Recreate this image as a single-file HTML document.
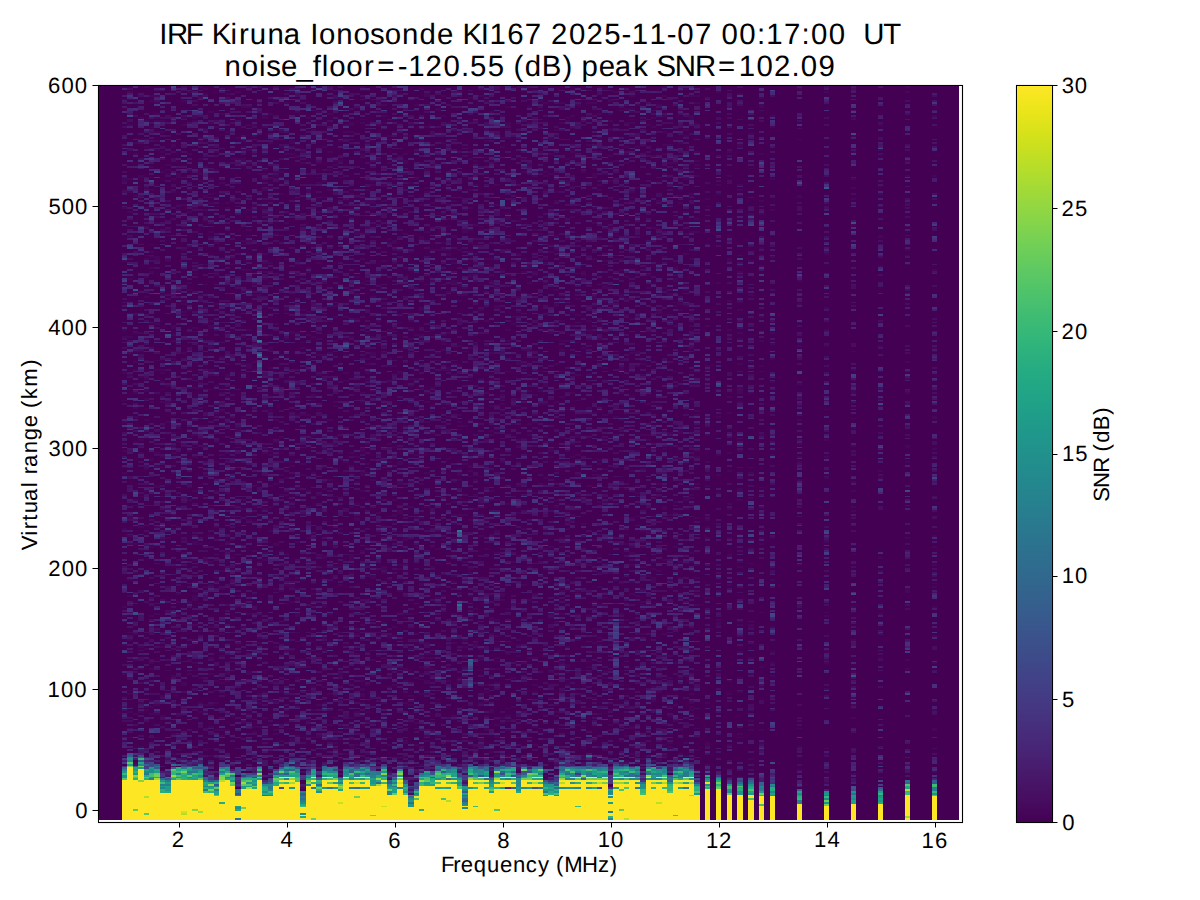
<!DOCTYPE html><html><head><meta charset="utf-8"><title>IRF Kiruna Ionosonde KI167</title><style>html,body{margin:0;padding:0;background:#fff;width:1200px;height:900px;overflow:hidden}svg{display:block}text{font-family:"Liberation Sans",sans-serif;fill:#000;text-rendering:geometricPrecision;font-variant-ligatures:none;font-kerning:none}</style></head><body><svg width="1200" height="900" viewBox="0 0 1200 900"><rect x="0" y="0" width="1200" height="900" fill="#fff"/><defs><linearGradient id="vir" x1="0" y1="0" x2="0" y2="1"><stop offset="0.0000" stop-color="#fde725"/><stop offset="0.0312" stop-color="#ece51b"/><stop offset="0.0625" stop-color="#d8e219"/><stop offset="0.0938" stop-color="#c2df23"/><stop offset="0.1250" stop-color="#addc30"/><stop offset="0.1562" stop-color="#98d83e"/><stop offset="0.1875" stop-color="#84d44b"/><stop offset="0.2188" stop-color="#70cf57"/><stop offset="0.2500" stop-color="#5ec962"/><stop offset="0.2812" stop-color="#4ec36b"/><stop offset="0.3125" stop-color="#3fbc73"/><stop offset="0.3438" stop-color="#32b67a"/><stop offset="0.3750" stop-color="#28ae80"/><stop offset="0.4062" stop-color="#22a785"/><stop offset="0.4375" stop-color="#1fa088"/><stop offset="0.4688" stop-color="#1f988b"/><stop offset="0.5000" stop-color="#21918c"/><stop offset="0.5312" stop-color="#23898e"/><stop offset="0.5625" stop-color="#26828e"/><stop offset="0.5938" stop-color="#297a8e"/><stop offset="0.6250" stop-color="#2c728e"/><stop offset="0.6562" stop-color="#2f6b8e"/><stop offset="0.6875" stop-color="#33638d"/><stop offset="0.7188" stop-color="#375b8d"/><stop offset="0.7500" stop-color="#3b528b"/><stop offset="0.7812" stop-color="#3e4989"/><stop offset="0.8125" stop-color="#424086"/><stop offset="0.8438" stop-color="#453781"/><stop offset="0.8750" stop-color="#472d7b"/><stop offset="0.9062" stop-color="#482374"/><stop offset="0.9375" stop-color="#48186a"/><stop offset="0.9688" stop-color="#470d60"/><stop offset="1.0000" stop-color="#440154"/></linearGradient></defs><rect x="99" y="86" width="860" height="734" fill="#440154"/><g transform="translate(122.1 820) scale(5.397 -1.8125)" fill="none" stroke-width="1" shape-rendering="crispEdges"><path stroke="#46075a" d="M0.5 43v1m0 36v1m0 15v1m0 15v1m0 4v1m0 42v1m0 30v1m0 2v1m0 8v1m0 15v1m0 11v1m0 14v1m0 19v1m0 3v1m0 23v1m0 13v1m0 28v1m0 9v1m0 4v2m0 43v1M1.5 45v1m0 13v1m0 9v1m0 1v1m0 27v1m0 3v1m0 19v1m0 8v1m0 19v1m0 3v1m0 9v2m0 69v1m0 7v1m0 11v1m0 8v1m0 12v1m0 18v1m0 22v1m0 13v1m0 10v1m0 6v1m0 29v1m0 13v1m0 3v1M2.5 31v1m0 26v1m0 29v1m0 13v1m0 6v1m0 26v1m0 9v1m0 5v1m0 20v1m0 2v1m0 31v1m0 13v1m0 4v1m0 7v1m0 12v1m0 3v1m0 5v1m0 9v1m0 9v1m0 12v1m0 52v1m0 22v1m0 5v1m0 23v1M3.5 40v1m0 18v1m0 4v1m0 18v1m0 11v1m0 65v1m0 16v1m0 23v1m0 6v1m0 34v1m0 13v1m0 4v1m0 4v1m0 44v1m0 40v2m0 19v1m0 11v1M4.5 60v1m0 1v1m0 13v1m0 17v1m0 86v1m0 11v1m0 26v1m0 11v1m0 3v2m0 5v1m0 9v1m0 11v1m0 22v1m0 10v1m0 9v1m0 1v1m0 15v1m0 9v1m0 10v1m0 22v1m0 13v1m0 18v1M5.5 58v1m0 3v1m0 2v1m0 17v1m0 2v1m0 25v1m0 25v1m0 11v1m0 47v2m0 10v1m0 19v1m0 71v1m0 1v1m0 5v1m0 2v1m0 3v1m0 29v1m0 6v1m0 5v1m0 21v1m0 13v1m0 2v1M6.5 45v1m0 12v1m0 4v1m0 40v1m0 8v1m0 47v1m0 21v2m0 9v2m0 6v1m0 45v1m0 4v1m0 10v1m0 8v1m0 35v2m0 18v1m0 39v1m0 4v1m0 4v1m0 5v1m0 1v1m0 1v1m0 5v1m0 3v1M7.5 41v1m0 8v1m0 6v1m0 10v1m0 2v1m0 23v1m0 58v1m0 26v1m0 12v1m0 5v1m0 16v1m0 12v1m0 6v1m0 3v1m0 4v1m0 1v1m0 40v1m0 67v1m0 8v1m0 1v1m0 10v1m0 5v1M8.5 66v1m0 15v1m0 31v1m0 40v1m0 29v1m0 20v1m0 12v1m0 10v1m0 8v1m0 68v1m0 13v1m0 2v1m0 30v1m0 1v1m0 2v1m0 8v1M9.5 36v1m0 10v1m0 31v1m0 80v1m0 7v1m0 7v1m0 14v1m0 10v1m0 3v1m0 6v1m0 9v1m0 7v1m0 22v1m0 3v1m0 5v1m0 2v1m0 3v2m0 73v1m0 6v1m0 17v2M10.5 38v1m0 18v1m0 24v1m0 5v1m0 5v1m0 17v1m0 7v1m0 3v1m0 18v1m0 13v1m0 3v1m0 46v1m0 7v1m0 74v1m0 42v1m0 1v1m0 2v1m0 14v3M11.5 34v1m0 32v1m0 6v2m0 71v1m0 6v1m0 18v1m0 21v1m0 4v1m0 56v1m0 20v1m0 1v1m0 3v1m0 1v1m0 24v1m0 2v1m0 24v1m0 43v1m0 3v1m0 8v1M12.5 71v1m0 8v1m0 7v1m0 7v1m0 13v1m0 8v2m0 55v1m0 6v1m0 1v1m0 2v1m0 14v1m0 16v1m0 17v1m0 9v1m0 32v1m0 10v1m0 3v1m0 38v1m0 2v1m0 8v1m0 19v1m0 33v1M13.5 33v1m0 48v1m0 3v1m0 12v1m0 7v1m0 3v1m0 9v3m0 2v1m0 4v1m0 11v1m0 8v2m0 11v1m0 15v1m0 18v1m0 4v1m0 6v1m0 1v1m0 23v1m0 13v1m0 16v1m0 1v1m0 7v1m0 21v1m0 2v1m0 6v1m0 25v1m0 47v1m0 1v2M14.5 36v1m0 22v1m0 4v1m0 13v1m0 25v1m0 14v1m0 32v1m0 57v1m0 6v1m0 9v1m0 10v1m0 2v1m0 4v1m0 42v1m0 15v1m0 21v1m0 24v1m0 3v1m0 7v1m0 9v1m0 1v1m0 22v1m0 4v1M15.5 34v1m0 3v2m0 5v1m0 13v1m0 3v1m0 13v1m0 14v1m0 35v1m0 14v1m0 18v1m0 27v1m0 15v1m0 10v1m0 43v1m0 5v1m0 5v1m0 8v1m0 12v1m0 10v1m0 10v1m0 12v1m0 5v1m0 6v2m0 15v1m0 20v1m0 18v1m0 2v1M16.5 35v1m0 3v1m0 11v1m0 11v1m0 16v1m0 1v1m0 6v1m0 5v1m0 10v1m0 22v1m0 12v1m0 13v1m0 48v1m0 31v1m0 7v1m0 1v2m0 11v2m0 9v2m0 2v1m0 45v1m0 2v1m0 15v1m0 4v1m0 7v1m0 4v1m0 12v1m0 12v1m0 5v1M17.5 24v2m0 23v1m0 11v1m0 2v1m0 11v1m0 22v1m0 3v1m0 29v1m0 23v1m0 3v1m0 19v1m0 15v1m0 10v1m0 15v1m0 14v1m0 32v1m0 11v1m0 15v1m0 1v1m0 15v1m0 19v1m0 19v1m0 9v1m0 13v1M18.5 46v1m0 2v1m0 25v1m0 6v1m0 7v1m0 1v1m0 9v1m0 24v1m0 9v1m0 13v1m0 42v1m0 6v1m0 19v1m0 3v1m0 9v1m0 11v1m0 7v1m0 89v1m0 5v1m0 8v1m0 25v1m0 2v1M19.5 33v1m0 15v1m0 26v1m0 3v2m0 66v1m0 4v1m0 26v1m0 17v1m0 3v1m0 18v1m0 11v1m0 10v2m0 5v1m0 16v1m0 10v1m0 57v1m0 2v1m0 18v1m0 2v1m0 16v1m0 20v1M20.5 45v1m0 11v1m0 51v1m0 19v1m0 14v1m0 4v1m0 4v1m0 17v1m0 66v1m0 37v1m0 19v1m0 8v1m0 41v1m0 15v1M21.5 60v1m0 24v1m0 31v1m0 5v1m0 16v1m0 30v1m0 27v1m0 7v1m0 6v3m0 41v1m0 22v1m0 12v1m0 11v1m0 10v1m0 46v1m0 11v1m0 24v1M22.5 29v1m0 2v2m0 19v1m0 52v1m0 23v1m0 40v1m0 4v1m0 45v1m0 5v1m0 17v1m0 4v1m0 2v1m0 6v1m0 4v1m0 24v1m0 11v1m0 13v1m0 1v1m0 43v2m0 4v1m0 1v1m0 2v1m0 18v1M23.5 58v1m0 16v1m0 4v2m0 31v1m0 51v1m0 3v1m0 51v1m0 27v3m0 8v1m0 4v1m0 4v1m0 32v1m0 13v1m0 1v1m0 2v1m0 2v1m0 10v1m0 6v1m0 18v1m0 6v1m0 5v1m0 7v1m0 9v1M24.5 35v1m0 12v1m0 2v1m0 59v1m0 12v1m0 13v1m0 9v1m0 15v1m0 19v1m0 14v1m0 26v1m0 3v1m0 12v1m0 4v1m0 3v1m0 36v1m0 49v1m0 27v1m0 9v1m0 5v1m0 5v1M25.5 30v1m0 20v1m0 12v1m0 4v1m0 18v1m0 2v1m0 5v1m0 2v1m0 26v1m0 14v1m0 9v1m0 62v1m0 73v1m0 66v1m0 38v1M26.5 23v1m0 22v1m0 9v1m0 13v1m0 11v1m0 4v1m0 55v1m0 3v1m0 23v1m0 2v1m0 27v1m0 1v1m0 33v1m0 16v1m0 18v1m0 8v1m0 14v1m0 3v1m0 4v1m0 4v1m0 21v1m0 3v1m0 8v1m0 8v1m0 1v1m0 8v1m0 14v1m0 4v2M27.5 34v1m0 17v1m0 13v1m0 8v1m0 34v1m0 48v1m0 12v1m0 11v1m0 4v1m0 11v1m0 1v1m0 22v1m0 22v1m0 3v1m0 5v2m0 18v1m0 16v1m0 10v1m0 24v1m0 15v1m0 4v1m0 19v1m0 15v1M28.5 40v1m0 6v1m0 1v1m0 15v1m0 8v1m0 1v1m0 10v1m0 7v1m0 31v1m0 17v1m0 5v2m0 22v1m0 9v1m0 15v1m0 6v1m0 11v1m0 52v1m0 8v1m0 17v1m0 22v1m0 31v1m0 1v1m0 22v1M29.5 43v1m0 26v2m0 50v1m0 3v1m0 21v1m0 13v1m0 16v1m0 10v1m0 20v1m0 35v1m0 8v1m0 56v1m0 20v1m0 10v1m0 11v1m0 13v1m0 7v1M30.5 53v1m0 4v1m0 60v1m0 9v1m0 3v1m0 6v1m0 33v1m0 4v1m0 8v1m0 8v1m0 33v1m0 33v1m0 15v2m0 26v1m0 19v1m0 37v1m0 27v1M31.5 43v2m0 5v1m0 29v1m0 12v1m0 26v1m0 7v2m0 21v1m0 20v1m0 2v1m0 7v1m0 11v1m0 1v1m0 70v2m0 97v1m0 5v2m0 26v1M32.5 34v1m0 11v1m0 30v2m0 1v1m0 7v1m0 14v1m0 3v1m0 4v2m0 7v1m0 5v1m0 5v1m0 19v1m0 2v1m0 13v1m0 11v2m0 14v1m0 24v1m0 9v1m0 8v1m0 25v1m0 32v1m0 4v1m0 1v1m0 56v2m0 5v1m0 17v1M33.5 17v1m0 14v1m0 5v1m0 6v1m0 42v1m0 43v1m0 35v1m0 21v1m0 5v1m0 26v1m0 36v1m0 2v1m0 15v1m0 1v1m0 24v1m0 55v1m0 5v1m0 12v1M34.5 33v1m0 15v1m0 4v1m0 16v1m0 12v1m0 61v1m0 8v1m0 16v1m0 8v1m0 27v1m0 13v1m0 24v1m0 5v1m0 12v1m0 12v1m0 6v1m0 14v1m0 1v1m0 19v1m0 21v2m0 39v1M35.5 45v1m0 14v1m0 12v1m0 24v1m0 25v1m0 5v1m0 7v1m0 52v1m0 20v1m0 18v1m0 2v1m0 16v1m0 14v1m0 6v1m0 11v1m0 41v1m0 52v1m0 22v1M36.5 45v2m0 16v1m0 27v1m0 33v1m0 19v1m0 24v2m0 7v1m0 46v1m0 18v1m0 10v1m0 4v1m0 3v1m0 6v1m0 24v1m0 9v1m0 19v1m0 7v1m0 15v1m0 2v1m0 7v1m0 27v1m0 11v1M37.5 38v1m0 25v1m0 1v1m0 6v1m0 2v1m0 5v1m0 11v1m0 2v1m0 2v1m0 16v2m0 25v2m0 36v1m0 3v1m0 7v1m0 9v1m0 51v1m0 39v1m0 16v1m0 29v1m0 8v1m0 18v1M38.5 30v1m0 2v1m0 18v1m0 16v1m0 25v1m0 17v1m0 40v1m0 4v1m0 27v1m0 11v1m0 3v1m0 16v1m0 36v1m0 17v1m0 10v1m0 60v1m0 10v1m0 9v1m0 20v1M39.5 42v1m0 5v1m0 7v1m0 11v1m0 38v1m0 31v1m0 11v1m0 11v1m0 14v1m0 28v1m0 20v1m0 1v1m0 33v1m0 12v1m0 5v1m0 6v1m0 70v1m0 1v1m0 32v1M40.5 33v1m0 10v1m0 10v1m0 23v2m0 48v1m0 9v1m0 20v1m0 37v1m0 66v1m0 29v1m0 18v1m0 11v1m0 11v1m0 15v1m0 8v1m0 10v1m0 23v1M41.5 36v1m0 14v1m0 54v1m0 12v1m0 30v1m0 30v1m0 15v1m0 44v1m0 3v1m0 9v1m0 7v1m0 12v1m0 33v1m0 67v1m0 3v1m0 5v1M42.5 40v1m0 10v1m0 4v1m0 79v1m0 3v1m0 2v4m0 25v1m0 12v1m0 9v1m0 6v1m0 63v1m0 18v1m0 1v1m0 57v1m0 1v1m0 31v1m0 3v2M43.5 41v1m0 17v1m0 7v1m0 23v1m0 10v1m0 1v1m0 41v1m0 18v2m0 7v1m0 11v1m0 13v1m0 37v1m0 8v1m0 28v1m0 2v1m0 9v2m0 8v1m0 14v1m0 8v2m0 18v1M44.5 57v1m0 6v1m0 3v2m0 1v2m0 3v1m0 8v1m0 13v1m0 7v1m0 12v1m0 27v1m0 28v1m0 3v1m0 8v2m0 6v1m0 4v2m0 4v1m0 10v1m0 9v1m0 1v1m0 2v1m0 13v1m0 46v1m0 12v1m0 17v1m0 16v1m0 21v2m0 16v1m0 1v1m0 15v1m0 1v1M45.5 36v1m0 17v1m0 4v1m0 14v1m0 17v1m0 26v1m0 10v1m0 3v1m0 5v1m0 34v1m0 15v1m0 4v1m0 10v1m0 35v1m0 2v2m0 3v1m0 2v1m0 12v1m0 29v1m0 25v1m0 2v1m0 13v2m0 1v1m0 3v1m0 25v1m0 20v1m0 7v1M46.5 53v1m0 25v1m0 2v1m0 5v1m0 33v1m0 10v2m0 31v1m0 11v1m0 8v1m0 4v1m0 43v1m0 3v1m0 15v2m0 8v1m0 21v1m0 48v1m0 2v2m0 8v1m0 1v1m0 23v1M47.5 43v1m0 37v1m0 8v1m0 8v1m0 1v1m0 55v1m0 3v1m0 7v1m0 14v1m0 12v1m0 12v2m0 30v1m0 4v1m0 27v1m0 16v1m0 9v1m0 8v1m0 51v2m0 18v1m0 12v1M48.5 57v1m0 6v1m0 24v1m0 18v1m0 10v1m0 16v1m0 1v2m0 12v1m0 76v1m0 1v1m0 25v1m0 8v1m0 17v2m0 22v1m0 28v1m0 3v1m0 7v2m0 33v1m0 3v1m0 5v1m0 2v1M49.5 41v1m0 3v1m0 27v1m0 5v1m0 2v1m0 17v2m0 30v1m0 17v1m0 16v1m0 24v1m0 4v1m0 9v1m0 6v1m0 26v1m0 8v1m0 3v1m0 15v1m0 10v1m0 36v1m0 1v1m0 23v1m0 10v1m0 6v1m0 12v1m0 1v1M50.5 61v1m0 12v1m0 21v1m0 4v1m0 4v1m0 49v1m0 10v2m0 7v1m0 5v1m0 22v1m0 9v1m0 26v1m0 7v1m0 20v1m0 35v1m0 6v1m0 3v2m0 59v1m0 6v1M51.5 32v1m0 93v1m0 3v1m0 7v1m0 1v1m0 28v2m0 14v2m0 9v2m0 24v1m0 3v1m0 19v2m0 11v1m0 14v1m0 20v1m0 2v1m0 57v1m0 6v1m0 2v1m0 14v1m0 18v1M52.5 42v2m0 20v1m0 11v1m0 5v2m0 27v1m0 1v1m0 35v1m0 4v2m0 61v1m0 2v1m0 21v1m0 40v1m0 13v1m0 6v1m0 18v1m0 12v1m0 12v1m0 6v1m0 5v2m0 3v1m0 18v1M53.5 19v1m0 1v1m0 7v1m0 25v1m0 7v1m0 4v1m0 13v1m0 7v1m0 3v1m0 18v1m0 58v1m0 13v1m0 9v1m0 42v1m0 3v1m0 21v1m0 5v1m0 3v1m0 37v1m0 37v1m0 31v1M54.5 41v1m0 11v1m0 17v1m0 6v1m0 10v1m0 12v1m0 47v1m0 13v1m0 1v1m0 31v1m0 2v1m0 1v1m0 9v1m0 8v1m0 10v1m0 9v1m0 23v1m0 6v1m0 18v1m0 59v1m0 14v1m0 25v1M55.5 30v1m0 38v1m0 7v1m0 2v1m0 3v1m0 5v1m0 38v2m0 35v1m0 18v1m0 2v1m0 12v1m0 5v1m0 30v1m0 12v1m0 15v1m0 13v2m0 4v1m0 9v1m0 22v2m0 17v1m0 3v1m0 18v1m0 5v1m0 5v1m0 28v1M56.5 37v1m0 5v1m0 2v1m0 22v1m0 5v2m0 6v1m0 5v1m0 1v1m0 5v1m0 21v1m0 35v1m0 16v1m0 18v1m0 27v1m0 10v1m0 4v1m0 27v1m0 15v1m0 4v1m0 10v1m0 28v1m0 2v1m0 10v1m0 7v1m0 1v1m0 9v1m0 23v1m0 16v2M57.5 27v1m0 21v1m0 33v1m0 5v1m0 1v1m0 41v1m0 5v1m0 10v1m0 17v1m0 35v1m0 20v1m0 2v1m0 9v1m0 14v1m0 16v1m0 2v1m0 16v1m0 6v1m0 16v1m0 20v1m0 4v1m0 20v1m0 32v1M58.5 46v1m0 17v1m0 1v1m0 55v1m0 5v1m0 12v1m0 7v1m0 9v1m0 93v1m0 3v1m0 56v1m0 23v1m0 19v1m0 27v1m0 4v2M59.5 31v1m0 8v1m0 39v1m0 36v1m0 5v1m0 11v1m0 18v1m0 39v1m0 32v1m0 1v1m0 18v1m0 10v1m0 2v1m0 4v1m0 20v1m0 12v1m0 12v1m0 3v1m0 8v1m0 6v1m0 38v1m0 14v1m0 10v1M60.5 36v1m0 34v1m0 4v1m0 11v1m0 7v1m0 45v1m0 50v1m0 5v1m0 22v1m0 25v2m0 18v1m0 22v1m0 19v2m0 1v1m0 12v1m0 3v1m0 7v1m0 7v1m0 36v1M61.5 31v1m0 4v1m0 5v1m0 12v1m0 1v1m0 11v1m0 2v1m0 24v1m0 4v1m0 10v1m0 17v1m0 2v1m0 20v1m0 7v1m0 4v1m0 6v1m0 10v1m0 24v1m0 33v1m0 5v1m0 39v1m0 4v2m0 9v1m0 13v2m0 15v1m0 2v1m0 32v1M62.5 43v1m0 24v1m0 7v1m0 1v1m0 15v1m0 29v2m0 42v1m0 8v1m0 9v1m0 2v2m0 1v1m0 17v1m0 3v1m0 1v1m0 1v1m0 3v1m0 6v1m0 11v1m0 7v1m0 10v1m0 1v1m0 10v1m0 11v1m0 2v1m0 4v1m0 19v1m0 4v1m0 36v1m0 22v1m0 6v1M63.5 33v2m0 11v1m0 37v1m0 4v1m0 5v1m0 3v1m0 9v1m0 24v1m0 7v1m0 17v1m0 7v1m0 27v1m0 20v1m0 40v1m0 30v1m0 3v1m0 14v1m0 15v2m0 10v1m0 45v1M64.5 41v1m0 1v1m0 49v1m0 9v1m0 19v1m0 12v1m0 1v1m0 5v1m0 20v1m0 10v1m0 12v1m0 2v1m0 1v2m0 24v1m0 21v1m0 17v1m0 38v2m0 10v1m0 1v1m0 4v1m0 6v1m0 11v1m0 9v1m0 16v1m0 33v1M65.5 32v1m0 7v1m0 4v1m0 44v1m0 5v2m0 18v1m0 13v1m0 35v1m0 4v1m0 7v1m0 7v1m0 13v1m0 3v1m0 4v1m0 21v1m0 13v1m0 6v1m0 8v1m0 4v1m0 36v1m0 2v1m0 4v1m0 15v1m0 21v1m0 12v1M66.5 43v2m0 19v1m0 17v1m0 5v2m0 4v1m0 9v1m0 18v1m0 32v1m0 17v1m0 14v1m0 35v1m0 17v1m0 37v1m0 13v1m0 5v1m0 23v1m0 1v1m0 71v1M67.5 49v2m0 6v1m0 12v1m0 3v1m0 12v1m0 16v1m0 44v1m0 11v1m0 3v1m0 20v1m0 8v1m0 36v1m0 2v1m0 5v1m0 19v1m0 13v1m0 30v1m0 2v1m0 46v1m0 8v1m0 8v1m0 2v1m0 2v2m0 4v1m0 9v1M68.5 25v2m0 10v1m0 21v2m0 41v1m0 7v2m0 45v1m0 18v1m0 4v1m0 30v1m0 1v1m0 13v1m0 3v1m0 12v1m0 11v1m0 1v1m0 37v1m0 2v1m0 8v1m0 26v1m0 17v1m0 35v1M69.5 35v1m0 9v2m0 5v1m0 2v1m0 10v1m0 8v1m0 7v1m0 3v1m0 1v1m0 5v1m0 2v1m0 2v1m0 8v1m0 20v1m0 3v1m0 11v1m0 11v1m0 6v1m0 9v1m0 22v1m0 15v1m0 10v1m0 55v2m0 10v1m0 32v1m0 11v1m0 10v1M70.5 31v1m0 12v1m0 8v1m0 2v1m0 64v1m0 1v2m0 72v1m0 27v1m0 3v1m0 2v1m0 1v1m0 38v1m0 21v1m0 7v1m0 25v1m0 41v1m0 4v1m0 11v1m0 2v1M71.5 35v1m0 13v1m0 4v1m0 2v1m0 3v1m0 20v1m0 8v1m0 24v1m0 57v1m0 40v1m0 7v1m0 23v1m0 16v1m0 5v1m0 29v1m0 30v2m0 1v1m0 14v1m0 5v1m0 20v1m0 3v1m0 2v2m0 8v1M72.5 32v1m0 16v1m0 5v1m0 6v1m0 15v1m0 15v1m0 44v1m0 2v1m0 75v1m0 9v1m0 44v1m0 3v1m0 8v1m0 11v1M73.5 27v1m0 6v1m0 55v1m0 5v1m0 2v1m0 19v1m0 25v1m0 23v1m0 14v1m0 12v1m0 8v1m0 2v1m0 12v1m0 5v1m0 3v1m0 3v1m0 14v2m0 15v1m0 11v1m0 7v1m0 6v1m0 12v1m0 3v1m0 13v1m0 3v1m0 2v1m0 31v1m0 15v1m0 22v1M74.5 32v1m0 53v1m0 24v1m0 17v1m0 30v1m0 29v1m0 19v1m0 37v1m0 2v1m0 7v1m0 42v1m0 1v1m0 4v1m0 27v1m0 19v1m0 6v1m0 39v1M75.5 30v1m0 58v1m0 5v1m0 25v1m0 17v1m0 8v1m0 33v1m0 10v1m0 18v1m0 5v1m0 17v1m0 8v1m0 13v1m0 36v1m0 7v3m0 9v1m0 44v1m0 22v1m0 8v1M76.5 41v1m0 9v1m0 11v1m0 1v1m0 4v1m0 3v1m0 14v1m0 26v1m0 7v1m0 55v1m0 28v1m0 9v1m0 3v1m0 10v1m0 51v1m0 13v1m0 1v1m0 1v1m0 6v1m0 13v1m0 29v1M77.5 93v1m0 50v1m0 40v1m0 19v1m0 23v1m0 6v1m0 10v1m0 7v1m0 41v1m0 25v1m0 44v1m0 1v1m0 11v1m0 13v2M78.5 22v1m0 1v1m0 23v1m0 35v1m0 5v1m0 47v1m0 7v1m0 2v1m0 3v1m0 18v1m0 2v1m0 12v1m0 19v1m0 2v1m0 17v1m0 9v2m0 29v1m0 7v1m0 17v1m0 10v1m0 1v1m0 33v1m0 3v1m0 2v1m0 4v1m0 1v1m0 8v1m0 3v1m0 24v1m0 8v1M79.5 41v1m0 25v1m0 13v1m0 29v1m0 1v1m0 23v1m0 5v1m0 6v1m0 11v1m0 37v1m0 2v2m0 3v1m0 12v1m0 15v1m0 30v1m0 44v1m0 17v1m0 6v1m0 17v1m0 2v1m0 7v1m0 7v2m0 12v1M80.5 25v2m0 3v1m0 26v1m0 1v1m0 3v1m0 44v1m0 6v1m0 1v1m0 5v1m0 48v1m0 3v1m0 6v1m0 9v1m0 11v1m0 24v1m0 20v1m0 31v2m0 7v1m0 21v1m0 6v1m0 19v1m0 4v1m0 30v1m0 2v1M81.5 70v1m0 8v1m0 2v1m0 3v1m0 18v2m0 6v1m0 12v1m0 23v1m0 4v1m0 12v1m0 42v1m0 21v1m0 13v1m0 10v2m0 4v1m0 10v1m0 10v1m0 17v1m0 45v1m0 33v1m0 10v1M82.5 38v1m0 22v1m0 12v1m0 6v1m0 2v2m0 9v1m0 23v1m0 12v1m0 22v1m0 4v1m0 1v1m0 1v1m0 38v1m0 22v1m0 37v1m0 23v1m0 31v1m0 4v1m0 4v1m0 5v1m0 15v1m0 11v1m0 20v1m0 1v1M83.5 50v1m0 55v1m0 47v1m0 10v1m0 2v1m0 8v1m0 22v1m0 6v1m0 2v1m0 3v1m0 10v1m0 9v1m0 44v1m0 14v1m0 36v1m0 16v1m0 15v1m0 2v2m0 11v1m0 6v1M84.5 52v1m0 5v1m0 28v1m0 11v1m0 13v1m0 5v1m0 6v1m0 14v1m0 12v1m0 22v1m0 1v1m0 10v1m0 10v1m0 9v2m0 18v1m0 13v1m0 7v1m0 2v1m0 6v1m0 14v1m0 8v1m0 3v1m0 5v1m0 3v1m0 2v1m0 30v1m0 58v1M85.5 34v1m0 4v2m0 10v1m0 17v1m0 12v1m0 80v1m0 96v1m0 39v1m0 1v1m0 30v1m0 23v1M86.5 32v1m0 28v1m0 19v1m0 2v1m0 2v1m0 21v1m0 2v1m0 27v1m0 3v1m0 39v1m0 30v1m0 10v2m0 17v1m0 12v1m0 10v2m0 4v1m0 19v1m0 10v1m0 4v1m0 3v1m0 22v1m0 33v1m0 13v1m0 1v1m0 6v1M87.5 33v1m0 9v1m0 23v1m0 2v1m0 6v1m0 19v1m0 7v1m0 14v1m0 33v1m0 35v1m0 1v1m0 31v1m0 53v1m0 4v1m0 1v1m0 1v2m0 20v1m0 19v1m0 7v1m0 17v2m0 2v1m0 35v1M88.5 32v2m0 24v1m0 22v1m0 14v1m0 3v1m0 4v1m0 12v1m0 9v1m0 7v1m0 9v1m0 28v1m0 14v1m0 5v1m0 1v1m0 66v1m0 24v1m0 30v1m0 9v1m0 15v1m0 2v1m0 17v1m0 1v1m0 5v1m0 12v1m0 14v1M89.5 38v1m0 27v1m0 5v1m0 5v1m0 2v2m0 35v1m0 3v1m0 2v1m0 15v1m0 12v1m0 20v1m0 7v1m0 9v1m0 5v1m0 5v1m0 1v1m0 15v1m0 25v1m0 9v1m0 2v1m0 19v1m0 3v1m0 6v2m0 11v1m0 1v1m0 22v1m0 24v1m0 4v1M90.5 49v1m0 2v1m0 7v1m0 7v1m0 25v1m0 1v1m0 1v1m0 8v1m0 1v1m0 26v1m0 17v1m0 21v1m0 5v1m0 22v1m0 15v1m0 19v1m0 51v1m0 22v1m0 9v1m0 10v1m0 4v1m0 9v1m0 13v1m0 13v2m0 3v1m0 3v1m0 6v2M91.5 66v1m0 65v1m0 6v1m0 72v1m0 9v1m0 32v1m0 23v1m0 9v1m0 19v1m0 12v1m0 40v1m0 11v1m0 25v1M92.5 35v1m0 7v1m0 10v1m0 11v1m0 7v1m0 33v1m0 4v1m0 16v1m0 58v1m0 25v1m0 4v1m0 14v1m0 12v2m0 4v1m0 33v2m0 13v1m0 5v1m0 24v1M93.5 32v1m0 13v1m0 15v1m0 9v1m0 37v1m0 41v1m0 4v1m0 24v1m0 12v1m0 82v1m0 8v1m0 11v1m0 38v1m0 4v1m0 18v1m0 4v1m0 3v1m0 12v1m0 7v1m0 9v1M94.5 36v1m0 3v1m0 9v2m0 62v1m0 9v1m0 6v1m0 8v1m0 5v2m0 2v1m0 15v1m0 25v1m0 14v1m0 2v1m0 22v1m0 23v1m0 18v1m0 2v1m0 13v1m0 15v1m0 31v1m0 1v1m0 2v1m0 37v1m0 1v1m0 3v1m0 1v1m0 6v1M95.5 80v1m0 1v1m0 19v1m0 20v1m0 2v1m0 3v1m0 13v1m0 22v1m0 5v1m0 6v1m0 3v1m0 18v1m0 22v1m0 23v1m0 6v2m0 20v1m0 68v1m0 22v1m0 22v1M96.5 33v1m0 57v1m0 10v1m0 13v1m0 1v1m0 1v1m0 6v1m0 11v1m0 10v1m0 2v1m0 5v1m0 33v1m0 12v1m0 5v1m0 4v1m0 27v1m0 5v1m0 1v1m0 137v1M97.5 75v1m0 2v1m0 28v1m0 10v1m0 15v1m0 2v1m0 13v1m0 6v2m0 49v1m0 2v1m0 16v1m0 14v1m0 1v1m0 7v1m0 14v1m0 23v1m0 6v1m0 14v1m0 67v1M98.5 31v1m0 33v1m0 7v1m0 44v1m0 12v3m0 4v1m0 3v1m0 19v1m0 74v1m0 88v1m0 39v1m0 2v1m0 12v1m0 4v1M99.5 30v1m0 1v2m0 36v1m0 7v1m0 58v1m0 40v1m0 6v1m0 26v1m0 15v1m0 21v1m0 28v2m0 40v1m0 1v1m0 17v1m0 52v1M100.5 35v1m0 5v1m0 10v1m0 15v1m0 15v1m0 17v1m0 14v1m0 5v1m0 11v1m0 7v1m0 27v2m0 4v1m0 6v1m0 15v1m0 3v1m0 9v1m0 46v1m0 1v1m0 7v1m0 21v1m0 16v1m0 6v1m0 38v1m0 10v1m0 2v1m0 1v1m0 6v1m0 8v1m0 10v1m0 4v1M101.5 40v1m0 1v1m0 4v1m0 9v1m0 4v1m0 15v1m0 11v1m0 26v1m0 14v1m0 33v1m0 1v1m0 20v1m0 16v1m0 6v1m0 64v1m0 10v2m0 48v1m0 14v1m0 7v1m0 9v1M102.5 54v1m0 8v1m0 2v1m0 19v1m0 22v1m0 5v1m0 34v1m0 18v1m0 5v1m0 71v1m0 24v1m0 10v1m0 1v1m0 11v2m0 1v1m0 3v1m0 6v1m0 50v1m0 7v1M103.5 33v1m0 2v1m0 12v2m0 27v1m0 54v1m0 8v1m0 70v2m0 19v1m0 17v1m0 9v1m0 2v1m0 15v1m0 2v1m0 16v1m0 38v1m0 3v1m0 2v1m0 25v1m0 28v1M104.5 35v1m0 6v1m0 36v1m0 10v1m0 50v1m0 29v1m0 4v2m0 105v1m0 8v1m0 1v1m0 17v1m0 10v1m0 11v1m0 17v1m0 4v1m0 18v1m0 2v1m0 22v1M105.5 58v1m0 1v1m0 1v1m0 1v1m0 4v1m0 2v1m0 19v1m0 1v1m0 42v1m0 4v1m0 4v1m0 10v1m0 15v1m0 2v1m0 1v1m0 4v1m0 14v1m0 5v1m0 26v1m0 7v1m0 1v1m0 4v1m0 12v1m0 3v1m0 1v1m0 5v1m0 36v1m0 14v1m0 19v2m0 7v1m0 8v1m0 7v1m0 15v3m0 10v1M106.5 27v1m0 10v1m0 6v1m0 4v1m0 5v1m0 25v1m0 35v1m0 5v1m0 8v1m0 6v1m0 25v1m0 18v1m0 14v1m0 2v1m0 19v1m0 1v1m0 14v1m0 22v1m0 37v1m0 22v1m0 6v1m0 4v1m0 18v1m0 5v1m0 1v1m0 4v1m0 12v1m0 13v1m0 3v1M108.5 30v1m0 10v2m0 21v1m0 38v1m0 18v1m0 32v1m0 5v1m0 3v1m0 18v1m0 5v1m0 6v1m0 14v1m0 26v1m0 8v1m0 1v1m0 15v1m0 5v1m0 54v1m0 10v1m0 3v1M110.5 107v2m0 1v1m0 15v1m0 35v1m0 17v1m0 9v1m0 10v1m0 20v1m0 73v1m0 27v1m0 20v1m0 4v1m0 50v1M112.5 41v1m0 27v1m0 6v1m0 52v1m0 15v2m0 8v1m0 15v1m0 2v1m0 17v1m0 6v1m0 2v1m0 21v1m0 8v1m0 32v1m0 3v1m0 15v1m0 21v2m0 45v1m0 12v1M114.5 45v1m0 1v1m0 22v1m0 7v1m0 13v1m0 14v1m0 1v1m0 29v1m0 2v1m0 12v1m0 1v1m0 18v1m0 4v2m0 20v1m0 26v1m0 4v2m0 1v1m0 12v1m0 13v1m0 2v1m0 12v1m0 3v1m0 14v1m0 1v1m0 2v1m0 5v1m0 32v1m0 2v1m0 2v1m0 20v2m0 27v1M116.5 33v1m0 15v1m0 4v1m0 25v1m0 8v1m0 16v2m0 33v1m0 35v1m0 13v1m0 2v1m0 40v1m0 1v1m0 14v1m0 36v1m0 18v1m0 25v1m0 24v1m0 18v1M118.5 42v1m0 6v1m0 23v1m0 10v1m0 29v1m0 37v1m0 2v1m0 6v1m0 20v1m0 28v1m0 34v1m0 2v1m0 13v1m0 12v1m0 27v1m0 9v1m0 18v1m0 6v1m0 25v1m0 25v2m0 3v1M120.5 79v1m0 6v1m0 5v1m0 13v1m0 25v1m0 22v1m0 43v1m0 1v1m0 39v1m0 12v1m0 7v1m0 5v1m0 41v1m0 11v1m0 13v1m0 16v1m0 5v1m0 22v1m0 5v1M125.5 27v1m0 12v1m0 9v1m0 31v1m0 57v1m0 46v1m0 9v1m0 2v1m0 6v1m0 12v1m0 7v1m0 11v1m0 20v1m0 12v1m0 9v1m0 12v1m0 3v1m0 41v2m0 30v1m0 27v1M130.5 20v1m0 15v1m0 2v1m0 32v1m0 13v1m0 1v1m0 4v1m0 15v1m0 2v1m0 1v1m0 38v1m0 3v1m0 30v1m0 11v1m0 8v1m0 16v1m0 34v1m0 8v1m0 11v1m0 29v1m0 88v1M135.5 25v1m0 30v1m0 4v1m0 1v1m0 3v1m0 2v1m0 10v1m0 17v1m0 14v1m0 2v1m0 28v1m0 4v1m0 18v1m0 1v1m0 8v1m0 4v1m0 15v1m0 3v1m0 9v1m0 4v1m0 13v2m0 5v1m0 5v1m0 9v1m0 69v1m0 13v1m0 5v1m0 4v1m0 14v1m0 8v1m0 9v1M140.5 89v1m0 19v1m0 3v1m0 2v1m0 20v1m0 6v1m0 43v1m0 3v1m0 5v1m0 29v1m0 3v1m0 4v1m0 9v1m0 13v1m0 43v1m0 15v2m0 22v1m0 3v1m0 19v1m0 13v1M145.5 83v1m0 4v1m0 36v3m0 27v1m0 41v1m0 7v2m0 28v1m0 7v1m0 8v1m0 53v1m0 4v1m0 2v1m0 12v1m0 12v1m0 14v1m0 7v1m0 37v1m0 2v1M150.5 23v1m0 2v1m0 22v2m0 9v1m0 25v1m0 14v1m0 15v1m0 10v1m0 1v1m0 9v1m0 9v1m0 5v1m0 47v1m0 16v2m0 35v1m0 1v1m0 42v1m0 51v1m0 32v1"/><path stroke="#470d60" d="M0.5 54v1m0 5v1m0 6v1m0 17v1m0 23v1m0 29v1m0 39v1m0 33v1m0 15v1m0 30v1m0 4v1m0 19v1m0 1v1m0 8v1m0 49v1m0 4v1m0 2v1m0 2v1m0 24v1M1.5 48v1m0 1v1m0 3v1m0 1v1m0 9v1m0 10v2m0 22v1m0 12v1m0 23v1m0 1v1m0 24v1m0 17v1m0 4v2m0 13v1m0 40v1m0 19v1m0 44v1m0 12v1m0 4v1m0 41v1m0 15v2m0 16v1M2.5 30v1m0 21v1m0 18v1m0 9v1m0 43v1m0 39v1m0 48v1m0 14v1m0 10v1m0 28v1m0 9v1m0 33v1m0 74v1M3.5 46v1m0 28v1m0 12v2m0 3v1m0 32v1m0 39v1m0 13v1m0 4v1m0 9v1m0 1v1m0 8v1m0 48v2m0 2v1m0 57v1m0 26v1m0 19v1m0 8v1m0 25v1M4.5 54v1m0 45v1m0 2v1m0 16v1m0 30v1m0 7v1m0 2v1m0 22v1m0 8v2m0 18v1m0 29v1m0 17v1m0 12v1m0 2v1m0 12v1m0 14v1m0 19v1m0 20v1m0 6v1m0 20v1M5.5 45v2m0 22v1m0 18v1m0 10v1m0 2v2m0 6v1m0 7v2m0 2v1m0 10v1m0 31v1m0 7v1m0 15v1m0 70v1m0 23v1m0 16v1m0 6v1m0 2v1m0 22v1m0 35v1m0 3v1m0 4v1m0 4v1M6.5 31v1m0 20v1m0 16v1m0 22v1m0 2v1m0 9v1m0 13v1m0 21v1m0 59v1m0 5v1m0 6v1m0 20v1m0 21v1m0 13v1m0 22v1m0 9v1m0 3v1m0 23v1m0 1v1m0 7v1m0 53v1m0 5v1M7.5 51v1m0 3v2m0 10v1m0 29v1m0 5v1m0 15v1m0 1v1m0 29v1m0 3v1m0 11v1m0 3v1m0 3v1m0 2v1m0 5v1m0 11v1m0 4v1m0 8v1m0 7v1m0 14v1m0 20v1m0 39v1m0 24v1m0 5v1m0 3v1m0 34v1m0 5v2m0 15v1m0 14v1M8.5 33v1m0 4v1m0 16v1m0 32v1m0 11v1m0 14v1m0 12v1m0 42v1m0 57v1m0 5v1m0 12v1m0 38v1m0 1v1m0 19v1m0 16v1m0 3v1m0 10v1m0 10v1m0 2v1m0 11v1m0 9v1m0 9v2M9.5 41v1m0 22v1m0 13v1m0 11v1m0 3v1m0 22v1m0 44v1m0 32v1m0 9v1m0 5v1m0 40v1m0 36v1m0 5v1m0 6v1m0 28v1m0 5v1m0 9v1m0 1v2m0 12v2m0 3v1M10.5 36v1m0 10v1m0 10v1m0 20v1m0 24v1m0 24v1m0 2v1m0 5v1m0 9v1m0 23v1m0 7v1m0 8v1m0 13v1m0 13v1m0 19v1m0 19v1m0 4v1m0 25v1m0 3v1m0 45v1m0 39v1M11.5 33v1m0 27v1m0 8v1m0 16v1m0 45v1m0 6v1m0 12v1m0 1v1m0 9v1m0 9v1m0 1v1m0 28v2m0 46v1m0 60v1m0 11v1m0 26v1m0 13v1m0 19v1m0 13v1m0 1v1M12.5 43v1m0 5v1m0 37v1m0 4v1m0 6v1m0 17v1m0 10v1m0 1v1m0 7v1m0 26v1m0 18v1m0 7v1m0 22v1m0 43v2m0 4v1m0 3v1m0 20v1m0 25v1m0 10v1m0 2v1m0 20v1m0 6v1m0 25v1M13.5 37v1m0 2v1m0 19v1m0 10v2m0 6v1m0 54v1m0 4v1m0 16v1m0 1v1m0 8v1m0 6v1m0 32v1m0 12v1m0 4v2m0 15v1m0 12v1m0 6v1m0 17v1m0 10v1m0 7v1m0 3v1m0 3v1m0 16v1m0 11v1m0 57v1m0 1v1M14.5 35v1m0 7v1m0 7v2m0 45v1m0 2v1m0 46v1m0 6v1m0 26v1m0 23v1m0 4v1m0 2v1m0 25v1m0 37v1m0 3v1m0 3v2m0 18v1m0 4v1m0 24v1m0 34v1m0 1v1m0 14v1m0 2v1m0 6v1M15.5 35v1m0 13v2m0 27v1m0 43v2m0 20v1m0 3v1m0 30v1m0 5v1m0 3v1m0 1v1m0 5v1m0 17v1m0 7v2m0 12v1m0 2v1m0 7v1m0 15v1m0 35v1m0 31v1m0 33v1m0 6v1m0 6v1m0 18v1M16.5 30v1m0 16v1m0 16v1m0 5v1m0 17v1m0 9v1m0 29v1m0 21v1m0 8v1m0 11v1m0 1v1m0 41v1m0 3v1m0 21v1m0 22v1m0 23v1m0 22v1m0 17v1m0 13v1M17.5 34v1m0 36v1m0 13v2m0 19v1m0 24v1m0 11v1m0 2v1m0 7v1m0 25v1m0 28v1m0 3v1m0 8v1m0 6v1m0 15v1m0 21v1m0 2v1m0 24v1m0 5v1m0 21v1m0 16v1m0 2v1m0 22v1m0 4v1m0 4v1m0 8v1M18.5 33v1m0 22v1m0 2v1m0 8v1m0 1v1m0 57v1m0 19v1m0 77v1m0 2v1m0 33v1m0 10v1m0 11v1m0 22v1m0 22v2m0 69v1M19.5 58v1m0 32v1m0 15v1m0 7v1m0 2v1m0 10v1m0 9v1m0 7v1m0 4v1m0 4v1m0 25v1m0 3v2m0 8v1m0 13v1m0 4v1m0 2v1m0 19v1m0 17v2m0 27v1m0 8v1m0 4v1m0 3v1m0 6v1m0 13v1m0 1v1m0 70v1M20.5 72v1m0 14v1m0 11v1m0 3v1m0 13v1m0 13v2m0 6v1m0 21v1m0 5v1m0 54v1m0 8v1m0 2v1m0 20v2m0 23v1m0 1v1m0 15v1m0 11v1m0 9v1m0 20v1m0 20v1m0 5v1m0 15v1m0 15v1M21.5 39v1m0 16v1m0 16v1m0 2v1m0 10v1m0 9v1m0 48v1m0 20v1m0 4v1m0 29v1m0 2v1m0 11v1m0 19v1m0 34v2m0 19v1m0 18v1m0 21v1m0 3v1m0 3v1m0 3v1m0 4v1m0 10v1m0 22v1M22.5 44v1m0 9v1m0 96v1m0 6v1m0 7v1m0 16v1m0 2v1m0 10v1m0 77v1m0 3v1m0 2v2m0 43v1m0 33v1m0 5v1m0 9v1m0 4v1m0 11v1M23.5 44v1m0 2v1m0 2v1m0 5v1m0 3v1m0 30v1m0 43v1m0 28v1m0 31v1m0 12v1m0 5v1m0 76v1m0 25v1m0 83v1m0 1v1M24.5 47v1m0 7v1m0 10v1m0 30v1m0 15v1m0 2v2m0 37v1m0 14v1m0 2v1m0 57v1m0 30v1m0 13v1m0 14v1m0 2v1m0 1v1m0 22v1m0 12v1m0 3v1m0 34v1m0 3v1m0 6v1m0 8v1M25.5 73v1m0 39v1m0 19v1m0 38v1m0 8v3m0 29v1m0 47v2m0 25v1m0 2v1m0 86v1m0 11v1m0 13v1M26.5 42v1m0 20v1m0 45v1m0 44v1m0 13v1m0 14v1m0 6v2m0 13v1m0 1v1m0 17v1m0 6v1m0 12v2m0 16v1m0 24v1m0 11v1m0 7v1m0 23v1m0 3v1m0 5v1m0 5v1m0 2v1m0 1v1M27.5 27v1m0 26v1m0 10v1m0 42v1m0 12v2m0 42v1m0 12v1m0 17v1m0 10v1m0 15v2m0 19v1m0 13v1m0 8v1m0 14v1m0 19v1m0 12v1m0 13v1m0 5v1m0 4v1m0 1v1m0 11v1m0 6v1m0 16v1M28.5 29v1m0 34v1m0 10v1m0 6v1m0 14v1m0 27v1m0 8v1m0 26v2m0 10v1m0 35v1m0 25v1m0 7v1m0 26v1m0 8v1m0 21v1m0 17v1m0 32v2m0 2v1m0 31v1m0 6v1m0 1v1m0 6v1M29.5 52v1m0 14v1m0 10v1m0 4v1m0 6v1m0 5v1m0 12v1m0 30v2m0 11v1m0 33v1m0 9v1m0 6v1m0 10v1m0 3v1m0 5v1m0 18v1m0 6v1m0 39v1m0 6v1m0 19v1m0 3v1m0 31v1m0 9v1m0 7v1m0 2v1m0 4v1M30.5 60v1m0 2v1m0 5v1m0 15v1m0 6v1m0 38v1m0 14v1m0 14v1m0 11v1m0 7v1m0 10v1m0 12v1m0 35v2m0 8v1m0 14v1m0 12v1m0 12v1m0 32v1m0 9v1m0 14v1m0 19v1m0 1v1m0 6v1m0 20v1M31.5 30v1m0 38v1m0 2v1m0 12v1m0 8v1m0 4v1m0 3v1m0 23v1m0 3v1m0 3v1m0 55v1m0 9v1m0 21v2m0 2v1m0 6v1m0 7v1m0 5v1m0 3v1m0 25v1m0 11v1m0 14v1m0 9v1m0 25v1m0 5v1m0 23v1m0 31v1M32.5 62v1m0 35v1m0 23v1m0 20v1m0 35v1m0 49v1m0 1v1m0 6v1m0 1v1m0 7v1m0 17v1m0 17v1m0 2v1m0 12v1m0 42v1m0 26v1m0 28v2m0 2v1M33.5 26v1m0 15v1m0 12v1m0 14v1m0 13v1m0 84v1m0 12v1m0 22v1m0 1v1m0 16v1m0 73v1m0 17v1m0 8v2m0 1v1m0 4v2m0 15v1m0 13v1m0 4v1m0 25v1m0 1v1M34.5 31v1m0 13v1m0 7v1m0 23v1m0 11v1m0 13v1m0 14v1m0 21v1m0 1v1m0 1v1m0 18v1m0 29v1m0 4v1m0 22v1m0 54v2m0 33v1m0 38v1m0 5v1m0 18v1m0 3v1M35.5 51v1m0 18v2m0 21v1m0 23v1m0 9v1m0 19v1m0 7v1m0 2v1m0 19v1m0 39v1m0 14v1m0 6v1m0 36v1m0 5v2m0 11v1m0 1v1m0 13v1m0 6v1m0 30v1m0 40v1M36.5 24v1m0 3v1m0 6v1m0 11v1m0 12v1m0 13v1m0 6v1m0 7v1m0 36v1m0 12v1m0 4v1m0 1v1m0 13v2m0 12v1m0 5v1m0 27v1m0 14v2m0 4v1m0 16v1m0 21v1m0 7v1m0 6v1m0 28v1m0 3v1m0 9v1m0 12v1m0 3v1m0 2v1m0 9v1m0 6v1m0 19v1M37.5 62v1m0 36v1m0 37v1m0 17v1m0 8v1m0 40v1m0 1v1m0 3v1m0 9v1m0 21v2m0 30v1m0 3v1m0 2v1m0 75v1m0 32v1M38.5 29v1m0 12v1m0 1v1m0 15v1m0 71v1m0 6v1m0 38v1m0 2v1m0 1v1m0 23v1m0 31v1m0 4v1m0 38v1m0 31v1m0 6v1m0 7v1m0 5v2m0 22v1m0 21v1m0 2v1m0 18v1M39.5 45v1m0 88v1m0 10v1m0 4v1m0 10v1m0 31v1m0 12v1m0 2v1m0 1v1m0 23v1m0 19v1m0 2v1m0 26v1m0 13v1m0 2v1m0 42v2m0 1v1m0 7v1m0 41v2m0 2v1M40.5 25v1m0 10v1m0 11v1m0 3v1m0 7v1m0 3v2m0 7v1m0 4v1m0 2v1m0 21v1m0 16v1m0 15v1m0 21v1m0 18v1m0 24v1m0 9v1m0 28v1m0 65v1m0 27v1m0 5v1m0 15v1m0 4v1m0 3v1m0 37v1M41.5 56v3m0 34v1m0 3v1m0 3v1m0 44v1m0 23v2m0 20v1m0 23v1m0 8v1m0 48v1m0 18v1m0 27v1m0 11v1m0 5v1m0 2v1m0 3v1m0 8v1m0 18v2M42.5 41v1m0 2v1m0 29v1m0 16v1m0 24v1m0 11v1m0 5v1m0 65v1m0 19v1m0 13v1m0 8v1m0 21v1m0 10v1m0 15v1m0 80v1m0 1v1m0 16v1m0 7v1M43.5 32v1m0 6v1m0 7v1m0 9v1m0 6v1m0 11v1m0 12v1m0 3v1m0 7v1m0 3v1m0 16v1m0 45v1m0 54v1m0 15v1m0 3v1m0 1v1m0 90v1m0 7v1m0 15v1m0 17v1m0 14v1m0 6v1M44.5 35v1m0 11v1m0 12v1m0 42v1m0 12v1m0 4v1m0 20v1m0 4v1m0 3v1m0 40v1m0 8v1m0 52v1m0 1v1m0 13v1m0 6v1m0 15v1m0 29v1m0 9v1m0 31v1m0 3v2m0 4v1m0 15v1m0 5v1m0 1v1M45.5 33v1m0 5v1m0 13v1m0 21v1m0 8v1m0 14v1m0 3v1m0 17v1m0 17v1m0 20v1m0 9v1m0 23v1m0 7v1m0 20v1m0 17v1m0 15v1m0 2v1m0 8v1m0 2v1m0 2v1m0 4v2m0 45v1m0 22v1m0 11v1m0 5v1M46.5 32v1m0 17v1m0 16v1m0 25v1m0 9v1m0 4v1m0 1v1m0 61v1m0 25v1m0 6v1m0 5v2m0 4v1m0 25v1m0 7v1m0 8v1m0 46v1m0 9v1m0 1v1m0 1v1m0 7v1m0 13v1m0 16v1m0 2v1m0 3v1m0 29v1M47.5 31v1m0 2v1m0 15v1m0 14v1m0 37v1m0 34v1m0 3v2m0 9v1m0 5v1m0 4v1m0 9v1m0 26v1m0 11v1m0 2v1m0 16v1m0 45v1m0 14v1m0 20v1m0 12v1m0 4v1m0 18v1m0 23v1m0 17v1M48.5 54v1m0 30v1m0 16v1m0 34v1m0 17v1m0 5v1m0 14v1m0 10v1m0 6v1m0 1v1m0 1v1m0 5v1m0 12v1m0 1v1m0 6v1m0 23v1m0 7v1m0 1v2m0 20v1m0 4v1m0 7v1m0 17v1m0 15v1m0 2v3m0 24v1M49.5 22v1m0 3v1m0 2v1m0 20v1m0 15v1m0 17v1m0 17v1m0 2v1m0 24v1m0 2v1m0 14v1m0 12v1m0 32v1m0 9v1m0 22v1m0 14v1m0 24v1m0 31v1m0 17v1m0 10v1m0 36v1m0 20v1M50.5 34v1m0 46v1m0 2v1m0 51v1m0 1v1m0 2v1m0 10v1m0 1v1m0 4v1m0 3v1m0 15v1m0 15v1m0 3v1m0 1v1m0 15v1m0 27v1m0 7v1m0 8v1m0 3v1m0 2v1m0 20v1m0 6v1m0 39v1m0 5v1m0 6v1m0 2v1m0 5v1m0 4v1m0 12v1m0 11v1m0 9v1m0 2v1M51.5 34v1m0 13v1m0 2v1m0 7v1m0 24v1m0 28v1m0 38v1m0 20v1m0 32v1m0 6v1m0 19v1m0 21v1m0 22v1m0 13v1m0 17v1m0 3v1m0 6v1m0 3v1m0 11v1m0 32v1m0 8v1M52.5 30v1m0 4v1m0 13v1m0 20v1m0 52v1m0 7v1m0 8v1m0 21v1m0 3v1m0 6v1m0 9v1m0 1v1m0 66v1m0 7v1m0 5v1m0 21v1m0 10v1m0 47v1m0 3v1m0 25v1m0 14v1M53.5 14v1m0 5v1m0 18v1m0 14v1m0 10v1m0 33v1m0 6v1m0 3v1m0 10v1m0 33v1m0 101v1m0 2v1m0 18v1m0 13v1m0 9v1m0 17v1m0 13v1m0 8v1m0 39v1m0 3v1M54.5 29v1m0 18v1m0 1v1m0 47v2m0 19v1m0 5v1m0 12v1m0 13v1m0 41v1m0 159v1m0 14v1m0 21v1M55.5 39v2m0 8v1m0 39v1m0 7v1m0 59v1m0 61v1m0 7v1m0 9v1m0 8v1m0 17v1m0 5v2m0 17v1m0 51v1m0 33v1m0 5v1m0 6v1M56.5 49v1m0 30v2m0 2v1m0 10v2m0 5v1m0 45v1m0 10v1m0 22v1m0 31v1m0 54v1m0 3v1m0 26v1m0 9v1m0 4v1m0 3v1m0 47v1m0 22v1m0 3v1M57.5 35v1m0 19v1m0 13v1m0 5v1m0 3v1m0 41v1m0 16v1m0 12v1m0 8v1m0 9v2m0 41v1m0 52v1m0 59v1m0 51v2M58.5 35v1m0 21v2m0 51v1m0 2v1m0 6v1m0 13v1m0 77v1m0 3v1m0 22v1m0 4v1m0 3v1m0 23v1m0 29v1m0 23v1m0 6v1m0 31v1m0 1v1m0 9v1m0 4v1m0 17v1M59.5 42v1m0 3v1m0 57v1m0 10v1m0 10v1m0 29v1m0 20v1m0 39v1m0 1v1m0 1v1m0 28v1m0 13v1m0 30v1m0 8v1m0 2v1m0 7v1m0 61v1m0 6v1M60.5 31v1m0 24v1m0 26v1m0 1v1m0 13v1m0 10v1m0 17v1m0 21v1m0 8v1m0 14v1m0 39v2m0 2v1m0 10v1m0 16v1m0 11v1m0 37v1m0 55v1m0 4v1m0 13v1m0 3v1m0 18v1M61.5 91v1m0 16v1m0 18v1m0 75v2m0 18v1m0 12v1m0 16v1m0 7v1m0 8v1m0 24v1m0 6v1m0 12v1m0 18v1m0 8v1m0 25v1m0 10v1m0 20v1M62.5 29v1m0 24v1m0 5v1m0 20v1m0 5v1m0 7v1m0 10v1m0 28v1m0 15v1m0 3v1m0 26v1m0 19v1m0 43v2m0 18v1m0 6v1m0 1v2m0 27v1m0 24v1m0 13v1m0 3v1m0 17v1m0 2v1m0 16v1m0 13v1m0 1v1M63.5 25v1m0 5v1m0 11v1m0 3v1m0 35v1m0 48v1m0 24v2m0 20v1m0 21v1m0 37v1m0 12v1m0 21v1m0 15v1m0 12v1m0 9v1m0 1v1m0 22v1m0 1v1m0 1v1m0 12v1m0 10v1m0 3v1m0 1v1m0 7v1M64.5 35v1m0 27v1m0 51v1m0 23v1m0 8v1m0 1v1m0 7v1m0 19v1m0 5v1m0 14v1m0 30v1m0 3v1m0 9v1m0 10v1m0 23v1m0 73v1m0 14v1m0 15v1m0 4v1m0 12v1M65.5 33v1m0 3v1m0 3v1m0 53v1m0 31v1m0 20v1m0 29v1m0 11v2m0 20v1m0 26v1m0 14v1m0 8v1m0 10v1m0 9v2m0 11v1m0 2v1m0 5v1m0 9v1m0 3v1m0 34v2m0 2v1m0 1v1m0 22v2M66.5 33v1m0 6v2m0 21v1m0 4v1m0 10v1m0 27v1m0 25v1m0 7v2m0 2v1m0 16v1m0 5v1m0 6v2m0 23v1m0 13v1m0 3v1m0 9v1m0 21v1m0 17v1m0 13v1m0 21v1m0 11v1m0 3v1m0 13v1m0 1v1m0 8v1m0 14v1m0 42v1M67.5 32v1m0 19v1m0 12v1m0 6v1m0 21v2m0 17v1m0 10v1m0 2v1m0 5v1m0 11v1m0 36v2m0 24v2m0 39v1m0 5v1m0 8v1m0 3v1m0 14v1m0 3v1m0 3v1m0 33v1m0 5v1m0 1v1m0 9v1m0 6v1m0 32v2M68.5 24v1m0 43v1m0 10v1m0 3v1m0 9v1m0 22v1m0 3v1m0 3v1m0 13v1m0 14v1m0 2v1m0 13v1m0 22v1m0 24v1m0 4v1m0 18v1m0 10v1m0 10v1m0 31v1m0 21v1m0 7v1m0 12v1m0 22v1m0 11v1m0 20v1M69.5 56v1m0 15v1m0 65v1m0 19v1m0 11v1m0 20v1m0 21v1m0 6v2m0 6v1m0 18v1m0 9v1m0 35v1m0 35v2m0 2v3m0 42v2m0 23v2M70.5 36v1m0 22v1m0 89v1m0 38v1m0 9v1m0 11v1m0 12v1m0 7v1m0 1v1m0 5v1m0 17v2m0 6v1m0 17v1m0 5v1m0 12v1m0 10v2m0 2v1m0 19v1m0 44v1M71.5 92v1m0 5v1m0 6v1m0 4v1m0 2v1m0 23v1m0 15v1m0 1v1m0 28v1m0 27v1m0 41v1m0 20v1m0 18v1m0 19v1m0 4v2m0 21v1m0 2v1m0 36v1m0 13v1m0 5v1M72.5 40v1m0 13v1m0 31v1m0 5v1m0 25v2m0 3v1m0 23v1m0 9v1m0 20v1m0 14v1m0 17v1m0 19v2m0 55v1m0 6v1m0 11v1m0 11v1m0 10v1m0 11v1m0 1v1m0 6v2m0 24v1M73.5 28v1m0 12v1m0 3v1m0 11v2m0 98v1m0 3v1m0 10v1m0 12v1m0 19v1m0 12v1m0 7v1m0 16v1m0 31v1m0 1v1m0 9v1m0 4v1m0 8v1m0 9v1m0 38v1m0 25v1m0 3v1m0 3v1M74.5 48v1m0 10v1m0 17v1m0 1v1m0 1v1m0 14v1m0 18v1m0 30v1m0 23v1m0 8v1m0 1v1m0 3v1m0 15v1m0 7v1m0 17v1m0 2v1m0 4v1m0 16v1m0 26v1m0 10v1m0 77v1m0 16v1m0 10v1M75.5 54v1m0 46v1m0 10v1m0 41v1m0 10v1m0 3v1m0 69v1m0 10v1m0 7v1m0 30v1m0 38v1m0 19v2m0 6v1m0 3v1m0 1v1m0 41v1M76.5 32v1m0 5v1m0 43v1m0 17v1m0 4v1m0 17v1m0 17v1m0 15v2m0 47v1m0 9v1m0 4v1m0 26v1m0 3v1m0 2v1m0 1v2m0 13v1m0 1v2m0 25v1m0 8v1m0 8v1m0 61v1m0 3v1m0 1v1m0 14v1M77.5 50v1m0 16v1m0 13v1m0 20v1m0 6v2m0 30v2m0 4v1m0 1v1m0 31v1m0 8v1m0 11v1m0 15v1m0 45v1m0 24v1m0 18v2m0 3v1m0 11v1m0 6v1m0 23v1m0 24v1m0 2v1m0 1v1m0 6v1m0 6v1M78.5 44v1m0 12v1m0 17v1m0 20v1m0 33v1m0 10v1m0 26v1m0 4v1m0 4v1m0 18v1m0 32v1m0 16v1m0 31v1m0 2v2m0 22v1m0 3v1m0 11v1m0 5v1m0 5v1m0 11v1m0 4v1m0 36v1M79.5 32v1m0 30v1m0 9v2m0 7v1m0 23v2m0 4v1m0 9v1m0 47v1m0 16v1m0 22v1m0 6v1m0 14v1m0 17v1m0 18v1m0 3v1m0 42v1m0 6v1m0 11v1m0 12v1M80.5 31v1m0 42v1m0 26v1m0 7v1m0 38v1m0 24v1m0 6v1m0 4v1m0 5v1m0 22v2m0 8v1m0 12v1m0 66v1m0 7v1m0 2v1m0 24v1m0 16v1m0 10v1m0 13v1m0 12v1M81.5 47v1m0 2v1m0 1v1m0 6v1m0 11v2m0 12v1m0 34v1m0 1v1m0 5v1m0 10v2m0 1v1m0 41v1m0 12v1m0 2v1m0 20v1m0 18v1m0 21v1m0 6v1m0 19v1m0 17v1m0 2v1m0 8v1m0 3v1m0 12v1m0 9v1m0 28v1m0 4v1m0 11v1M82.5 65v1m0 11v1m0 12v1m0 54v1m0 7v1m0 9v1m0 2v1m0 2v1m0 3v1m0 6v1m0 25v1m0 28v1m0 13v1m0 81v1m0 7v1m0 11v1m0 10v1m0 12v1m0 17v1M83.5 31v1m0 39v1m0 3v1m0 22v1m0 32v1m0 32v1m0 46v1m0 6v1m0 25v1m0 14v1m0 12v1m0 10v1m0 33v1m0 4v1m0 1v1m0 11v1m0 2v1m0 8v1m0 3v1m0 2v1m0 16v1m0 9v1m0 14v1M84.5 64v2m0 3v1m0 11v1m0 29v1m0 12v1m0 8v1m0 6v1m0 30v1m0 13v1m0 5v1m0 16v1m0 65v1m0 14v1m0 4v1m0 10v1m0 4v1m0 5v1m0 2v1m0 19v1m0 25v1m0 1v1m0 15v1M85.5 30v2m0 1v1m0 1v1m0 67v1m0 22v1m0 22v1m0 6v1m0 19v1m0 11v1m0 11v1m0 23v1m0 14v1m0 28v1m0 7v1m0 24v1m0 13v1m0 42v1m0 2v1m0 21v1m0 1v1m0 11v1M86.5 48v1m0 18v1m0 5v1m0 4v2m0 2v1m0 15v1m0 17v1m0 8v2m0 32v1m0 15v1m0 19v1m0 15v1m0 8v1m0 3v1m0 34v1m0 1v1m0 3v1m0 15v1m0 1v1m0 10v1m0 15v1m0 8v1m0 20v1m0 3v1m0 29v1m0 27v1M87.5 54v1m0 1v1m0 1v1m0 5v1m0 23v1m0 3v1m0 8v1m0 9v1m0 4v1m0 20v1m0 132v1m0 1v1m0 16v1m0 23v1m0 21v1m0 18v1m0 13v1m0 3v1m0 15v1m0 3v1M88.5 40v1m0 5v1m0 15v1m0 72v1m0 6v1m0 1v1m0 12v1m0 31v1m0 20v1m0 16v1m0 3v1m0 34v2m0 8v1m0 5v1m0 12v1m0 32v1m0 5v1m0 1v1m0 15v1m0 3v1m0 9v1m0 33v2M89.5 62v1m0 8v1m0 12v1m0 18v1m0 10v1m0 21v1m0 41v2m0 29v1m0 1v1m0 25v1m0 3v1m0 5v1m0 21v1m0 42v1m0 13v1m0 8v1m0 1v1M90.5 25v1m0 3v1m0 6v1m0 22v1m0 4v1m0 6v1m0 2v2m0 7v1m0 6v1m0 55v1m0 48v1m0 22v1m0 5v1m0 38v1m0 18v1m0 1v1m0 14v1m0 28v1m0 14v1m0 58v1M91.5 53v1m0 7v1m0 91v1m0 1v1m0 18v1m0 9v1m0 4v1m0 4v2m0 6v1m0 24v2m0 19v1m0 9v1m0 23v1m0 1v1m0 17v1m0 8v1m0 8v1m0 3v1m0 15v1m0 10v1m0 1v1m0 3v1m0 23v1M92.5 37v1m0 13v1m0 60v1m0 18v1m0 20v1m0 8v1m0 21v1m0 2v1m0 16v1m0 10v1m0 14v1m0 20v1m0 2v1m0 43v1m0 15v1m0 3v1m0 3v1m0 20v1m0 6v1m0 30v1m0 10v1m0 1v1M93.5 31v1m0 18v1m0 8v1m0 1v1m0 3v1m0 2v1m0 13v1m0 4v1m0 4v1m0 26v1m0 1v1m0 12v1m0 10v1m0 2v1m0 11v1m0 24v1m0 7v1m0 4v1m0 16v1m0 8v1m0 16v1m0 11v2m0 1v1m0 5v2m0 3v1m0 9v1m0 8v1m0 27v1m0 6v1m0 18v1m0 13v1m0 13v1m0 14v1m0 10v1M94.5 62v1m0 14v1m0 22v1m0 5v1m0 11v1m0 18v1m0 5v1m0 7v1m0 13v1m0 15v1m0 21v1m0 20v1m0 22v1m0 1v2m0 8v1m0 2v1m0 6v1m0 17v1m0 10v1m0 4v1m0 9v1m0 2v1m0 30v1m0 26v1m0 2v1m0 23v1M95.5 31v1m0 7v1m0 5v1m0 24v1m0 4v1m0 3v1m0 4v1m0 7v2m0 14v2m0 1v1m0 50v1m0 15v1m0 19v1m0 25v1m0 52v1m0 21v1m0 1v1m0 19v1m0 1v3m0 4v1m0 46v2m0 11v1M96.5 25v1m0 13v2m0 17v1m0 41v1m0 25v1m0 7v1m0 35v1m0 132v1m0 1v1m0 54v1m0 6v1m0 4v1m0 7v1m0 4v1m0 1v1M97.5 35v1m0 7v1m0 5v1m0 22v1m0 15v1m0 13v1m0 9v1m0 8v1m0 1v1m0 29v1m0 18v2m0 22v1m0 21v1m0 5v1m0 25v1m0 19v1m0 5v1m0 24v1m0 8v1m0 3v1m0 4v1m0 6v1m0 4v1m0 2v1m0 17v1m0 13v1m0 1v1m0 1v2m0 14v1m0 8v1M98.5 38v1m0 20v1m0 6v2m0 1v1m0 16v1m0 4v1m0 7v1m0 14v1m0 49v1m0 2v1m0 9v1m0 19v1m0 6v1m0 2v1m0 15v1m0 2v1m0 3v1m0 12v1m0 8v1m0 26v1m0 19v1m0 19v1m0 39v1m0 29v1m0 1v1M99.5 43v1m0 5v2m0 20v1m0 4v1m0 13v1m0 2v1m0 11v1m0 8v1m0 11v1m0 23v1m0 2v1m0 10v1m0 14v1m0 1v1m0 9v1m0 18v1m0 33v1m0 36v1m0 7v1m0 32v1m0 2v1m0 14v1m0 3v2m0 8v1m0 24v1m0 13v1m0 3v1M100.5 36v1m0 53v1m0 16v1m0 18v1m0 22v1m0 9v1m0 31v1m0 2v1m0 11v1m0 46v2m0 13v1m0 13v1m0 4v1m0 3v1m0 15v1m0 16v1m0 18v1m0 17v2m0 21v1m0 4v1M101.5 58v1m0 16v2m0 26v1m0 2v1m0 13v2m0 21v1m0 54v1m0 13v1m0 31v1m0 7v1m0 16v1m0 5v1m0 16v1m0 54v1m0 1v2m0 4v1m0 4v1m0 3v1m0 19v1m0 1v1m0 10v1M102.5 31v1m0 48v1m0 23v1m0 21v1m0 13v1m0 3v1m0 28v1m0 32v1m0 11v1m0 20v1m0 1v1m0 61v1m0 4v1m0 35v1m0 36v1m0 12v1M103.5 61v1m0 33v1m0 20v1m0 5v1m0 16v1m0 45v1m0 1v1m0 11v1m0 5v1m0 11v1m0 70v1m0 28v1m0 13v1m0 23v1m0 2v1m0 7v1m0 1v1m0 9v1m0 3v2m0 5v1M104.5 52v2m0 2v1m0 10v1m0 20v1m0 31v1m0 9v1m0 2v1m0 47v1m0 10v1m0 30v1m0 60v1m0 5v1m0 35v1m0 27v1m0 5v1m0 27v1M105.5 65v1m0 10v1m0 3v1m0 25v1m0 7v1m0 46v1m0 5v1m0 26v1m0 7v1m0 1v1m0 1v1m0 32v1m0 18v1m0 2v1m0 1v1m0 3v3m0 5v1m0 2v1m0 26v1m0 8v1m0 25v2m0 36v1M106.5 25v1m0 20v1m0 14v1m0 11v2m0 51v1m0 37v1m0 17v1m0 30v1m0 4v1m0 20v1m0 2v1m0 25v1m0 114v1M108.5 25v1m0 1v1m0 8v1m0 3v1m0 75v1m0 12v1m0 10v1m0 25v1m0 20v1m0 4v1m0 24v1m0 4v1m0 68v1m0 25v1m0 28v1m0 4v1m0 24v1m0 21v1m0 4v1M110.5 59v1m0 1v1m0 10v1m0 6v2m0 25v1m0 5v1m0 1v1m0 8v1m0 12v1m0 3v1m0 5v1m0 16v1m0 7v1m0 65v1m0 21v1m0 24v1m0 31v1m0 23v1m0 11v1m0 13v1m0 17v1m0 1v2M112.5 23v1m0 8v1m0 94v1m0 34v1m0 22v1m0 25v1m0 33v2m0 49v1m0 54v2m0 13v1m0 2v1m0 8v1m0 3v1m0 4v1m0 1v1m0 3v1m0 5v2M114.5 27v1m0 23v1m0 49v1m0 14v1m0 8v1m0 2v1m0 19v1m0 45v1m0 13v1m0 1v1m0 26v1m0 9v1m0 7v1m0 15v1m0 3v1m0 10v1m0 20v1m0 78v1m0 7v1m0 9v1M116.5 27v1m0 32v1m0 1v2m0 9v1m0 23v1m0 7v1m0 3v1m0 5v1m0 33v1m0 4v1m0 29v1m0 19v1m0 40v1m0 3v1m0 6v1m0 15v1m0 14v1m0 5v1m0 22v1m0 21v1m0 4v1m0 39v1M118.5 38v1m0 2v1m0 22v2m0 8v1m0 69v1m0 14v1m0 12v1m0 40v1m0 15v1m0 81v1m0 9v1m0 63v1m0 5v1M120.5 60v1m0 6v1m0 17v1m0 5v1m0 44v2m0 1v1m0 16v1m0 28v1m0 9v1m0 12v1m0 6v1m0 7v1m0 7v1m0 5v1m0 37v1m0 16v1m0 23v1m0 26v1m0 55v1M125.5 30v1m0 7v1m0 13v1m0 1v1m0 1v1m0 6v1m0 53v2m0 44v1m0 3v1m0 4v1m0 2v1m0 18v1m0 1v1m0 12v1m0 13v1m0 8v2m0 17v1m0 2v1m0 12v1m0 4v1m0 36v1m0 5v1m0 20v3m0 1v1m0 13v1m0 26v1m0 3v1M130.5 21v2m0 3v1m0 8v1m0 32v1m0 5v1m0 26v1m0 16v1m0 18v1m0 11v1m0 4v1m0 6v1m0 27v1m0 24v1m0 16v1m0 14v1m0 3v1m0 4v1m0 6v1m0 12v1m0 37v1m0 7v1m0 15v2m0 1v1m0 14v1m0 5v1m0 21v1m0 3v1m0 16v1M135.5 37v1m0 1v1m0 8v1m0 24v1m0 62v1m0 2v1m0 19v1m0 2v1m0 3v1m0 34v1m0 1v1m0 26v1m0 30v2m0 20v1m0 9v2m0 44v1m0 5v1m0 40v1m0 16v1M140.5 23v1m0 16v1m0 32v1m0 14v1m0 2v1m0 10v1m0 1v1m0 66v2m0 17v1m0 22v1m0 24v1m0 36v1m0 24v1m0 9v1m0 6v1m0 1v1m0 18v1m0 28v1m0 7v2m0 7v1M145.5 30v1m0 85v1m0 1v1m0 33v1m0 20v1m0 15v1m0 22v1m0 4v1m0 11v1m0 6v1m0 10v1m0 9v1m0 3v1m0 10v1m0 11v1m0 7v1m0 29v1m0 9v1m0 4v1m0 1v1m0 2v1m0 26v1m0 2v1m0 16v1m0 6v1M150.5 36v1m0 2v1m0 18v1m0 23v1m0 11v2m0 29v1m0 8v1m0 3v1m0 27v2m0 2v1m0 7v1m0 13v1m0 7v1m0 1v1m0 4v2m0 26v1m0 13v1m0 26v1m0 17v1m0 30v1m0 16v1m0 2v1m0 53v1"/><path stroke="#471365" d="M0.5 45v1m0 10v1m0 5v1m0 52v1m0 9v1m0 3v1m0 6v2m0 21v1m0 4v1m0 21v1m0 13v1m0 6v1m0 32v1m0 22v1m0 10v1m0 8v1m0 28v1m0 25v1m0 22v1m0 10v1m0 4v1m0 6v1m0 10v1M1.5 85v1m0 3v1m0 2v1m0 3v1m0 3v1m0 5v1m0 11v1m0 1v1m0 36v1m0 10v1m0 3v1m0 2v1m0 5v2m0 1v1m0 9v1m0 7v1m0 1v1m0 11v1m0 1v1m0 20v1m0 6v1m0 60v1m0 17v1m0 5v1m0 5v1m0 32v1m0 18v1M2.5 35v1m0 3v1m0 43v1m0 19v1m0 3v2m0 10v1m0 4v1m0 111v1m0 22v1m0 47v1m0 19v1m0 67v1M3.5 37v1m0 19v1m0 5v1m0 1v1m0 30v1m0 13v3m0 12v1m0 9v1m0 7v1m0 5v1m0 39v1m0 15v1m0 10v1m0 44v1m0 17v1m0 3v1m0 7v1m0 51v1m0 15v1m0 18v1m0 21v1M4.5 38v1m0 16v1m0 15v1m0 13v1m0 3v1m0 7v1m0 54v1m0 20v1m0 4v2m0 51v1m0 13v1m0 6v1m0 15v1m0 12v1m0 19v1m0 27v1m0 3v1m0 15v1m0 29v1m0 9v1M5.5 42v1m0 33v1m0 10v1m0 10v1m0 7v1m0 18v1m0 54v1m0 1v1m0 7v1m0 17v1m0 4v1m0 4v1m0 13v1m0 13v1m0 5v1m0 21v1m0 70v1m0 10v1m0 5v1m0 13v1m0 3v1m0 6v1M6.5 37v1m0 21v1m0 4v1m0 14v1m0 3v1m0 3v1m0 35v1m0 6v1m0 3v1m0 16v1m0 12v1m0 8v2m0 40v1m0 6v1m0 84v1m0 35v1m0 26v1m0 1v1M7.5 29v1m0 5v1m0 38v2m0 12v1m0 13v1m0 31v1m0 1v1m0 10v1m0 11v1m0 1v1m0 7v1m0 18v1m0 15v1m0 2v1m0 83v1m0 22v1m0 62v1M8.5 24v1m0 24v2m0 20v1m0 13v1m0 7v1m0 26v1m0 6v1m0 12v2m0 17v1m0 5v1m0 3v1m0 10v1m0 32v1m0 11v1m0 5v1m0 2v1m0 5v1m0 13v1m0 1v1m0 22v1m0 3v1m0 21v1m0 18v1m0 4v1m0 6v1m0 9v1m0 22v1m0 5v1m0 8v1M9.5 29v1m0 19v1m0 15v1m0 4v2m0 24v1m0 1v1m0 7v1m0 5v1m0 2v1m0 19v1m0 4v1m0 3v1m0 62v1m0 30v1m0 43v1m0 5v1m0 8v1m0 24v1m0 11v1m0 22v1m0 22v1m0 4v1m0 14v1M10.5 33v1m0 10v2m0 34v1m0 8v1m0 5v1m0 10v1m0 18v1m0 57v1m0 13v1m0 6v1m0 6v1m0 9v1m0 22v1m0 13v1m0 14v1m0 4v1m0 15v1m0 7v1m0 12v1m0 12v1m0 31v1m0 14v1m0 25v1M11.5 31v1m0 13v1m0 2v1m0 9v1m0 1v1m0 1v1m0 41v1m0 9v1m0 20v1m0 36v1m0 3v1m0 1v1m0 41v1m0 3v1m0 6v1m0 6v1m0 10v1m0 3v1m0 11v1m0 27v1m0 10v1m0 4v1m0 2v1m0 6v2m0 4v1m0 2v1m0 1v1m0 11v1m0 17v1m0 10v2m0 13v1M12.5 32v1m0 2v1m0 46v1m0 8v1m0 20v1m0 29v1m0 19v1m0 5v1m0 2v1m0 24v1m0 1v1m0 7v1m0 10v1m0 9v1m0 15v1m0 19v1m0 6v1m0 12v1m0 14v1m0 10v1m0 27v1m0 17v1m0 8v1m0 37v1M13.5 30v1m0 58v1m0 26v1m0 19v1m0 4v1m0 19v1m0 39v1m0 43v1m0 11v1m0 5v1m0 41v1m0 32v2m0 9v1m0 7v1m0 11v1m0 31v1M14.5 34v1m0 7v1m0 10v1m0 9v1m0 18v1m0 33v1m0 13v1m0 6v1m0 20v1m0 30v1m0 22v1m0 8v1m0 11v1m0 25v1m0 5v1m0 10v1m0 2v1m0 35v1m0 7v1m0 4v1m0 4v1m0 5v1m0 2v1m0 38v1m0 20v1M15.5 24v1m0 17v1m0 31v1m0 1v1m0 6v1m0 37v1m0 4v1m0 15v1m0 7v1m0 26v1m0 22v1m0 4v1m0 27v1m0 10v1m0 6v1m0 6v1m0 19v1m0 1v1m0 4v2m0 2v1m0 41v1m0 6v1m0 25v1m0 2v1m0 19v2M16.5 29v1m0 2v1m0 15v1m0 42v1m0 12v1m0 6v1m0 4v1m0 1v1m0 82v1m0 8v1m0 17v1m0 70v1m0 1v1m0 14v1m0 3v1m0 6v1m0 21v1m0 9v1m0 6v1m0 18v1M17.5 38v2m0 61v1m0 5v1m0 1v1m0 6v1m0 10v1m0 9v1m0 6v1m0 25v1m0 16v1m0 22v1m0 6v1m0 2v1m0 55v1m0 1v1m0 2v1m0 27v1m0 9v1m0 52v1M18.5 38v1m0 38v1m0 1v2m0 8v1m0 20v1m0 31v1m0 17v1m0 15v1m0 4v1m0 25v1m0 5v1m0 16v1m0 3v1m0 2v1m0 16v1m0 16v1m0 7v2m0 2v1m0 9v1m0 20v1m0 31v1m0 6v1m0 16v1m0 9v1m0 3v1m0 10v1m0 5v1M19.5 36v1m0 49v1m0 12v1m0 28v1m0 27v1m0 13v1m0 13v1m0 35v1m0 3v1m0 10v1m0 20v1m0 9v2m0 6v1m0 15v1m0 5v1m0 9v1m0 2v1m0 19v1m0 1v1m0 14v1m0 3v1m0 32v1m0 13v1m0 4v1M20.5 30v1m0 12v1m0 8v1m0 11v1m0 17v1m0 6v1m0 46v1m0 3v1m0 45v1m0 1v1m0 1v1m0 6v3m0 1v1m0 6v1m0 62v1m0 42v1m0 15v1m0 11v1m0 1v1m0 6v1m0 27v1m0 10v1m0 4v1M21.5 32v1m0 59v1m0 18v1m0 6v1m0 7v1m0 10v1m0 27v1m0 12v1m0 15v1m0 8v1m0 14v1m0 32v1m0 14v1m0 3v1m0 6v1m0 21v1m0 40v1m0 20v1m0 28v1m0 5v1M22.5 76v1m0 18v1m0 9v1m0 12v1m0 16v1m0 42v1m0 5v1m0 14v1m0 9v1m0 24v1m0 32v1m0 2v1m0 21v2m0 3v1m0 30v1m0 46v1M23.5 30v1m0 6v1m0 15v1m0 14v1m0 8v1m0 12v1m0 29v1m0 5v1m0 2v1m0 8v1m0 38v2m0 3v1m0 48v1m0 15v1m0 42v1m0 8v1m0 7v1m0 3v1m0 30v1m0 16v2m0 20v1m0 8v1m0 3v1M24.5 26v1m0 5v1m0 1v1m0 30v1m0 1v1m0 24v1m0 10v1m0 4v1m0 16v1m0 63v1m0 2v1m0 8v1m0 25v1m0 11v1m0 21v1m0 25v1m0 26v1m0 3v1m0 33v2m0 7v1m0 6v1m0 3v1M25.5 66v1m0 1v1m0 5v1m0 1v1m0 16v1m0 8v1m0 6v1m0 20v1m0 4v1m0 25v1m0 6v1m0 36v1m0 11v1m0 20v1m0 47v2m0 41v1m0 16v1m0 25v1m0 1v1m0 16v2M26.5 30v3m0 4v1m0 29v1m0 1v1m0 16v1m0 13v1m0 9v1m0 1v1m0 15v2m0 23v1m0 16v1m0 4v1m0 19v1m0 33v1m0 3v1m0 10v1m0 17v1m0 14v1m0 9v1m0 5v2m0 4v1m0 17v1m0 12v1m0 4v1m0 33v1m0 4v1M27.5 24v1m0 13v1m0 40v1m0 43v1m0 53v1m0 55v1m0 5v1m0 54v1m0 10v1m0 12v1m0 15v1m0 9v1m0 29v1m0 23v1M28.5 34v1m0 49v1m0 53v1m0 54v1m0 3v1m0 4v1m0 13v1m0 5v1m0 16v1m0 14v1m0 30v2m0 35v1m0 2v1m0 4v1m0 1v1m0 15v1m0 12v1m0 13v2M29.5 31v1m0 9v1m0 9v1m0 6v1m0 7v1m0 8v2m0 7v1m0 17v1m0 25v2m0 34v1m0 11v1m0 16v1m0 28v1m0 11v2m0 2v1m0 6v1m0 22v1m0 37v1m0 18v1M30.5 42v1m0 24v1m0 5v1m0 8v1m0 1v1m0 13v1m0 12v1m0 23v1m0 5v1m0 24v1m0 4v1m0 46v1m0 27v1m0 2v1m0 33v1m0 68v1M31.5 54v1m0 10v1m0 20v1m0 3v1m0 68v1m0 9v1m0 4v1m0 2v1m0 42v2m0 13v1m0 8v1m0 46v1m0 40v1m0 32v1M32.5 31v1m0 10v1m0 13v1m0 12v1m0 6v1m0 7v1m0 46v1m0 58v1m0 16v1m0 14v1m0 3v1m0 14v1m0 4v1m0 27v1m0 19v1m0 2v1m0 4v1m0 4v1m0 23v1m0 14v2m0 6v1m0 8v1m0 33v1M33.5 18v1m0 16v1m0 50v1m0 5v1m0 7v1m0 8v1m0 17v1m0 19v1m0 11v1m0 10v1m0 7v1m0 29v1m0 2v1m0 5v1m0 23v1m0 8v1m0 6v1m0 20v1m0 21v1m0 30v1m0 12v1m0 22v1m0 9v1m0 5v1M34.5 29v1m0 2v1m0 34v2m0 23v1m0 3v1m0 4v1m0 37v1m0 17v1m0 4v1m0 1v1m0 24v1m0 21v1m0 19v1m0 1v1m0 30v1m0 25v1m0 1v1m0 3v1m0 21v1m0 18v1m0 4v1m0 19v1m0 4v1m0 2v2M35.5 38v1m0 3v1m0 29v1m0 13v1m0 1v2m0 12v1m0 9v1m0 1v1m0 5v1m0 10v1m0 10v1m0 13v1m0 5v1m0 14v1m0 5v1m0 91v1m0 24v1m0 8v1m0 5v1m0 21v1m0 18v1m0 1v1M36.5 55v1m0 20v1m0 18v1m0 24v1m0 16v1m0 51v1m0 3v2m0 7v1m0 12v1m0 54v1m0 4v1m0 1v1m0 4v1m0 34v1m0 3v1m0 16v1m0 11v1m0 19v1m0 15v1M37.5 31v1m0 3v1m0 19v1m0 11v1m0 15v1m0 8v1m0 11v1m0 2v1m0 62v2m0 15v1m0 7v1m0 12v1m0 14v1m0 30v1m0 35v1m0 6v1m0 20v1m0 60v1m0 3v1M38.5 35v1m0 1v1m0 42v1m0 2v1m0 21v2m0 72v1m0 22v1m0 11v1m0 19v1m0 3v1m0 14v1m0 39v1m0 27v1m0 21v1m0 12v1m0 36v1m0 9v1M39.5 36v1m0 1v1m0 1v1m0 3v1m0 20v1m0 3v2m0 14v1m0 4v1m0 5v1m0 5v1m0 3v1m0 17v1m0 8v1m0 31v1m0 42v1m0 27v1m0 2v1m0 4v1m0 5v1m0 16v1m0 28v1m0 14v1m0 15v1m0 5v1m0 2v1m0 28v1m0 21v1m0 2v1m0 4v1M40.5 87v1m0 43v1m0 5v1m0 5v1m0 24v2m0 4v1m0 24v1m0 8v1m0 18v1m0 2v1m0 20v1m0 17v1m0 32v1m0 13v1m0 39v1m0 8v1m0 36v1M41.5 50v1m0 1v1m0 6v1m0 24v1m0 10v1m0 46v1m0 24v1m0 11v1m0 50v1m0 35v1m0 6v1m0 10v1m0 15v2m0 23v1m0 26v1m0 7v1M42.5 45v1m0 4v1m0 17v1m0 3v1m0 4v1m0 7v1m0 6v1m0 1v1m0 5v1m0 12v1m0 21v1m0 22v1m0 17v1m0 6v1m0 6v1m0 15v1m0 5v1m0 9v1m0 67v2m0 3v2m0 6v1m0 5v1m0 17v1m0 1v1m0 1v1m0 4v1m0 2v1m0 10v1m0 9v1m0 16v1m0 21v1M43.5 58v1m0 11v1m0 24v1m0 17v1m0 2v2m0 55v1m0 8v1m0 5v1m0 21v1m0 20v1m0 4v1m0 38v1m0 36v1m0 3v1m0 16v1m0 5v1m0 16v1m0 11v1m0 4v1M44.5 37v2m0 3v1m0 52v1m0 17v1m0 25v1m0 19v1m0 12v1m0 32v1m0 17v2m0 6v1m0 80v1m0 3v1m0 2v1m0 23v1M45.5 31v1m0 2v1m0 2v1m0 3v1m0 2v1m0 17v1m0 3v1m0 24v1m0 17v1m0 10v1m0 28v1m0 6v1m0 24v1m0 2v1m0 77v1m0 8v1m0 23v1m0 3v2m0 6v1m0 7v2m0 16v1m0 1v1m0 13v1m0 3v1m0 1v1m0 1v1m0 14v1m0 10v1m0 5v1M46.5 48v1m0 3v1m0 9v1m0 35v1m0 57v1m0 33v1m0 29v2m0 9v2m0 22v1m0 16v1m0 5v1m0 29v1m0 17v1m0 7v1m0 22v1m0 26v1M47.5 33v1m0 11v1m0 21v1m0 54v1m0 9v1m0 33v1m0 12v1m0 13v1m0 4v1m0 1v1m0 53v1m0 11v2m0 18v1m0 12v1m0 21v1m0 8v1m0 12v1m0 12v1m0 8v1m0 24v1m0 4v1m0 1v1M48.5 38v1m0 21v1m0 23v1m0 31v1m0 4v1m0 9v1m0 48v1m0 31v1m0 11v1m0 5v1m0 2v2m0 6v1m0 22v1m0 4v1m0 8v1m0 25v1m0 53v1m0 8v1m0 6v1m0 6v1m0 8v1M49.5 34v1m0 35v1m0 7v1m0 1v1m0 4v1m0 38v1m0 17v1m0 6v1m0 55v1m0 6v1m0 17v1m0 54v1m0 4v1m0 25v1m0 8v1m0 10v1m0 2v1m0 3v1m0 7v1M50.5 68v1m0 21v1m0 19v1m0 11v1m0 60v1m0 28v1m0 1v1m0 6v1m0 21v2m0 22v1m0 4v1m0 22v1m0 12v1m0 3v1m0 2v1m0 51v1m0 2v1m0 13v1m0 7v1m0 11v1M51.5 30v1m0 5v1m0 12v1m0 23v1m0 5v1m0 2v1m0 9v1m0 7v1m0 7v1m0 24v1m0 38v1m0 31v1m0 14v1m0 76v1m0 2v1m0 20v1m0 12v1m0 30v2m0 17v1m0 18v1M52.5 28v1m0 4v1m0 2v1m0 8v1m0 4v1m0 8v1m0 35v2m0 7v1m0 19v1m0 25v1m0 80v1m0 21v1m0 17v1m0 15v1m0 8v1m0 1v1m0 34v1m0 25v1m0 15v1m0 24v1M53.5 16v1m0 17v1m0 40v1m0 22v1m0 8v1m0 8v1m0 43v1m0 6v1m0 34v1m0 6v1m0 3v1m0 3v1m0 5v1m0 6v1m0 9v1m0 18v1m0 3v1m0 6v1m0 7v1m0 15v1m0 19v1m0 26v1m0 14v2m0 39v1M54.5 22v1m0 3v2m0 27v1m0 3v1m0 34v1m0 47v1m0 3v1m0 20v1m0 57v1m0 2v1m0 13v1m0 9v1m0 49v1m0 3v1m0 22v1m0 32v1m0 13v1m0 21v1M55.5 29v1m0 23v1m0 69v1m0 11v1m0 27v2m0 5v1m0 16v1m0 6v1m0 10v1m0 11v1m0 2v1m0 10v1m0 11v1m0 22v1m0 99v1M56.5 27v1m0 7v1m0 9v1m0 22v1m0 34v1m0 29v1m0 60v1m0 41v1m0 22v1m0 4v1m0 63v1m0 13v1m0 14v1m0 5v1m0 37v1M57.5 37v1m0 3v1m0 6v1m0 4v1m0 10v1m0 13v1m0 14v1m0 50v1m0 14v1m0 47v1m0 12v1m0 14v1m0 1v1m0 17v1m0 3v1m0 12v1m0 13v1m0 17v1m0 33v1m0 23v2m0 8v1m0 26v1M58.5 44v1m0 26v1m0 4v2m0 3v1m0 7v1m0 72v2m0 8v1m0 8v1m0 35v1m0 2v1m0 20v1m0 76v1m0 8v1m0 14v1m0 11v1m0 2v1m0 15v1M59.5 52v1m0 3v1m0 18v2m0 5v1m0 9v1m0 25v1m0 11v1m0 5v1m0 29v1m0 25v1m0 4v1m0 7v1m0 8v1m0 8v1m0 51v1m0 3v1m0 9v1m0 8v1m0 25v1m0 10v1m0 4v1m0 1v1m0 40v1M60.5 43v1m0 19v1m0 3v1m0 6v1m0 16v1m0 2v2m0 1v1m0 2v1m0 44v1m0 58v1m0 8v1m0 43v1m0 7v1m0 24v1m0 27v2m0 16v1m0 13v1m0 18v1m0 28v1M61.5 66v1m0 15v1m0 4v1m0 15v1m0 1v1m0 3v1m0 25v1m0 8v1m0 8v1m0 4v1m0 28v1m0 8v1m0 12v1m0 12v1m0 10v1m0 28v1m0 46v1m0 21v1m0 20v1m0 10v1m0 9v1m0 19v1M62.5 26v1m0 3v1m0 18v1m0 1v1m0 25v1m0 8v1m0 13v2m0 25v1m0 35v1m0 10v1m0 6v1m0 97v1m0 50v1m0 20v3m0 3v1m0 5v1m0 9v1m0 19v1M63.5 20v1m0 15v2m0 35v1m0 5v1m0 10v1m0 6v1m0 32v1m0 9v1m0 34v1m0 99v1m0 23v1m0 26v1m0 3v1m0 10v1M64.5 38v1m0 7v1m0 5v1m0 4v1m0 1v1m0 4v1m0 16v1m0 14v1m0 13v1m0 1v1m0 6v1m0 7v1m0 43v1m0 82v1m0 16v1m0 10v1m0 21v1m0 4v1m0 9v1m0 8v1m0 13v1m0 11v1m0 25v1M65.5 38v1m0 36v1m0 22v1m0 27v1m0 12v1m0 12v1m0 33v1m0 74v1m0 13v1m0 4v1m0 27v1m0 38v1m0 28v1m0 13v1m0 6v1M66.5 47v1m0 21v1m0 4v1m0 28v1m0 5v1m0 12v1m0 2v2m0 3v1m0 33v1m0 7v1m0 4v1m0 17v1m0 12v1m0 25v1m0 52v1m0 17v1m0 9v1m0 2v1m0 20v1m0 16v1M67.5 31v1m0 15v1m0 8v1m0 2v1m0 52v1m0 10v1m0 22v1m0 6v1m0 1v1m0 33v1m0 3v2m0 16v1m0 35v1m0 14v1m0 38v1m0 13v3m0 11v1m0 11v1m0 2v1m0 15v1m0 2v1m0 12v1m0 18v1m0 2v1M68.5 28v1m0 19v2m0 14v1m0 6v1m0 2v1m0 26v1m0 12v1m0 14v1m0 33v1m0 32v1m0 6v1m0 18v1m0 1v1m0 69v1m0 9v1m0 16v1m0 23v1m0 33v1m0 3v1m0 3v1m0 11v1M69.5 30v1m0 6v1m0 35v1m0 20v1m0 11v1m0 11v2m0 1v1m0 35v1m0 5v1m0 4v1m0 21v1m0 13v1m0 11v1m0 7v1m0 2v1m0 12v1m0 2v1m0 2v1m0 1v2m0 1v1m0 1v1m0 27v1m0 4v1m0 2v1m0 6v1m0 12v1m0 46v1M70.5 32v2m0 14v1m0 5v1m0 24v1m0 25v1m0 7v1m0 12v1m0 20v1m0 51v1m0 7v1m0 5v1m0 12v1m0 9v1m0 19v1m0 2v1m0 2v1m0 17v1m0 5v1m0 7v1m0 24v1m0 8v1m0 9v1m0 15v1m0 3v1m0 6v1M71.5 41v1m0 14v1m0 20v1m0 6v1m0 16v1m0 12v1m0 14v1m0 12v1m0 19v1m0 1v1m0 36v1m0 1v1m0 7v1m0 30v1m0 17v1m0 1v1m0 59v1m0 4v1m0 9v1m0 14v2m0 14v1M72.5 146v1m0 5v1m0 3v1m0 11v1m0 26v1m0 18v2m0 13v2m0 10v1m0 41v1m0 80v1m0 33v1M73.5 32v2m0 19v1m0 1v1m0 9v1m0 26v1m0 2v1m0 35v1m0 1v1m0 22v1m0 24v1m0 14v1m0 16v1m0 42v1m0 7v1m0 7v1m0 8v1m0 3v1m0 7v1m0 42v1m0 25v1m0 3v1m0 2v1M74.5 35v1m0 3v1m0 21v1m0 7v1m0 6v1m0 59v1m0 6v1m0 25v1m0 4v1m0 9v1m0 143v1m0 13v2m0 19v1m0 1v1m0 17v1m0 2v1m0 15v1M75.5 48v1m0 29v1m0 29v1m0 17v1m0 17v1m0 10v1m0 1v1m0 22v1m0 25v1m0 7v1m0 36v1m0 3v1m0 4v1m0 12v1m0 25v1m0 17v1m0 7v1m0 37v1m0 33v1M76.5 66v1m0 10v1m0 24v2m0 16v1m0 17v1m0 12v1m0 16v1m0 26v2m0 14v1m0 12v1m0 14v1m0 3v1m0 18v1m0 25v1m0 23v1m0 10v1m0 5v1m0 22v1m0 4v1m0 10v1m0 11v1m0 3v1m0 19v1M77.5 63v1m0 9v1m0 55v1m0 4v1m0 30v1m0 49v1m0 14v1m0 10v1m0 8v1m0 1v1m0 17v1m0 1v1m0 18v2m0 18v1m0 2v1m0 6v1m0 6v1m0 1v1m0 11v1m0 18v1m0 5v1M78.5 30v1m0 5v1m0 3v1m0 12v1m0 7v1m0 95v1m0 2v1m0 6v1m0 1v1m0 14v1m0 64v1m0 4v1m0 38v2m0 2v1m0 1v1m0 17v1m0 7v1m0 3v1m0 15v1m0 38v1M79.5 22v1m0 13v1m0 13v1m0 21v1m0 31v1m0 59v1m0 10v1m0 8v1m0 48v1m0 44v1m0 3v1m0 11v1m0 6v1m0 34v1m0 59v1M80.5 54v1m0 25v1m0 2v1m0 7v1m0 38v1m0 2v1m0 4v1m0 15v1m0 67v1m0 22v1m0 28v2m0 33v1m0 7v1m0 11v1m0 23v1m0 9v1m0 2v1m0 11v1M81.5 34v1m0 5v1m0 35v2m0 75v2m0 52v1m0 17v1m0 42v1m0 18v1m0 17v1m0 10v1m0 48v2m0 26v1m0 8v1M82.5 118v1m0 4v1m0 3v1m0 1v1m0 7v1m0 18v1m0 14v1m0 20v1m0 1v1m0 2v1m0 12v1m0 7v1m0 15v1m0 48v1m0 1v1m0 14v1m0 21v1m0 21v1m0 10v1M83.5 64v1m0 3v1m0 47v1m0 13v1m0 40v2m0 22v1m0 12v1m0 37v1m0 17v1m0 2v1m0 48v1m0 25v1M84.5 72v1m0 6v2m0 2v1m0 17v1m0 3v1m0 6v1m0 24v1m0 13v1m0 15v1m0 12v1m0 17v1m0 25v1m0 24v1m0 17v1m0 2v1m0 1v1m0 56v1m0 19v1m0 12v1m0 8v1m0 9v2m0 1v1m0 10v1M85.5 62v1m0 24v2m0 17v1m0 15v1m0 4v1m0 16v1m0 24v1m0 5v1m0 1v1m0 17v1m0 3v1m0 32v1m0 4v1m0 12v1m0 35v1m0 10v2m0 13v1m0 7v1M86.5 36v1m0 7v1m0 47v1m0 8v1m0 29v1m0 38v1m0 3v1m0 4v1m0 8v1m0 10v1m0 16v1m0 25v1m0 24v1m0 14v1m0 14v1m0 11v1m0 16v1m0 23v1m0 33v1m0 4v1M87.5 44v1m0 7v1m0 16v1m0 5v1m0 7v2m0 29v1m0 3v1m0 20v1m0 8v1m0 57v1m0 5v1m0 15v2m0 10v1m0 40v1m0 2v1m0 7v1m0 21v1m0 4v1m0 28v1m0 15v1m0 14v1m0 17v1M88.5 61v1m0 14v2m0 1v1m0 7v1m0 10v1m0 13v1m0 9v1m0 36v1m0 2v1m0 10v1m0 4v1m0 24v1m0 10v1m0 1v1m0 4v1m0 28v2m0 9v1m0 37v1m0 11v1m0 8v1m0 17v1m0 32v3m0 11v1m0 6v1M89.5 39v1m0 2v1m0 81v1m0 15v1m0 16v1m0 16v1m0 1v1m0 11v1m0 24v1m0 2v1m0 15v1m0 9v1m0 11v1m0 10v1m0 4v1m0 31v1m0 13v1m0 40v1m0 13v1m0 30v1M90.5 33v1m0 9v1m0 13v1m0 23v1m0 19v1m0 8v1m0 1v1m0 43v1m0 27v2m0 18v1m0 23v1m0 41v1m0 25v1m0 6v1m0 1v1m0 2v1m0 16v1m0 36v1m0 13v1M91.5 63v1m0 35v1m0 13v1m0 5v1m0 8v1m0 7v1m0 12v1m0 14v1m0 11v1m0 2v1m0 26v1m0 49v1m0 6v1m0 2v1m0 19v1m0 11v1m0 8v1m0 26v1m0 12v1m0 4v1m0 5v1m0 8v1m0 12v1m0 16v1M92.5 31v1m0 12v1m0 4v1m0 13v1m0 12v1m0 13v1m0 1v1m0 13v1m0 16v1m0 29v1m0 1v1m0 1v1m0 48v2m0 8v1m0 22v1m0 61v1m0 6v1m0 26v1m0 3v1m0 10v1m0 10v1m0 14v1m0 8v1M93.5 63v1m0 16v1m0 10v1m0 26v1m0 7v2m0 3v1m0 8v1m0 26v1m0 4v1m0 21v1m0 8v1m0 42v1m0 55v1m0 7v1m0 11v1m0 5v1m0 1v1m0 14v1m0 9v1m0 24v1m0 22v1M94.5 61v1m0 37v1m0 52v1m0 1v1m0 62v1m0 8v1m0 24v1m0 39v1m0 3v2m0 10v1m0 2v1m0 6v1m0 3v1m0 18v1m0 22v1m0 1v1m0 2v1M95.5 35v2m0 11v1m0 1v1m0 1v1m0 9v2m0 27v1m0 21v1m0 39v2m0 20v1m0 33v1m0 27v1m0 1v1m0 11v1m0 2v1m0 23v1m0 4v1m0 4v1m0 2v1m0 25v1m0 14v1M96.5 28v1m0 13v1m0 4v1m0 27v1m0 9v2m0 3v1m0 41v2m0 20v1m0 19v1m0 4v2m0 2v1m0 8v1m0 12v1m0 24v1m0 3v1m0 9v1m0 3v1m0 8v1m0 33v1m0 25v1m0 23v1m0 3v1m0 4v1m0 13v1M97.5 46v1m0 1v1m0 28v1m0 15v1m0 20v1m0 9v1m0 7v1m0 29v1m0 2v1m0 21v1m0 47v1m0 47v1m0 12v1m0 12v1m0 29v1m0 9v2m0 5v1m0 6v1m0 10v1M98.5 29v1m0 2v1m0 27v1m0 10v1m0 12v1m0 18v1m0 22v1m0 19v1m0 13v1m0 2v1m0 48v1m0 2v1m0 1v1m0 10v1m0 19v1m0 21v1m0 7v1m0 28v1m0 34v1m0 17v1m0 17v1M99.5 73v1m0 1v1m0 3v1m0 2v1m0 6v1m0 2v1m0 16v1m0 34v1m0 2v1m0 3v1m0 5v1m0 68v1m0 3v1m0 2v1m0 49v1m0 20v1m0 1v1m0 17v1m0 41v1m0 16v1m0 4v1M100.5 34v1m0 10v1m0 2v2m0 27v1m0 1v1m0 6v1m0 79v1m0 1v1m0 16v1m0 3v1m0 3v1m0 19v1m0 5v1m0 10v1m0 2v1m0 5v1m0 10v1m0 24v1m0 45v1m0 37v1M101.5 27v2m0 14v1m0 8v1m0 8v1m0 4v1m0 38v1m0 22v1m0 2v1m0 9v1m0 106v1m0 7v1m0 11v1m0 1v1m0 2v1m0 27v1m0 75v2m0 19v1M102.5 55v1m0 12v1m0 2v1m0 23v1m0 2v1m0 6v1m0 6v1m0 42v1m0 12v1m0 2v1m0 7v1m0 7v1m0 10v1m0 20v1m0 7v1m0 31v1m0 16v1m0 13v1m0 37v1m0 4v1m0 1v1m0 27v1m0 2v1m0 15v1m0 15v1M103.5 45v1m0 7v1m0 21v1m0 3v1m0 2v1m0 85v1m0 2v1m0 3v1m0 15v1m0 12v1m0 13v2m0 20v1m0 5v1m0 39v1m0 55v1m0 8v1m0 5v1m0 11v1m0 14v1m0 7v1m0 3v1M104.5 51v1m0 43v1m0 11v1m0 2v1m0 17v1m0 13v1m0 2v1m0 8v1m0 42v1m0 29v1m0 7v1m0 19v1m0 9v1m0 51v1m0 19v1m0 12v1m0 17v1m0 4v1m0 2v1m0 22v1M105.5 37v1m0 14v1m0 26v1m0 3v1m0 3v1m0 5v1m0 27v1m0 33v1m0 4v1m0 11v1m0 9v1m0 8v1m0 1v1m0 6v1m0 12v1m0 35v1m0 31v1m0 2v1m0 58v1m0 13v1m0 25v1m0 11v1M106.5 34v1m0 68v1m0 44v1m0 6v1m0 42v2m0 4v1m0 9v1m0 1v1m0 11v2m0 13v1m0 3v1m0 22v1m0 1v2m0 2v1m0 12v1m0 59v1m0 9v1m0 15v1m0 6v1m0 20v1M108.5 39v1m0 9v1m0 5v1m0 23v1m0 15v1m0 9v1m0 1v1m0 5v1m0 46v1m0 7v1m0 24v1m0 24v1m0 1v1m0 21v1m0 60v1m0 29v1m0 2v1M110.5 33v1m0 3v1m0 9v1m0 65v1m0 19v1m0 13v1m0 6v1m0 2v1m0 7v1m0 58v1m0 55v1m0 20v1m0 19v1m0 24v1m0 9v2M112.5 27v1m0 12v1m0 24v1m0 1v1m0 48v1m0 8v1m0 42v1m0 3v1m0 22v1m0 17v1m0 2v1m0 19v1m0 28v1m0 1v1m0 8v1m0 5v1m0 8v1m0 27v1m0 16v1m0 1v1m0 22v1m0 32v2m0 6v1M114.5 23v1m0 36v2m0 9v1m0 24v1m0 13v1m0 10v1m0 14v1m0 13v1m0 11v1m0 25v2m0 1v1m0 12v1m0 23v2m0 63v1m0 42v1m0 59v1M116.5 23v1m0 6v1m0 6v1m0 14v1m0 5v1m0 2v1m0 17v1m0 22v1m0 16v2m0 12v1m0 4v1m0 32v1m0 18v1m0 25v1m0 5v1m0 16v1m0 4v1m0 16v1m0 2v1m0 8v1m0 3v1m0 17v1m0 17v1m0 17v1m0 1v1m0 2v2m0 23v1m0 6v1m0 7v1m0 12v1M118.5 37v1m0 58v1m0 25v1m0 7v1m0 38v1m0 9v1m0 31v1m0 8v1m0 4v1m0 17v1m0 22v1m0 2v1m0 12v1m0 20v1m0 10v1m0 2v1m0 18v1M120.5 64v1m0 10v1m0 23v1m0 28v1m0 49v1m0 33v1m0 33v1m0 18v1m0 24v1m0 5v1m0 20v1m0 12v1m0 8v1m0 4v1m0 16v1m0 6v1m0 2v1M125.5 35v1m0 1v1m0 1v1m0 55v1m0 3v1m0 59v1m0 23v1m0 30v1m0 14v1m0 5v1m0 5v1m0 13v1m0 7v1m0 4v1m0 17v1m0 5v1m0 19v1m0 16v1m0 4v1m0 20v1m0 4v1m0 27v1m0 15v1M130.5 61v1m0 25v1m0 1v1m0 30v1m0 34v1m0 12v1m0 24v2m0 7v1m0 38v1m0 27v1m0 11v1m0 6v1m0 5v1m0 6v1m0 5v1m0 7v1m0 8v1m0 26v1m0 7v1m0 35v1m0 7v1M135.5 21v2m0 15v1m0 11v1m0 11v1m0 13v1m0 1v1m0 17v2m0 8v1m0 1v1m0 2v1m0 22v1m0 6v2m0 52v1m0 17v2m0 13v1m0 10v1m0 3v1m0 7v1m0 33v1m0 9v1m0 8v1m0 25v1m0 23v1m0 14v1m0 21v1m0 10v1m0 1v1M140.5 26v1m0 4v1m0 20v1m0 29v1m0 10v1m0 37v1m0 72v1m0 12v1m0 13v1m0 24v1m0 3v1m0 33v1m0 1v1m0 34v1m0 18v1m0 1v1m0 19v1m0 25v1m0 5v1M145.5 24v1m0 1v2m0 6v1m0 3v1m0 3v1m0 14v1m0 41v1m0 5v1m0 32v1m0 1v1m0 3v1m0 3v1m0 14v1m0 12v1m0 7v1m0 31v1m0 13v1m0 6v1m0 6v1m0 14v1m0 30v1m0 3v1m0 15v1m0 6v1m0 31v1m0 12v1m0 2v1m0 20v1M150.5 59v1m0 5v1m0 15v1m0 54v1m0 24v1m0 15v1m0 8v1m0 23v1m0 18v1m0 2v1m0 4v2m0 22v1m0 7v1m0 2v1m0 1v1m0 27v1m0 3v1m0 19v1m0 36v1m0 7v1m0 1v1m0 1v1m0 7v1m0 3v1m0 3v1m0 2v1m0 1v1"/><path stroke="#481a6c" d="M0.5 32v1m0 2v1m0 22v1m0 5v1m0 35v1m0 37v1m0 30v1m0 8v1m0 16v1m0 13v1m0 2v1m0 110v1m0 6v1m0 14v1m0 30v1m0 16v1m0 2v1m0 2v1M1.5 40v1m0 11v1m0 41v1m0 38v1m0 19v1m0 5v1m0 16v1m0 45v1m0 5v1m0 56v1m0 61v1m0 12v1m0 29v1m0 9v1M2.5 49v1m0 19v1m0 67v1m0 43v1m0 7v1m0 30v1m0 3v1m0 22v1m0 58v1m0 4v1m0 22v1m0 1v1m0 2v1m0 8v1m0 26v1M3.5 38v1m0 21v1m0 1v1m0 14v1m0 13v1m0 46v1m0 18v1m0 42v1m0 22v1m0 4v1m0 10v2m0 4v1m0 5v1m0 2v1m0 21v1m0 9v1m0 14v1m0 25v1m0 13v1m0 19v1m0 30v1M4.5 39v1m0 26v1m0 2v1m0 8v1m0 66v1m0 3v1m0 6v1m0 26v1m0 2v1m0 71v1m0 10v1m0 7v1m0 14v1m0 7v1m0 30v1m0 18v1m0 2v1m0 15v1m0 7v1m0 21v1M5.5 32v1m0 6v1m0 16v1m0 39v1m0 7v2m0 15v1m0 41v1m0 39v1m0 23v1m0 17v1m0 21v1m0 11v1m0 5v1m0 6v1m0 3v2m0 26v1m0 53v1M6.5 65v1m0 18v1m0 32v1m0 40v1m0 1v1m0 29v1m0 21v1m0 63v1m0 8v1m0 51v1m0 11v1m0 53v1M7.5 23v1m0 2v1m0 37v1m0 7v1m0 26v1m0 8v1m0 17v1m0 1v1m0 16v1m0 4v1m0 7v1m0 4v1m0 8v1m0 40v1m0 26v1m0 9v2m0 3v1m0 30v1m0 13v1m0 42v1m0 39v1m0 7v1M8.5 26v1m0 5v1m0 1v1m0 34v1m0 26v1m0 29v1m0 52v1m0 7v1m0 38v1m0 1v1m0 3v1m0 10v1m0 54v1m0 40v1m0 40v1m0 19v1M9.5 34v1m0 11v1m0 8v1m0 17v1m0 35v1m0 3v1m0 35v1m0 20v1m0 10v1m0 18v1m0 9v1m0 1v1m0 8v1m0 17v1m0 16v2m0 23v1m0 2v1m0 6v2m0 25v1m0 41v1m0 26v1m0 4v1m0 9v1M10.5 42v1m0 6v1m0 57v1m0 2v1m0 67v1m0 7v1m0 1v1m0 45v1m0 24v2m0 3v1m0 6v1m0 8v1m0 42v1m0 8v1m0 25v1m0 5v1m0 38v1M11.5 36v1m0 7v1m0 33v1m0 12v1m0 3v1m0 15v1m0 1v1m0 2v1m0 14v1m0 2v1m0 9v1m0 13v1m0 3v1m0 8v1m0 13v1m0 44v1m0 6v1m0 28v1m0 9v1m0 14v1m0 2v1m0 15v1m0 23v1m0 22v1m0 45v1M12.5 55v1m0 6v1m0 44v1m0 3v1m0 22v1m0 99v2m0 14v1m0 97v1m0 1v1m0 8v1m0 2v1m0 19v1M13.5 56v1m0 5v1m0 27v2m0 18v1m0 51v1m0 67v3m0 84v2m0 13v1m0 12v1m0 26v1m0 5v1m0 5v1M14.5 31v2m0 13v1m0 26v2m0 5v1m0 10v1m0 8v1m0 26v1m0 26v1m0 39v1m0 6v1m0 27v1m0 18v1m0 1v1m0 6v1m0 2v1m0 27v1m0 25v1m0 2v1m0 22v1m0 44v1m0 11v1M15.5 61v1m0 18v1m0 1v1m0 24v1m0 9v1m0 6v1m0 5v1m0 4v1m0 29v1m0 27v1m0 2v1m0 7v1m0 9v1m0 21v1m0 8v1m0 9v1m0 7v1m0 12v1m0 4v1m0 22v1m0 7v1m0 63v1m0 2v1M16.5 25v1m0 24v1m0 6v1m0 25v1m0 26v1m0 15v1m0 17v1m0 23v1m0 19v1m0 8v2m0 18v1m0 35v1m0 9v1m0 14v1m0 27v1m0 23v1m0 17v1m0 20v1m0 2v1m0 1v1M17.5 35v1m0 7v1m0 3v1m0 12v1m0 65v1m0 3v1m0 18v1m0 13v1m0 1v1m0 26v1m0 57v1m0 1v1m0 10v1m0 72v1m0 32v1m0 19v1m0 14v1M18.5 34v1m0 25v1m0 23v1m0 9v1m0 9v1m0 6v1m0 6v1m0 5v1m0 15v1m0 2v1m0 14v1m0 23v1m0 9v1m0 6v1m0 3v1m0 13v1m0 10v1m0 11v1m0 18v1m0 22v1m0 16v1m0 15v1m0 3v1m0 3v1m0 38v1m0 4v1m0 17v1m0 11v1M19.5 35v1m0 11v1m0 24v1m0 5v1m0 5v2m0 10v1m0 16v1m0 32v1m0 15v1m0 32v1m0 3v1m0 17v1m0 22v1m0 23v1m0 18v2m0 12v1m0 15v1m0 63v1m0 11v1m0 5v1M20.5 46v1m0 24v1m0 1v1m0 17v1m0 31v1m0 6v1m0 6v1m0 10v1m0 6v1m0 7v1m0 9v1m0 11v1m0 7v1m0 51v2m0 29v1m0 1v1m0 15v1m0 16v1m0 11v1m0 25v1m0 3v1m0 5v1m0 18v1M21.5 45v1m0 3v1m0 12v1m0 4v1m0 1v1m0 24v1m0 8v1m0 25v1m0 26v2m0 17v2m0 9v2m0 21v1m0 1v1m0 45v1m0 40v1m0 64v1m0 30v2M22.5 39v1m0 25v1m0 18v1m0 5v1m0 71v1m0 30v1m0 13v1m0 6v1m0 20v1m0 12v1m0 1v1m0 33v1M23.5 51v1m0 5v1m0 3v2m0 33v1m0 25v1m0 10v1m0 9v1m0 8v1m0 28v1m0 16v1m0 8v1m0 50v1m0 21v1m0 3v1m0 13v1m0 45v1m0 18v1m0 39v1M24.5 27v1m0 31v1m0 21v1m0 8v1m0 2v1m0 11v1m0 25v1m0 64v1m0 16v1m0 11v1m0 38v1m0 65v1m0 6v1m0 2v1m0 21v1m0 21v1m0 2v1M25.5 58v1m0 36v1m0 5v1m0 12v1m0 25v1m0 3v1m0 41v1m0 5v1m0 43v1m0 22v1m0 21v1m0 1v1m0 11v1m0 6v1m0 60v1m0 16v1m0 16v1m0 4v1M26.5 24v1m0 23v1m0 42v1m0 11v1m0 41v2m0 56v1m0 8v1m0 34v1m0 11v1m0 7v1m0 50v1m0 2v1m0 33v1M27.5 76v1m0 21v1m0 15v1m0 4v1m0 11v1m0 2v1m0 7v2m0 6v1m0 18v1m0 20v1m0 4v1m0 1v3m0 40v1m0 31v2m0 4v1m0 10v1m0 23v1m0 7v2m0 22v1m0 4v1m0 5v1m0 26v1m0 10v2M28.5 31v1m0 28v1m0 12v1m0 18v1m0 9v1m0 1v1m0 30v1m0 4v1m0 2v1m0 16v1m0 5v1m0 27v1m0 51v1m0 24v1m0 27v1m0 12v1m0 45v1m0 24v1m0 3v1m0 15v1M29.5 49v1m0 50v1m0 6v1m0 11v1m0 7v1m0 4v1m0 2v1m0 23v1m0 10v1m0 7v1m0 4v1m0 2v1m0 49v1m0 9v1m0 17v1m0 22v1m0 12v1m0 32v1m0 1v1m0 4v1m0 18v1m0 24v1m0 1v1m0 11v1M30.5 34v1m0 22v1m0 19v1m0 8v1m0 7v1m0 5v1m0 6v1m0 2v1m0 11v1m0 16v1m0 2v1m0 39v1m0 11v1m0 9v1m0 21v1m0 142v1M31.5 35v1m0 25v1m0 27v1m0 48v1m0 1v1m0 27v1m0 19v1m0 13v1m0 27v1m0 2v1m0 13v1m0 15v1m0 10v1m0 8v1m0 18v1m0 16v1m0 7v1m0 17v2m0 1v1m0 21v1m0 17v1M32.5 29v2m0 12v2m0 4v1m0 4v1m0 2v1m0 6v1m0 20v1m0 30v1m0 3v1m0 18v1m0 44v1m0 19v1m0 14v1m0 38v1m0 32v3m0 75v1M33.5 19v1m0 48v1m0 50v1m0 19v1m0 13v1m0 18v1m0 3v1m0 115v1m0 27v1m0 45v1m0 7v1m0 5v1m0 17v2M34.5 36v1m0 7v1m0 2v2m0 7v1m0 8v1m0 46v1m0 25v1m0 10v1m0 11v1m0 6v1m0 11v1m0 7v1m0 17v1m0 42v1m0 43v1m0 15v1m0 3v1m0 58v1m0 8v1m0 2v1m0 9v1M35.5 34v1m0 23v1m0 46v1m0 97v1m0 6v1m0 11v1m0 13v3m0 5v1m0 8v1m0 1v1m0 20v1m0 4v1m0 8v1m0 41v1m0 8v1m0 15v1m0 3v1m0 11v1m0 4v2M36.5 36v1m0 2v1m0 9v1m0 8v1m0 11v1m0 15v1m0 12v1m0 3v1m0 69v1m0 21v1m0 3v1m0 9v1m0 49v1m0 11v1m0 20v1m0 1v1m0 1v1m0 12v1m0 18v1m0 35v1m0 4v1m0 8v2M37.5 30v1m0 13v1m0 1v2m0 1v1m0 1v1m0 1v1m0 6v1m0 59v1m0 14v1m0 39v1m0 27v1m0 2v1m0 39v1m0 30v1m0 9v1m0 12v1m0 40v1m0 14v1m0 18v1M38.5 41v1m0 6v1m0 41v1m0 36v1m0 8v1m0 3v1m0 1v1m0 2v1m0 38v1m0 16v1m0 2v1m0 11v1m0 23v2m0 20v1m0 4v1m0 43v1m0 17v1m0 11v1m0 22v1m0 35v1M39.5 32v1m0 2v1m0 36v1m0 5v1m0 1v1m0 27v2m0 31v1m0 31v1m0 63v1m0 4v1m0 25v1m0 1v1m0 32v1m0 53v1m0 1v1m0 31v1M40.5 27v1m0 6v1m0 22v1m0 9v1m0 15v1m0 26v1m0 34v1m0 24v1m0 5v1m0 30v1m0 9v1m0 4v1m0 10v1m0 2v1m0 11v1m0 18v2m0 12v1m0 1v2m0 19v2m0 14v1m0 22v1m0 16v1m0 10v1M41.5 66v1m0 14v1m0 5v1m0 15v1m0 28v1m0 1v1m0 18v1m0 114v1m0 37v1m0 20v1m0 23v1m0 14v1m0 18v1M42.5 38v1m0 28v1m0 1v1m0 33v1m0 38v1m0 5v1m0 43v1m0 1v1m0 43v1m0 12v1m0 42v1m0 2v1m0 8v1m0 4v1m0 1v1m0 14v1m0 11v1m0 10v1m0 7v1m0 27v1m0 1v1M43.5 31v1m0 12v1m0 16v1m0 11v1m0 9v1m0 2v1m0 41v1m0 31v1m0 31v1m0 4v1m0 39v1m0 6v1m0 1v1m0 14v1m0 2v1m0 41v1m0 1v1m0 6v1m0 18v1m0 12v1m0 42v1M44.5 32v1m0 63v1m0 14v1m0 5v1m0 15v1m0 21v1m0 40v1m0 16v1m0 20v1m0 9v1m0 8v1m0 4v1m0 86v1m0 13v1m0 16v2m0 10v1M45.5 42v1m0 12v1m0 7v1m0 24v1m0 53v1m0 65v1m0 7v1m0 1v1m0 8v1m0 6v1m0 4v1m0 61v2m0 51v1m0 14v1m0 4v1m0 1v1m0 2v1m0 1v1M46.5 29v1m0 6v1m0 2v1m0 9v1m0 20v1m0 30v1m0 10v1m0 40v1m0 10v1m0 39v1m0 4v1m0 24v1m0 28v1m0 15v1m0 12v1m0 3v1m0 2v1m0 99v1M47.5 29v1m0 49v1m0 20v1m0 5v1m0 11v1m0 7v1m0 38v1m0 1v1m0 41v1m0 4v1m0 16v1m0 8v1m0 24v1m0 6v1m0 30v1m0 8v1m0 21v1m0 7v1m0 25v1m0 15v1m0 3v1m0 9v1m0 5v1M48.5 32v2m0 10v1m0 6v1m0 39v1m0 1v1m0 3v1m0 26v1m0 1v1m0 23v1m0 28v1m0 6v1m0 1v1m0 10v1m0 35v1m0 20v1m0 36v1m0 57v1m0 8v1M49.5 25v1m0 22v1m0 19v1m0 3v1m0 14v1m0 5v1m0 49v1m0 10v1m0 1v1m0 27v1m0 2v1m0 1v1m0 12v2m0 9v1m0 3v1m0 5v1m0 5v1m0 44v1m0 60v1m0 12v1m0 22v1M50.5 33v1m0 131v1m0 4v1m0 13v1m0 15v1m0 17v2m0 53v1m0 6v1m0 11v1m0 11v1m0 22v1m0 66v1m0 1v1M51.5 44v1m0 15v1m0 3v1m0 33v1m0 35v1m0 21v2m0 35v1m0 17v1m0 8v1m0 3v1m0 58v2m0 60v1m0 4v1m0 43v1M52.5 22v2m0 14v1m0 13v1m0 1v1m0 54v1m0 4v1m0 20v2m0 31v1m0 5v1m0 15v1m0 23v1m0 7v1m0 106v1m0 4v1m0 5v2m0 15v1m0 20v1m0 12v1M53.5 22v1m0 9v1m0 2v1m0 2v1m0 57v1m0 12v1m0 16v3m0 35v1m0 16v1m0 3v1m0 18v1m0 10v1m0 8v1m0 7v1m0 3v1m0 24v1m0 14v1m0 9v1m0 41v1m0 10v1m0 33v1m0 13v1M54.5 37v1m0 43v1m0 8v1m0 52v2m0 2v1m0 17v1m0 3v1m0 7v1m0 10v1m0 10v1m0 11v1m0 3v1m0 5v1m0 19v1m0 6v1m0 68v1m0 14v1m0 4v1m0 4v1m0 8v1m0 8v1m0 25v1M55.5 26v1m0 6v1m0 20v1m0 7v1m0 16v1m0 18v1m0 18v1m0 6v1m0 19v1m0 15v1m0 18v1m0 18v1m0 23v1m0 39v2m0 24v1m0 1v1m0 8v1m0 8v1M56.5 47v1m0 9v1m0 12v1m0 43v1m0 8v1m0 6v1m0 7v1m0 2v2m0 105v2m0 1v1m0 3v1m0 25v1m0 63v1m0 10v1m0 3v1m0 5v1M57.5 71v1m0 1v1m0 13v1m0 42v1m0 22v1m0 8v1m0 26v1m0 2v1m0 39v1m0 16v1m0 2v1m0 22v1m0 20v1m0 1v1m0 23v1m0 2v1m0 18v1m0 5v1m0 9v1m0 16v1M58.5 32v1m0 27v1m0 12v1m0 5v1m0 22v1m0 8v1m0 17v1m0 30v1m0 4v1m0 12v1m0 8v1m0 1v1m0 43v1m0 6v1m0 17v1m0 8v1m0 3v1m0 12v1m0 4v1m0 31v1m0 8v1m0 30v1m0 34v1m0 4v1M59.5 93v1m0 14v1m0 7v1m0 5v1m0 29v1m0 34v1m0 43v1m0 17v1m0 18v1m0 39v1m0 2v2m0 18v1m0 5v1m0 5v1m0 34v1m0 16v1M60.5 92v1m0 42v2m0 4v1m0 13v1m0 9v1m0 4v1m0 49v1m0 12v1m0 65v1m0 70v1m0 1v1m0 6v1m0 23v1M61.5 33v1m0 15v1m0 6v1m0 26v1m0 16v1m0 39v1m0 7v1m0 5v1m0 71v1m0 16v1m0 39v1m0 9v1m0 41v1m0 3v1m0 11v1m0 4v1m0 5v1m0 12v1m0 7v1m0 1v1m0 3v1m0 6v1m0 2v1M62.5 39v1m0 21v1m0 31v1m0 29v1m0 19v1m0 59v1m0 5v1m0 26v1m0 59v1m0 23v1m0 38v1m0 36v1M63.5 29v1m0 26v1m0 8v1m0 45v1m0 32v1m0 2v1m0 7v1m0 46v1m0 26v1m0 14v1m0 1v1m0 24v1m0 6v1m0 15v1m0 16v1m0 15v2m0 4v1m0 3v1m0 8v1m0 21v1M64.5 33v1m0 17v1m0 42v1m0 22v1m0 14v1m0 2v1m0 6v1m0 14v1m0 46v2m0 19v1m0 19v1m0 2v1m0 7v1m0 7v1m0 2v1m0 6v1m0 45v1m0 29v1m0 28v1m0 1v1m0 13v1M65.5 47v1m0 2v2m0 3v2m0 2v1m0 44v1m0 23v1m0 4v1m0 27v1m0 1v2m0 2v1m0 14v1m0 21v1m0 3v1m0 19v1m0 6v1m0 1v1m0 13v1m0 8v1m0 28v1m0 8v2m0 2v1m0 7v1m0 32v1m0 21v1m0 32v1M66.5 39v1m0 2v1m0 23v1m0 23v1m0 11v1m0 3v1m0 14v1m0 7v1m0 2v1m0 7v1m0 19v1m0 19v1m0 20v1m0 19v1m0 1v1m0 14v1m0 3v1m0 6v1m0 2v1m0 2v1m0 15v1m0 7v1m0 51v1m0 3v1m0 1v2m0 26v1M67.5 36v1m0 82v1m0 2v1m0 5v1m0 2v2m0 31v1m0 1v1m0 8v1m0 1v1m0 3v1m0 38v1m0 32v1m0 2v1m0 63v1m0 15v1m0 12v1m0 2v1M68.5 27v1m0 4v1m0 1v1m0 4v1m0 7v1m0 40v1m0 38v1m0 38v1m0 16v1m0 54v1m0 8v1m0 28v1m0 35v1m0 20v1m0 9v1m0 17v1m0 2v1m0 11v1m0 26v1M69.5 41v1m0 1v1m0 61v1m0 16v1m0 5v1m0 11v1m0 97v1m0 52v1m0 3v1m0 1v1m0 4v1m0 3v1m0 11v1m0 5v3m0 9v1m0 21v1m0 4v1m0 25v1m0 6v1M70.5 43v1m0 49v1m0 8v1m0 24v1m0 9v1m0 7v1m0 16v1m0 11v1m0 26v1m0 6v1m0 37v1m0 53v1m0 51v1m0 21v1m0 11v1M71.5 74v1m0 10v1m0 21v1m0 40v2m0 2v1m0 12v1m0 12v1m0 1v1m0 40v2m0 4v1m0 13v1m0 76v1m0 27v1m0 30v3M72.5 39v1m0 36v1m0 23v1m0 2v1m0 13v1m0 3v1m0 9v1m0 17v1m0 19v1m0 12v1m0 26v1m0 13v1m0 1v1m0 8v1m0 22v1m0 5v1m0 1v1m0 34v1m0 5v1m0 2v1m0 2v1m0 28v1m0 15v1m0 20v1m0 14v1m0 9v1M73.5 30v1m0 35v1m0 18v1m0 28v1m0 15v1m0 27v1m0 17v1m0 31v1m0 11v1m0 16v1m0 10v2m0 5v1m0 20v1m0 6v1m0 2v1m0 28v1m0 6v1m0 55v1m0 9v1M74.5 40v1m0 21v2m0 6v1m0 7v1m0 31v1m0 8v1m0 5v1m0 11v1m0 37v1m0 23v1m0 4v2m0 10v1m0 16v2m0 25v1m0 9v1m0 6v1m0 9v1m0 13v1m0 11v1m0 27v1m0 18v1m0 10v1m0 8v1M75.5 28v1m0 14v1m0 1v1m0 7v1m0 4v1m0 7v1m0 18v1m0 6v1m0 18v1m0 1v1m0 11v1m0 16v1m0 17v1m0 27v1m0 6v1m0 12v1m0 93v1m0 4v1m0 43v1m0 7v1m0 23v1m0 4v2M76.5 48v1m0 20v1m0 13v1m0 14v2m0 6v1m0 15v1m0 30v1m0 15v1m0 30v1m0 78v1m0 1v1m0 69v1m0 34v1m0 9v1m0 4v1M77.5 40v1m0 3v1m0 2v1m0 53v1m0 13v1m0 6v1m0 30v1m0 10v1m0 5v1m0 9v1m0 15v1m0 57v1m0 18v1m0 4v1m0 24v1m0 35v1m0 11v1m0 7v1m0 5v1m0 7v1m0 20v1M78.5 35v1m0 61v1m0 44v1m0 15v1m0 11v1m0 65v1m0 6v2m0 42v2m0 24v1m0 6v1m0 42v1m0 5v1m0 1v1M79.5 66v1m0 23v1m0 4v1m0 24v1m0 17v1m0 6v1m0 1v2m0 8v1m0 22v1m0 24v1m0 19v1m0 2v1m0 7v1m0 9v1m0 23v1m0 10v1m0 7v1m0 17v1m0 69v2M80.5 29v1m0 3v1m0 62v1m0 1v1m0 8v1m0 8v1m0 1v1m0 10v1m0 39v1m0 25v1m0 7v1m0 81v1m0 8v1m0 38v1m0 42v1m0 22v1M81.5 61v1m0 7v1m0 18v1m0 7v1m0 1v1m0 2v1m0 22v2m0 5v2m0 4v1m0 9v1m0 26v1m0 1v1m0 8v1m0 8v2m0 27v1m0 14v1m0 17v1m0 33v1m0 22v1m0 27v1m0 10v1m0 4v1M82.5 40v1m0 9v1m0 7v2m0 7v1m0 5v1m0 39v1m0 34v1m0 16v1m0 18v1m0 57v1m0 4v1m0 30v1m0 31v1m0 10v1m0 25v1m0 2v1M83.5 33v1m0 3v1m0 6v1m0 2v1m0 4v1m0 14v1m0 1v1m0 12v1m0 16v1m0 5v1m0 1v1m0 18v1m0 34v2m0 13v1m0 11v1m0 7v1m0 30v1m0 15v1m0 26v1m0 5v1m0 19v2m0 15v1m0 4v1m0 7v1m0 27v1m0 8v1m0 36v1m0 1v1M84.5 82v1m0 59v1m0 10v1m0 42v1m0 9v1m0 18v1m0 12v2m0 12v1m0 13v1m0 69v1M85.5 64v1m0 30v1m0 5v1m0 2v1m0 28v1m0 6v2m0 1v1m0 4v1m0 30v1m0 17v1m0 5v1m0 6v2m0 13v1m0 45v1m0 8v1m0 2v1m0 5v1m0 1v1m0 14v1m0 7v1m0 19v1m0 13v1m0 38v1M86.5 43v1m0 67v1m0 30v1m0 91v1m0 4v1m0 15v1m0 10v1m0 69v1m0 5v1m0 26v1m0 27v1M87.5 30v1m0 9v1m0 25v1m0 11v1m0 6v1m0 29v1m0 10v1m0 8v1m0 44v1m0 7v1m0 14v1m0 38v1m0 3v1m0 33v1m0 19v1m0 19v1m0 2v1m0 46v1m0 6v1m0 3v1m0 3v1m0 7v1m0 5v1M88.5 55v1m0 12v1m0 20v1m0 2v1m0 14v1m0 42v1m0 12v1m0 8v1m0 6v1m0 5v1m0 1v2m0 4v1m0 21v1m0 20v1m0 16v1m0 1v1m0 15v1m0 3v1m0 11v1m0 4v1m0 21v1m0 43v1m0 5v1m0 38v1M89.5 47v1m0 32v1m0 11v1m0 13v1m0 6v1m0 42v1m0 11v1m0 1v2m0 84v1m0 39v1m0 23v1m0 23v1m0 6v1m0 7v1m0 23v1m0 14v1M90.5 31v1m0 5v1m0 34v1m0 5v1m0 9v1m0 42v1m0 31v1m0 13v1m0 5v1m0 29v1m0 11v1m0 69v1m0 14v1m0 3v1m0 6v1m0 2v1m0 23v1m0 20v1m0 4v1M91.5 33v1m0 59v1m0 3v1m0 18v1m0 6v1m0 3v1m0 57v1m0 12v1m0 16v1m0 5v1m0 4v1m0 2v1m0 62v1m0 48v1m0 41v1m0 11v1M92.5 52v1m0 41v1m0 7v1m0 7v1m0 14v1m0 59v1m0 26v1m0 13v1m0 3v1m0 5v1m0 31v1m0 1v1m0 1v1m0 8v1m0 37v1m0 6v1m0 9v1m0 35v1M93.5 139v1m0 43v1m0 33v1m0 13v1m0 2v1m0 5v1m0 1v1m0 49v1m0 41v1m0 12v1m0 3v1m0 48v1M94.5 44v3m0 20v1m0 4v1m0 35v1m0 46v1m0 27v1m0 11v1m0 6v1m0 6v1m0 18v1m0 19v1m0 59v1m0 69v1m0 9v1m0 11v1M95.5 33v1m0 3v1m0 30v1m0 34v1m0 3v1m0 13v1m0 9v1m0 14v1m0 40v1m0 7v1m0 6v1m0 33v1m0 7v2m0 10v1m0 49v1m0 27v1m0 7v1m0 32v1m0 5v1m0 20v1M96.5 30v1m0 62v1m0 72v1m0 2v1m0 14v1m0 24v1m0 25v1m0 18v1m0 18v1m0 5v1m0 5v1m0 1v1m0 12v1m0 34v1m0 30v1m0 34v1M97.5 51v1m0 17v1m0 36v1m0 4v1m0 8v1m0 4v1m0 24v1m0 13v1m0 9v1m0 14v1m0 25v1m0 24v1m0 14v1m0 5v1m0 9v1m0 3v1m0 28v1m0 6v1m0 18v1m0 4v1m0 65v1M98.5 55v1m0 54v1m0 17v1m0 50v1m0 3v1m0 19v1m0 10v1m0 52v1m0 1v1m0 5v1m0 9v2m0 8v1m0 16v1m0 63v1m0 17v1M99.5 35v1m0 3v1m0 14v1m0 3v1m0 21v1m0 2v1m0 51v1m0 5v1m0 40v1m0 30v1m0 22v1m0 26v1m0 34v1m0 15v1m0 13v1m0 22v1m0 18v1m0 30v1M100.5 44v1m0 27v2m0 1v1m0 12v2m0 61v1m0 4v1m0 12v1m0 22v1m0 71v1m0 44v1m0 5v1m0 7v1m0 28v1m0 11v1m0 37v2M101.5 45v1m0 22v1m0 5v1m0 33v1m0 31v1m0 1v1m0 22v1m0 26v1m0 4v1m0 37v1m0 31v1m0 19v1m0 10v1m0 10v1m0 28v1m0 28v1M102.5 38v1m0 58v1m0 20v1m0 19v1m0 19v1m0 24v1m0 16v1m0 15v1m0 11v1m0 52v1m0 71v1m0 5v1m0 4v2m0 8v1M103.5 46v1m0 34v1m0 8v1m0 3v1m0 13v1m0 1v1m0 4v1m0 5v1m0 2v1m0 5v1m0 26v1m0 2v1m0 35v1m0 67v1m0 7v1m0 26v1m0 7v1m0 20v1m0 19v1m0 5v1m0 15v1m0 33v1M104.5 32v1m0 38v2m0 8v1m0 12v1m0 14v1m0 7v1m0 6v1m0 24v1m0 9v1m0 12v1m0 5v1m0 38v1m0 18v1m0 5v1m0 9v1m0 43v1m0 9v1m0 14v1m0 7v1m0 29v1m0 29v1m0 2v1m0 11v1M105.5 31v1m0 3v1m0 39v1m0 12v1m0 13v2m0 14v1m0 5v1m0 1v1m0 12v1m0 16v1m0 30v1m0 23v1m0 10v1m0 22v1m0 30v2m0 13v1m0 27v2m0 2v1m0 8v1m0 22v1m0 15v1m0 28v1M106.5 65v1m0 24v1m0 7v1m0 5v1m0 78v1m0 4v1m0 20v1m0 20v1m0 28v1m0 4v1m0 18v1m0 9v1m0 11v1m0 8v1m0 77v2m0 7v1M108.5 50v1m0 16v1m0 20v1m0 22v1m0 14v1m0 8v1m0 11v1m0 6v1m0 85v1m0 2v1m0 5v1m0 10v1m0 15v1m0 4v1m0 3v1m0 2v1m0 6v1m0 11v1m0 16v1m0 5v1m0 66v1M110.5 26v1m0 12v1m0 42v1m0 1v1m0 16v1m0 1v1m0 15v1m0 5v1m0 4v1m0 7v1m0 22v1m0 20v1m0 19v1m0 23v1m0 9v1m0 13v1m0 1v1m0 3v2m0 2v1m0 9v1m0 1v1m0 5v1m0 43v1m0 7v2M112.5 26v1m0 72v1m0 17v2m0 14v1m0 20v1m0 52v1m0 22v1m0 32v1m0 43v1m0 22v1m0 12v1M114.5 31v1m0 114v1m0 14v1m0 44v1m0 6v1m0 19v1m0 5v1m0 14v1m0 36v1m0 7v1m0 1v1m0 68v1m0 2v1m0 21v1M116.5 42v2m0 23v2m0 19v1m0 9v1m0 22v1m0 4v1m0 21v1m0 17v1m0 56v1m0 14v1m0 4v1m0 19v1m0 15v1m0 11v1m0 8v2m0 10v1m0 4v1m0 59v1m0 3v1M118.5 21v2m0 17v1m0 12v1m0 23v1m0 26v1m0 31v1m0 12v1m0 11v1m0 34v1m0 21v1m0 5v1m0 7v1m0 6v1m0 95v1m0 2v1m0 5v1m0 18v1m0 12v1m0 2v1m0 7v1M120.5 25v1m0 40v1m0 43v1m0 34v2m0 21v2m0 16v1m0 38v1m0 12v1m0 3v1m0 1v1m0 40v1m0 11v1m0 13v1m0 2v1m0 3v1m0 41v1m0 1v1m0 1v1M125.5 18v1m0 7v1m0 42v1m0 11v1m0 29v1m0 10v1m0 23v1m0 3v1m0 23v1m0 1v1m0 3v1m0 5v1m0 8v1m0 6v1m0 5v1m0 18v1m0 37v1m0 17v1m0 3v1m0 2v1m0 7v1m0 90v1m0 10v1M130.5 16v1m0 2v1m0 8v2m0 1v1m0 5v1m0 53v1m0 2v1m0 39v1m0 7v1m0 69v1m0 3v1m0 16v1m0 33v1m0 52v1m0 6v1m0 8v1m0 7v1m0 31v1M135.5 34v1m0 14v1m0 25v1m0 14v1m0 7v1m0 16v1m0 19v1m0 1v1m0 25v1m0 4v1m0 16v1m0 3v1m0 7v1m0 26v1m0 1v1m0 7v1m0 14v1m0 24v1m0 22v1m0 14v1m0 49v1m0 25v1m0 8v1m0 3v1M140.5 39v1m0 15v1m0 28v1m0 22v1m0 4v1m0 5v1m0 10v1m0 67v1m0 12v2m0 9v1m0 42v1m0 25v1m0 4v1m0 15v1m0 27v1m0 31v1m0 1v1m0 14v1m0 5v1m0 2v1M145.5 43v1m0 26v1m0 27v1m0 38v1m0 8v1m0 11v1m0 51v1m0 12v1m0 18v1m0 72v1m0 4v1m0 20v1m0 16v1m0 12v1m0 18v1m0 3v1M150.5 45v1m0 60v1m0 9v1m0 9v1m0 5v1m0 9v1m0 4v1m0 5v1m0 31v1m0 3v1m0 3v1m0 25v1m0 22v1m0 3v1m0 7v1m0 1v1m0 2v1m0 7v1m0 33v1m0 50v2m0 46v1"/><path stroke="#481f70" d="M0.5 41v2m0 4v1m0 15v1m0 2v1m0 3v1m0 55v1m0 16v1m0 3v1m0 23v2m0 4v1m0 32v1m0 9v1m0 14v1m0 12v1m0 3v1m0 58v1m0 4v1m0 11v1m0 26v1m0 12v1M1.5 49v1m0 11v1m0 19v1m0 29v1m0 7v1m0 16v1m0 32v1m0 25v1m0 65v1m0 11v1m0 15v1m0 10v1m0 19v1m0 3v1m0 7v1m0 16v1m0 32v1m0 12v1M2.5 33v1m0 34v1m0 20v1m0 7v1m0 6v1m0 50v1m0 19v1m0 12v1m0 18v1m0 4v1m0 30v1m0 16v1m0 22v1m0 5v1m0 28v1m0 5v1m0 22v1m0 1v1m0 10v1m0 8v1m0 21v1M3.5 44v1m0 8v1m0 12v1m0 105v1m0 1v1m0 8v1m0 17v1m0 5v1m0 27v1m0 11v2m0 11v1m0 13v1m0 23v1m0 1v1m0 44v1m0 36v1m0 10v1m0 1v1M4.5 34v1m0 2v1m0 18v1m0 15v1m0 18v1m0 4v1m0 49v1m0 29v2m0 4v1m0 13v1m0 14v1m0 29v1m0 4v1m0 13v1m0 3v1m0 42v1m0 5v1m0 9v1m0 10v1m0 17v1m0 13v1m0 6v2M5.5 41v1m0 126v1m0 14v1m0 7v1m0 20v1m0 3v1m0 26v1m0 3v1m0 10v1m0 13v1m0 4v1m0 2v2m0 47v2m0 8v1m0 1v1m0 8v1M6.5 32v1m0 77v1m0 32v1m0 18v1m0 5v2m0 5v1m0 20v1m0 68v1m0 9v1m0 5v1m0 39v3m0 16v1m0 22v2m0 17v2m0 14v1M7.5 73v1m0 16v1m0 42v1m0 82v1m0 15v1m0 68v1m0 15v1m0 6v1m0 3v1m0 3v1m0 1v1m0 9v1m0 3v1m0 35v1m0 8v1M8.5 25v1m0 19v1m0 7v1m0 48v1m0 7v1m0 2v1m0 21v1m0 37v1m0 7v1m0 91v1m0 64v1M9.5 31v1m0 30v1m0 23v1m0 34v1m0 36v1m0 40v1m0 4v1m0 12v1m0 2v1m0 3v1m0 20v1m0 5v1m0 31v1m0 17v1m0 1v1M10.5 32v1m0 20v1m0 9v1m0 6v1m0 5v1m0 16v1m0 39v1m0 17v1m0 86v1m0 40v1m0 42v1M11.5 42v1m0 3v1m0 6v1m0 11v1m0 34v1m0 4v1m0 36v1m0 50v1m0 14v1m0 27v1m0 9v1m0 3v1m0 78v1m0 19v1m0 1v1m0 21v1m0 24v1M12.5 30v1m0 5v1m0 2v1m0 6v1m0 22v1m0 63v1m0 3v1m0 6v1m0 1v1m0 5v1m0 10v2m0 45v1m0 17v1m0 23v1m0 5v1m0 73v1m0 8v1m0 3v1m0 8v1m0 41v1m0 1v1M13.5 31v1m0 16v1m0 48v1m0 79v1m0 35v1m0 14v1m0 27v1m0 8v1m0 80v1m0 11v1m0 23v2m0 15v1M14.5 37v1m0 45v1m0 2v1m0 2v1m0 16v1m0 1v1m0 22v1m0 35v2m0 3v1m0 8v1m0 15v1m0 17v1m0 9v1m0 8v1m0 20v2m0 4v1m0 6v1m0 5v2m0 5v1m0 9v1m0 42v1m0 54v1m0 2v1M15.5 26v1m0 31v1m0 1v1m0 33v1m0 1v2m0 76v1m0 55v1m0 15v1m0 28v1m0 51v1m0 19v1m0 3v1m0 3v2m0 2v1m0 34v1M16.5 74v3m0 31v1m0 31v1m0 37v1m0 2v1m0 30v1m0 10v2m0 21v1m0 12v1m0 2v1m0 22v1m0 3v1m0 15v1m0 4v1m0 39v1m0 1v1m0 9v1m0 5v1M17.5 22v2m0 2v1m0 26v1m0 25v1m0 15v1m0 66v1m0 27v1m0 47v1m0 49v1m0 14v1m0 6v1m0 10v1m0 12v1m0 22v1m0 26v1m0 3v1m0 5v1M18.5 37v1m0 7v1m0 15v1m0 9v1m0 60v1m0 21v1m0 1v1m0 2v1m0 17v1m0 6v1m0 1v1m0 9v1m0 18v1m0 6v1m0 29v1m0 7v1m0 9v1m0 21v1m0 2v1m0 7v1M19.5 59v1m0 13v1m0 8v1m0 20v1m0 34v1m0 26v1m0 9v1m0 5v1m0 21v1m0 28v1m0 10v1m0 28v1m0 49v1m0 22v1m0 21v1M20.5 27v1m0 41v1m0 36v1m0 70v1m0 32v1m0 12v1m0 66v1m0 9v1m0 31v1m0 38v1m0 20v1M21.5 18v1m0 1v1m0 13v1m0 18v1m0 7v1m0 6v1m0 1v1m0 3v1m0 8v1m0 6v1m0 13v1m0 9v1m0 6v1m0 36v1m0 26v1m0 22v1m0 16v3m0 32v1m0 1v1m0 21v1m0 2v1m0 7v1m0 34v1m0 23v1m0 4v1m0 23v1m0 4v1m0 15v1M22.5 35v1m0 22v1m0 12v1m0 13v1m0 16v2m0 13v1m0 6v1m0 23v1m0 1v1m0 34v1m0 8v1m0 24v1m0 10v1m0 1v2m0 10v1m0 11v1m0 33v1m0 77v1m0 30v1m0 4v1M23.5 33v1m0 2v1m0 1v1m0 6v1m0 17v1m0 1v1m0 4v1m0 5v1m0 33v1m0 19v1m0 5v1m0 8v1m0 9v1m0 11v1m0 3v1m0 3v1m0 13v1m0 9v1m0 23v1m0 37v1m0 27v1m0 7v1m0 11v1m0 10v1M24.5 28v1m0 7v1m0 6v1m0 17v1m0 10v1m0 6v1m0 16v1m0 15v1m0 17v1m0 2v1m0 29v1m0 26v1m0 4v1m0 12v1m0 69v1m0 2v1m0 19v1m0 44v2m0 53v1m0 2v1M25.5 32v2m0 12v1m0 6v2m0 2v1m0 3v1m0 23v1m0 6v1m0 13v1m0 24v1m0 9v1m0 11v1m0 8v1m0 2v1m0 38v1m0 2v1m0 88v1m0 7v1m0 34v1m0 2v1m0 51v1M26.5 35v1m0 8v1m0 2v1m0 1v1m0 10v1m0 4v1m0 7v1m0 4v1m0 22v1m0 49v1m0 32v2m0 48v1m0 1v1m0 36v1m0 30v1m0 49v1m0 4v1m0 23v1m0 5v1M27.5 35v1m0 8v1m0 66v1m0 36v1m0 15v1m0 22v1m0 34v1m0 22v2m0 24v1m0 27v1m0 1v1m0 22v1m0 2v1m0 9v1m0 38v1m0 3v1M28.5 38v1m0 22v1m0 10v1m0 35v1m0 49v1m0 15v1m0 1v1m0 13v1m0 9v1m0 13v1m0 16v1m0 1v1m0 29v1m0 2v1m0 17v1m0 19v1m0 28v1m0 8v1m0 20v1m0 20v1M29.5 29v1m0 2v1m0 2v1m0 12v1m0 16v1m0 29v1m0 37v1m0 13v1m0 15v1m0 43v1m0 25v1m0 3v1m0 31v1m0 22v1m0 10v1m0 7v1m0 38v1m0 26v1m0 5v1M30.5 37v1m0 23v1m0 40v1m0 2v1m0 15v1m0 8v1m0 3v1m0 3v1m0 109v1m0 18v1m0 20v1m0 2v1m0 28v2m0 29v1M31.5 46v1m0 27v1m0 31v1m0 32v1m0 10v1m0 1v1m0 3v1m0 6v1m0 58v1m0 59v1m0 2v1m0 8v1m0 23v1m0 3v1m0 11v1m0 62v1M32.5 45v1m0 6v1m0 2v1m0 5v1m0 73v1m0 6v1m0 48v1m0 23v1m0 21v1m0 19v1m0 9v1m0 5v1m0 6v1m0 1v1m0 49v1m0 4v1m0 1v1m0 5v1m0 38v1m0 6v1m0 12v1M33.5 56v1m0 2v1m0 6v1m0 56v1m0 43v1m0 41v1m0 5v1m0 24v1m0 1v1m0 4v1m0 48v1m0 10v1m0 24v1m0 24v2M34.5 27v1m0 32v1m0 53v1m0 32v1m0 12v1m0 10v1m0 28v1m0 28v1m0 33v1m0 25v1m0 1v1m0 5v1m0 5v1m0 15v1m0 23v1m0 1v1m0 20v1M35.5 31v1m0 36v1m0 6v1m0 2v1m0 3v1m0 4v1m0 13v1m0 13v1m0 23v1m0 1v1m0 9v1m0 36v1m0 1v1m0 37v1m0 18v1m0 9v1m0 11v1m0 16v1m0 23v1m0 9v1m0 3v1m0 14v1m0 45v1m0 7v1M36.5 50v2m0 4v1m0 31v1m0 28v1m0 65v2m0 2v1m0 31v1m0 16v1m0 15v1m0 31v1m0 25v1m0 2v1m0 11v1m0 5v1m0 55v1m0 1v1m0 2v1M37.5 39v1m0 14v1m0 8v1m0 21v1m0 15v1m0 20v2m0 8v1m0 18v1m0 1v1m0 5v1m0 42v1m0 16v1m0 22v1m0 12v1m0 25v1m0 17v1m0 4v1m0 49v1m0 29v1m0 5v1M38.5 45v1m0 1v1m0 16v1m0 32v1m0 28v1m0 28v1m0 2v1m0 17v1m0 8v1m0 20v1m0 40v1m0 8v1m0 3v1m0 3v1m0 24v1m0 9v1m0 4v1m0 11v1m0 18v1m0 27v1m0 8v1m0 1v1m0 6v1m0 16v1M39.5 123v1m0 28v1m0 36v1m0 2v1m0 10v1m0 34v1m0 73v1m0 15v1m0 3v1m0 22v1m0 8v1M40.5 63v1m0 35v1m0 1v1m0 44v1m0 16v1m0 39v1m0 15v1m0 92v1m0 32v2m0 28v1m0 20v1M41.5 38v1m0 3v1m0 20v1m0 11v1m0 42v1m0 5v1m0 55v1m0 1v1m0 4v1m0 10v1m0 9v1m0 3v1m0 20v1m0 88v1m0 5v1m0 7v1m0 12v1m0 8v1m0 12v1M42.5 30v1m0 4v1m0 11v1m0 5v1m0 11v1m0 22v1m0 17v1m0 5v1m0 5v1m0 1v1m0 10v1m0 37v1m0 5v1m0 17v1m0 34v1m0 27v1m0 5v1m0 17v1m0 37v1m0 7v1m0 7v1m0 17v1M43.5 35v1m0 18v1m0 24v1m0 7v2m0 49v1m0 46v1m0 3v1m0 13v1m0 7v1m0 28v1m0 12v1m0 30v1m0 7v1m0 77v1m0 23v1M44.5 41v1m0 3v2m0 6v1m0 12v1m0 12v1m0 61v1m0 21v1m0 48v1m0 6v1m0 65v1m0 31v1m0 10v1m0 11v1m0 6v1m0 6v1m0 48v1M45.5 40v1m0 10v1m0 4v1m0 32v1m0 37v1m0 26v2m0 27v1m0 26v1m0 37v1m0 76v1m0 2v1m0 1v1m0 35v1m0 3v1m0 27v1m0 4v1M46.5 46v2m0 21v1m0 10v1m0 21v1m0 23v1m0 8v1m0 2v1m0 10v1m0 23v1m0 5v1m0 61v1m0 23v1m0 7v1m0 11v1m0 11v1m0 15v1m0 2v1m0 1v1m0 6v1m0 12v1m0 6v2m0 7v1m0 26v1m0 8v1M47.5 47v1m0 12v1m0 30v1m0 52v1m0 17v1m0 15v1m0 23v1m0 9v1m0 91v1m0 22v1m0 11v1m0 6v1m0 3v1m0 19v1m0 2v1m0 4v1m0 13v1M48.5 42v1m0 15v1m0 19v1m0 16v1m0 24v1m0 44v1m0 18v2m0 69v1m0 6v1m0 37v1m0 43v1m0 28v1m0 29v1M49.5 23v1m0 59v1m0 6v1m0 32v1m0 4v1m0 29v1m0 32v1m0 26v1m0 2v1m0 25v1m0 9v1m0 24v1m0 1v1m0 65v1m0 8v1m0 42v1M50.5 42v1m0 28v1m0 4v1m0 66v1m0 4v1m0 67v1m0 21v1m0 1v1m0 44v1m0 37v1m0 6v1m0 8v1m0 2v1m0 13v1m0 16v1m0 24v1m0 1v1M51.5 53v1m0 7v1m0 18v1m0 28v1m0 43v1m0 23v1m0 5v1m0 3v1m0 3v1m0 47v1m0 3v1m0 38v1m0 17v1m0 5v1m0 36v1m0 3v2m0 4v1m0 1v1m0 26v1M52.5 31v1m0 101v1m0 8v2m0 16v1m0 37v1m0 17v1m0 2v1m0 12v1m0 46v1m0 33v1m0 24v1m0 3v1m0 45v1M53.5 28v1m0 27v1m0 66v1m0 32v1m0 4v1m0 22v1m0 2v1m0 3v2m0 1v1m0 4v1m0 7v1m0 2v1m0 44v2m0 31v1m0 15v1m0 14v2m0 8v2m0 7v1m0 33v1m0 18v1M54.5 31v1m0 101v1m0 22v1m0 22v1m0 6v1m0 5v1m0 13v1m0 23v1m0 27v1m0 30v1m0 2v1m0 11v1m0 20v1m0 5v1m0 4v1m0 47v1M55.5 60v1m0 2v1m0 27v1m0 14v1m0 2v1m0 45v1m0 52v2m0 5v1m0 34v1m0 2v1m0 44v1m0 19v2m0 11v1m0 10v1m0 27v1m0 6v1m0 16v1m0 2v1M56.5 28v2m0 1v1m0 27v1m0 25v1m0 1v1m0 4v1m0 16v1m0 15v1m0 1v1m0 12v1m0 13v1m0 18v1m0 29v2m0 45v1m0 54v1m0 2v1m0 30v1m0 33v1m0 18v1M57.5 28v1m0 4v1m0 8v1m0 24v1m0 61v1m0 6v1m0 19v2m0 8v1m0 31v1m0 7v1m0 2v1m0 11v1m0 1v1m0 22v1m0 9v1m0 21v1m0 5v1m0 7v1m0 13v1m0 6v1m0 19v2m0 11v1m0 1v1m0 33v1m0 15v1M58.5 39v1m0 40v1m0 19v2m0 19v1m0 63v1m0 13v1m0 55v1m0 9v1m0 31v1m0 43v1m0 2v1m0 4v1m0 18v1M59.5 35v1m0 7v1m0 40v1m0 16v1m0 59v1m0 18v1m0 10v1m0 21v1m0 2v1m0 25v1m0 22v1m0 59v2m0 24v1m0 10v1m0 39v1M60.5 73v1m0 16v1m0 18v1m0 10v1m0 31v1m0 5v1m0 1v2m0 17v1m0 45v1m0 9v1m0 7v1m0 8v1m0 11v1m0 6v1m0 37v1m0 5v1m0 1v1m0 19v2m0 38v1M61.5 41v1m0 1v1m0 60v1m0 2v1m0 22v1m0 33v1m0 13v1m0 36v1m0 60v1m0 22v1m0 33v1m0 21v1m0 25v1M62.5 27v1m0 10v1m0 9v1m0 9v1m0 53v1m0 21v1m0 40v1m0 36v1m0 8v1m0 5v1m0 16v1m0 83v1m0 5v1m0 4v1m0 38v1m0 1v1M63.5 21v1m0 13v1m0 3v1m0 14v1m0 19v3m0 56v1m0 20v1m0 1v1m0 41v1m0 7v1m0 18v1m0 1v1m0 2v1m0 4v1m0 62v1m0 21v2m0 59v1M64.5 47v1m0 7v1m0 5v1m0 6v1m0 55v1m0 26v1m0 48v1m0 18v1m0 13v1m0 53v1m0 112v1M65.5 88v1m0 19v1m0 4v1m0 28v1m0 8v1m0 16v1m0 26v2m0 6v1m0 3v1m0 26v1m0 12v1m0 2v1m0 1v1m0 3v1m0 1v2m0 32v1m0 12v1m0 3v1m0 35v1m0 12v1m0 9v2m0 7v1m0 8v1m0 12v1M66.5 30v1m0 64v1m0 9v1m0 98v1m0 19v1m0 2v1m0 3v1m0 65v2m0 14v1m0 54v1m0 7v1m0 6v1m0 8v1m0 3v1m0 7v1M67.5 33v1m0 46v1m0 110v1m0 65v1m0 12v1m0 13v1m0 1v1m0 7v1m0 8v1m0 9v1m0 21v1m0 9v1m0 8v1m0 15v1M68.5 78v1m0 55v1m0 1v1m0 24v1m0 15v1m0 31v1m0 24v1m0 9v1m0 58v1m0 28v1m0 19v2m0 11v1m0 34v1m0 3v1M69.5 74v1m0 33v1m0 15v1m0 11v1m0 7v1m0 8v1m0 32v1m0 45v1m0 8v1m0 48v1m0 13v2m0 71v1m0 5v1m0 17v1M70.5 30v1m0 6v1m0 49v2m0 18v1m0 67v1m0 15v1m0 24v1m0 71v1m0 31v1m0 3v1m0 6v1m0 55v1m0 2v1M71.5 40v1m0 9v1m0 30v1m0 4v1m0 46v1m0 1v1m0 5v1m0 76v1m0 5v1m0 28v1m0 47v1m0 95v1M72.5 48v1m0 1v1m0 53v1m0 32v1m0 27v2m0 6v1m0 7v1m0 58v1m0 1v1m0 10v1m0 7v1m0 28v1m0 10v1m0 9v1m0 60v1M73.5 29v1m0 98v1m0 7v1m0 28v1m0 29v1m0 42v1m0 14v1m0 13v1M74.5 45v1m0 1v1m0 10v1m0 28v1m0 14v1m0 13v1m0 4v1m0 26v1m0 15v1m0 59v1m0 18v1m0 2v1m0 3v1m0 37v1m0 33v1m0 3v1m0 4v1m0 4v1m0 44v1M75.5 80v1m0 57v1m0 2v1m0 21v1m0 15v1m0 54v1m0 8v1m0 13v1m0 12v1m0 10v1m0 6v1m0 69v1m0 33v1M76.5 81v1m0 22v1m0 47v1m0 17v2m0 36v1m0 19v1m0 53v1m0 23v1m0 34v1m0 2v1m0 1v1m0 19v1m0 16v1m0 6v1m0 4v1M77.5 60v1m0 1v1m0 24v1m0 9v1m0 18v1m0 13v1m0 19v1m0 12v1m0 20v1m0 10v1m0 3v1m0 11v1m0 2v1m0 23v1m0 6v1m0 41v1m0 31v1m0 7v1m0 9v1m0 10v1m0 42v1m0 9v1M78.5 69v1m0 2v1m0 21v1m0 38v1m0 14v1m0 58v1m0 9v1m0 6v1m0 16v1m0 16v1m0 43v1m0 23v1m0 25v1m0 11v1m0 2v1m0 10v1m0 4v1m0 16v1M79.5 44v1m0 13v1m0 2v1m0 96v1m0 2v1m0 15v1m0 60v1m0 24v1m0 16v1m0 19v1m0 3v1m0 1v1m0 15v1m0 1v1m0 3v1m0 3v1m0 13v1m0 41v1M80.5 32v1m0 13v1m0 40v1m0 61v1m0 10v1m0 36v1m0 27v1m0 16v1m0 1v1m0 24v1m0 2v1m0 61v1m0 20v1m0 2v1m0 3v1m0 30v1M81.5 30v1m0 1v1m0 2v1m0 32v1m0 9v1m0 11v1m0 20v1m0 5v1m0 25v1m0 23v1m0 1v1m0 9v1m0 21v1m0 11v1m0 38v1m0 4v1m0 74v1m0 25v1m0 13v1m0 13v1M82.5 35v1m0 6v1m0 51v1m0 77v1m0 8v1m0 14v1m0 2v1m0 4v1m0 8v2m0 1v1m0 13v1m0 7v1m0 32v1m0 19v1m0 10v1m0 13v1m0 37v1m0 1v1m0 15v1m0 7v1m0 3v1m0 9v1m0 9v1M83.5 30v1m0 17v1m0 2v1m0 60v1m0 34v1m0 67v1m0 25v1m0 14v1m0 47v1m0 30v1m0 17v1m0 5v1m0 33v1M84.5 33v1m0 1v1m0 9v1m0 11v1m0 52v1m0 11v1m0 4v1m0 2v2m0 56v1m0 24v1m0 37v1m0 6v1m0 102v1m0 4v1m0 5v1m0 30v1M85.5 56v1m0 15v1m0 2v1m0 38v1m0 24v1m0 79v1m0 42v1m0 4v1m0 4v1m0 23v1m0 38v1m0 30v1M86.5 70v1m0 53v1m0 22v1m0 28v1m0 59v1m0 11v1m0 29v1m0 37v1m0 3v1m0 9v1m0 3v1m0 16v1m0 16v1m0 1v1m0 33v1M87.5 53v1m0 69v1m0 34v1m0 4v1m0 8v1m0 32v1m0 4v1m0 4v1m0 7v1m0 50v1m0 23v1m0 33v1m0 5v1m0 27v1m0 15v1M88.5 35v1m0 39v1m0 38v1m0 8v1m0 31v1m0 176v1m0 26v1m0 36v1M89.5 33v1m0 7v1m0 19v1m0 2v1m0 34v1m0 17v1m0 42v1m0 20v1m0 16v1m0 4v1m0 17v1m0 38v1m0 12v1m0 53v1m0 37v1m0 4v1m0 19v1M90.5 28v1m0 71v1m0 4v1m0 20v1m0 12v1m0 13v1m0 38v1m0 17v1m0 20v1m0 8v1m0 33v1m0 11v1m0 5v1m0 14v1m0 48v1m0 42v1M91.5 47v1m0 2v1m0 3v1m0 34v1m0 22v1m0 9v1m0 55v1m0 3v1m0 13v1m0 2v1m0 9v1m0 25v1m0 2v1m0 5v1m0 25v1m0 7v1m0 12v1m0 27v1m0 6v1m0 11v1m0 10v1m0 44v1m0 4v1M92.5 30v1m0 36v1m0 25v1m0 30v1m0 35v1m0 37v1m0 52v1m0 35v1m0 23v1m0 34v1m0 22v1m0 4v1M93.5 52v1m0 11v1m0 19v1m0 5v1m0 6v1m0 8v1m0 107v1m0 4v1m0 10v1m0 33v1m0 16v1m0 37v1m0 3v1m0 12v1m0 9v1m0 2v1m0 6v1m0 21v1M94.5 41v1m0 39v1m0 21v1m0 70v1m0 23v1m0 7v1m0 5v1m0 2v1m0 3v1m0 2v1m0 17v1m0 40v1m0 6v1m0 5v1m0 19v1m0 13v1m0 8v1m0 10v1m0 21v1m0 2v1m0 7v1M95.5 40v2m0 4v1m0 4v1m0 3v1m0 8v1m0 11v1m0 60v1m0 2v1m0 9v1m0 35v1m0 5v1m0 21v1m0 16v1m0 42v1m0 1v1m0 8v1m0 8v1m0 7v1m0 13v1m0 9v1m0 14v1m0 53v1M96.5 22v1m0 38v1m0 5v2m0 11v1m0 18v1m0 6v1m0 3v1m0 40v1m0 25v2m0 16v1m0 20v1m0 6v1m0 12v1m0 3v1m0 43v1m0 55v1m0 2v1m0 3v1m0 26v2m0 3v1m0 2v1m0 10v1m0 2v2M97.5 55v1m0 1v1m0 8v1m0 4v1m0 4v1m0 5v1m0 57v1m0 39v2m0 15v1m0 25v1m0 40v1m0 26v1m0 11v1m0 19v1m0 51v1m0 18v1M98.5 72v1m0 3v1m0 24v1m0 15v1m0 4v1m0 20v1m0 21v1m0 19v1m0 4v1m0 10v1m0 17v1m0 26v1m0 18v1m0 16v1m0 5v1m0 27v1m0 19v1m0 28v1m0 31v1m0 3v1M99.5 34v1m0 6v1m0 3v1m0 26v1m0 14v1m0 7v1m0 33v1m0 10v1m0 8v1m0 10v1m0 31v1m0 5v1m0 1v1m0 5v2m0 41v1m0 16v1m0 10v1m0 14v2m0 3v1m0 18v1m0 3v1m0 44v1m0 19v1m0 5v1M100.5 47v1m0 5v1m0 8v1m0 3v1m0 16v1m0 26v1m0 10v1m0 19v1m0 60v1m0 4v1m0 14v1m0 19v1m0 70v1m0 67v1m0 10v1m0 4v1M101.5 38v1m0 11v1m0 37v1m0 12v1m0 13v1m0 29v1m0 14v1m0 15v1m0 5v1m0 26v1m0 15v1m0 12v1m0 1v1m0 2v1m0 75v1m0 3v2m0 16v1m0 3v1m0 20v1m0 2v1M102.5 32v2m0 57v1m0 38v1m0 14v1m0 108v1m0 1v1m0 20v1m0 11v1m0 40v1m0 21v1m0 5v1m0 36v1M103.5 30v1m0 24v1m0 30v2m0 11v1m0 6v1m0 24v2m0 12v1m0 6v1m0 1v1m0 35v1m0 17v1m0 7v1m0 34v1m0 21v1m0 4v1m0 16v1m0 4v1m0 23v1m0 24v1m0 24v1m0 4v1m0 10v1M104.5 80v1m0 35v1m0 8v1m0 17v1m0 43v1m0 18v1m0 3v1m0 2v1m0 40v1m0 6v1m0 15v1m0 7v1m0 17v1m0 34v1m0 22v1m0 5v1M105.5 33v1m0 56v1m0 16v1m0 36v1m0 5v1m0 6v1m0 17v1m0 32v1m0 53v1m0 20v1m0 22v1m0 45v1M106.5 31v2m0 15v1m0 17v1m0 4v2m0 3v1m0 9v1m0 26v1m0 9v1m0 7v1m0 25v1m0 2v1m0 12v1m0 22v1m0 51v1m0 41v3m0 15v2m0 25v1m0 54v1M108.5 58v1m0 2v1m0 6v1m0 13v1m0 37v1m0 29v1m0 53v1m0 31v1m0 1v1m0 6v1m0 41v1m0 18v1m0 9v1m0 44v1m0 3v1M110.5 25v1m0 3v1m0 18v1m0 4v1m0 11v1m0 27v1m0 49v1m0 15v1m0 18v2m0 13v1m0 9v1m0 6v1m0 3v1m0 76v1m0 84v1m0 4v1m0 13v1m0 7v2M112.5 22v1m0 2v1m0 20v2m0 52v1m0 35v1m0 21v1m0 58v1m0 19v1m0 1v1m0 3v1m0 9v2m0 4v2m0 23v1m0 19v1m0 10v1m0 2v1m0 9v1m0 15v1m0 31v1m0 21v1M114.5 42v1m0 45v1m0 13v1m0 40v1m0 9v2m0 64v1m0 41v1m0 14v1m0 19v1m0 35v1m0 2v1m0 9v1m0 3v1M116.5 25v1m0 77v1m0 25v1m0 49v1m0 1v1m0 5v1m0 59v1m0 17v1m0 97v1m0 10v1m0 11v1m0 4v1M118.5 36v1m0 6v1m0 32v1m0 77v1m0 15v1m0 7v1m0 2v1m0 16v2m0 6v1m0 24v1m0 22v1m0 20v1m0 2v1m0 31v1m0 7v1m0 36v1m0 17v1m0 25v2M120.5 68v1m0 5v1m0 8v1m0 18v1m0 2v1m0 14v1m0 14v1m0 14v1m0 40v1m0 12v1m0 27v2m0 21v1m0 7v1m0 20v1m0 23v1m0 46v1m0 16v1M125.5 20v2m0 2v1m0 58v1m0 5v1m0 39v1m0 1v1m0 5v1m0 11v1m0 43v1m0 24v1m0 11v1m0 25v1m0 32v1m0 9v1m0 4v1m0 53v1m0 39v1m0 2v1M130.5 54v1m0 35v1m0 17v1m0 1v1m0 17v2m0 14v1m0 3v1m0 32v1m0 72v1m0 13v1m0 7v1m0 13v1m0 27v1m0 39v1m0 7v1m0 4v1m0 24v1M135.5 20v1m0 9v1m0 4v1m0 44v1m0 67v1m0 3v1m0 23v1m0 30v1m0 29v1m0 35v1m0 26v1m0 7v1m0 10v1m0 20v1m0 22v1m0 12v1m0 22v1M140.5 27v1m0 95v1m0 12v1m0 50v1m0 38v2m0 39v1m0 14v1m0 32v2m0 25v1m0 16v1m0 4v1m0 22v1M145.5 95v1m0 32v1m0 16v1m0 25v1m0 19v1m0 3v1m0 3v1m0 48v1m0 29v1m0 3v1m0 4v1m0 37v1m0 9v1m0 42v1m0 14v1M150.5 33v1m0 27v2m0 3v1m0 120v1m0 8v1m0 2v1m0 26v1m0 6v1m0 30v1m0 16v1"/><path stroke="#482475" d="M0.5 40v1m0 3v1m0 36v1m0 45v1m0 61v1m0 15v1m0 65v1m0 19v2m0 7v1m0 69v1m0 32v1M1.5 38v1m0 48v1m0 25v1m0 37v1m0 40v1m0 5v1m0 75v1m0 1v1m0 16v1m0 9v1m0 74v1m0 12v2m0 5v1M2.5 55v1m0 11v1m0 63v1m0 1v1m0 28v1m0 53v1m0 54v1m0 33v1m0 6v1m0 33v1m0 6v1m0 12v1m0 37v1M3.5 36v1m0 33v1m0 7v1m0 22v1m0 11v1m0 32v1m0 40v1m0 76v2m0 31v1m0 14v1m0 2v1m0 22v1m0 45v2m0 10v1M4.5 32v1m0 46v1m0 55v1m0 1v1m0 12v1m0 38v1m0 27v1m0 20v1m0 27v1m0 7v1m0 33v1m0 31v1m0 21v1M5.5 35v2m0 13v1m0 13v1m0 9v1m0 4v1m0 14v1m0 14v1m0 19v1m0 14v1m0 7v1m0 32v1m0 9v1m0 39v1m0 14v1m0 39v1m0 67v1m0 4v1m0 1v1m0 3v1M6.5 41v1m0 1v1m0 53v1m0 9v1m0 47v1m0 49v1m0 3v1m0 7v1m0 9v1m0 14v1m0 15v1m0 36v1m0 82v1m0 18v1M7.5 109v1m0 36v1m0 9v1m0 25v1m0 80v1m0 6v1m0 17v1m0 48v1m0 1v1m0 2v1m0 2v1m0 57v1M8.5 56v1m0 38v1m0 46v1m0 14v1m0 14v1m0 22v1m0 4v1m0 6v1m0 187v1M9.5 42v1m0 15v1m0 13v1m0 30v1m0 22v2m0 4v1m0 26v1m0 32v1m0 25v1m0 25v1m0 146v1m0 1v1M10.5 46v1m0 30v1m0 8v1m0 3v1m0 40v1m0 4v2m0 2v1m0 19v1m0 39v1m0 9v1m0 20v2m0 19v1m0 14v1m0 2v1m0 22v1m0 39v1m0 14v1M11.5 47v1m0 62v1m0 27v1m0 10v1m0 44v1m0 1v1m0 1v1m0 2v1m0 41v1m0 44v1m0 10v1m0 22v1m0 29v1m0 5v1m0 20v1m0 11v1m0 8v1M12.5 42v1m0 75v1m0 47v1m0 37v1m0 3v1m0 5v1m0 18v1m0 13v1m0 3v1m0 2v2m0 45v1m0 11v1m0 3v1m0 6v2m0 5v1m0 10v1m0 29v1m0 10v1m0 4v1m0 2v1M13.5 74v1m0 29v1m0 68v1m0 55v1m0 24v1m0 23v1m0 65v1m0 8v1m0 1v1m0 21v1m0 11v1m0 14v1M14.5 41v1m0 20v1m0 29v1m0 24v1m0 5v2m0 9v1m0 8v1m0 72v1m0 22v1m0 3v2m0 50v1m0 84v1M15.5 90v1m0 4v1m0 16v1m0 5v1m0 88v1m0 26v1m0 35v1m0 3v1m0 66v1M16.5 26v1m0 1v1m0 15v1m0 55v1m0 26v1m0 39v1m0 1v1m0 20v1m0 1v1m0 3v1m0 58v1m0 51v1m0 28v1m0 39v1m0 20v1M17.5 54v1m0 60v1m0 42v1m0 14v1m0 51v1m0 67v1m0 55v1m0 25v1M18.5 35v1m0 5v1m0 58v1m0 72v1m0 146v1m0 8v1m0 24v1m0 36v1M19.5 83v1m0 8v1m0 31v1m0 51v1m0 8v1m0 8v1m0 33v2m0 7v1m0 40v1m0 19v1m0 11v1m0 25v1M20.5 58v1m0 11v1m0 8v1m0 36v1m0 10v1m0 31v1m0 10v1m0 44v1m0 26v1m0 10v2m0 97v1m0 35v1M21.5 86v1m0 2v1m0 8v1m0 11v1m0 20v1m0 1v1m0 17v1m0 12v1m0 5v1m0 20v1m0 64v1m0 2v1m0 5v1m0 42v1m0 7v1m0 67v1m0 12v2M22.5 107v1m0 28v1m0 6v1m0 13v1m0 16v1m0 7v1m0 37v1m0 24v1m0 16v2m0 17v1m0 59v1m0 46v1M23.5 27v1m0 11v1m0 53v1m0 4v1m0 5v1m0 32v1m0 18v1m0 26v1m0 9v1m0 65v1m0 19v1m0 20v1m0 26v1m0 46v1m0 22v1M24.5 76v1m0 80v2m0 8v1m0 6v1m0 32v1m0 8v1m0 15v1m0 89v1m0 35v1m0 7v1m0 2v1m0 18v1M25.5 105v1m0 1v1m0 20v1m0 26v1m0 18v1m0 107v1m0 29v1m0 13v1m0 18v1m0 12v1m0 37v1M26.5 21v1m0 12v1m0 16v1m0 42v1m0 11v1m0 72v2m0 13v1m0 89v1m0 6v1m0 30v1m0 41v1m0 3v1m0 1v1M27.5 84v1m0 17v1m0 26v1m0 5v1m0 5v1m0 37v1m0 25v1m0 8v1m0 5v1m0 7v1m0 18v1m0 66v1m0 15v2m0 11v1M28.5 42v1m0 13v1m0 9v1m0 3v1m0 12v1m0 23v1m0 8v1m0 78v2m0 39v1m0 12v1m0 8v1m0 22v1m0 5v1m0 10v1m0 46v1m0 13v1M29.5 38v1m0 18v1m0 36v1m0 17v1m0 8v1m0 14v2m0 5v1m0 2v1m0 14v1m0 9v1m0 133v1m0 1v1m0 6v1M30.5 52v1m0 27v1m0 10v1m0 9v1m0 42v1m0 14v1m0 12v1m0 37v1m0 43v1m0 2v1m0 15v1m0 37v2m0 13v1m0 37v1m0 29v1m0 7v1M31.5 36v1m0 1v1m0 3v1m0 19v1m0 24v1m0 35v1m0 12v1m0 23v1m0 4v1m0 14v1m0 28v1m0 27v2m0 2v1m0 57v1m0 76v1m0 1v1m0 14v1M32.5 114v1m0 22v1m0 31v1m0 65v1m0 40v1m0 36v1m0 7v1m0 71v1m0 2v1M33.5 58v1m0 12v1m0 46v1m0 5v1m0 48v1m0 5v1m0 33v1m0 13v1m0 38v1m0 34v1m0 21v2m0 63v1m0 15v1M34.5 58v1m0 5v1m0 4v1m0 5v1m0 21v1m0 43v1m0 28v1m0 85v1m0 2v1m0 62v1m0 42v1m0 27v1M35.5 29v1m0 23v1m0 1v1m0 21v1m0 54v1m0 67v1m0 73v1m0 7v1m0 12v1m0 3v1m0 25v2m0 6v1m0 1v2m0 5v1m0 45v1M36.5 94v1m0 27v1m0 4v1m0 58v1m0 20v1m0 2v1m0 17v1m0 4v1m0 19v1m0 8v2m0 36v1m0 10v1m0 28v1m0 35v1m0 22v2M37.5 58v1m0 20v1m0 39v1m0 5v1m0 26v1m0 5v1m0 4v1m0 3v1m0 42v1m0 1v1m0 9v1m0 8v1m0 15v1m0 44v1m0 16v1m0 15v1m0 27v1m0 1v1m0 32v1m0 14v2M38.5 61v1m0 10v1m0 50v2m0 22v1m0 14v1m0 29v1m0 1v1m0 59v1m0 36v1m0 36v1m0 63v1M39.5 46v1m0 26v1m0 108v1m0 27v1m0 60v1m0 65v2m0 38v1m0 4v1m0 11v1M40.5 46v1m0 23v1m0 53v1m0 153v1m0 42v1m0 18v1m0 43v1m0 1v1m0 14v1M41.5 33v1m0 10v1m0 2v1m0 24v1m0 67v1m0 45v1m0 68v1m0 2v1m0 4v1m0 11v1m0 34v1m0 56v1m0 9v1m0 10v1m0 12v1M42.5 36v1m0 24v1m0 24v1m0 3v1m0 11v1m0 14v1m0 5v2m0 27v1m0 34v1m0 49v1m0 30v1m0 5v1m0 11v1m0 12v1m0 19v1m0 4v1m0 37v2M43.5 49v1m0 19v1m0 20v1m0 18v1m0 4v1m0 29v1m0 8v1m0 68v1m0 3v2m0 53v1m0 4v2m0 13v1m0 11v1m0 5v1m0 1v1M44.5 100v1m0 17v2m0 4v1m0 12v1m0 26v1m0 107v1m0 8v1m0 33v1m0 5v2M45.5 80v1m0 27v1m0 2v1m0 2v1m0 2v1m0 25v1m0 13v1m0 7v2m0 2v1m0 20v1m0 34v1m0 4v1m0 2v1m0 90v1m0 4v1m0 9v1m0 55v1m0 3v1M46.5 68v1m0 7v1m0 65v1m0 25v1m0 20v1m0 20v1m0 4v1m0 6v1m0 19v1m0 68v1m0 32v1m0 8v1m0 7v1m0 13v1m0 24v1M47.5 54v1m0 4v1m0 3v1m0 11v1m0 7v1m0 39v2m0 35v1m0 16v1m0 39v1m0 3v1m0 14v1m0 1v1m0 24v1m0 74v1m0 12v1m0 17v1m0 7v1M48.5 101v1m0 2v1m0 7v1m0 2v1m0 1v1m0 30v2m0 21v1m0 33v1m0 99v1m0 20v1m0 55v1m0 13v1m0 1v1M49.5 31v2m0 79v1m0 62v1m0 14v1m0 8v1m0 34v1m0 3v1m0 14v1m0 26v1m0 22v1m0 23v1m0 9v1m0 4v1m0 13v1m0 7v1m0 34v1M50.5 28v1m0 23v1m0 10v1m0 3v1m0 9v1m0 9v2m0 4v1m0 63v1m0 2v1m0 31v1m0 9v1m0 5v1m0 48v3m0 22v1m0 17v1m0 24v1m0 8v1m0 5v2m0 19v1m0 10v1m0 5v1m0 22v1M51.5 40v1m0 22v1m0 11v1m0 9v1m0 7v1m0 57v1m0 119v1m0 14v1m0 18v1m0 40v1m0 33v1m0 6v1M52.5 74v2m0 39v1m0 2v1m0 11v1m0 7v1m0 17v1m0 2v1m0 4v1m0 6v1m0 17v1m0 3v1m0 10v1m0 40v1m0 36v1m0 31v1m0 6v1m0 63v1M53.5 17v1m0 23v1m0 15v1m0 16v1m0 27v1m0 8v1m0 12v1m0 32v1m0 67v1m0 19v1m0 3v1m0 12v1m0 19v1m0 12v1m0 50v1m0 17v1m0 17v1m0 15v1M54.5 45v1m0 16v1m0 7v1m0 17v1m0 35v1m0 28v1m0 6v1m0 35v1m0 7v1m0 24v1m0 7v1m0 37v1m0 2v2m0 18v1m0 29v1m0 4v1m0 13v1m0 13v1m0 11v1m0 18v1M55.5 38v1m0 11v1m0 36v1m0 6v1m0 8v1m0 28v2m0 12v1m0 2v2m0 23v1m0 28v1m0 22v1m0 98v1M56.5 118v1m0 24v1m0 19v2m0 11v1m0 2v1m0 8v1m0 24v1m0 69v1m0 17v1m0 7v1m0 8v1m0 25v1m0 32v1M57.5 30v1m0 1v1m0 7v1m0 40v1m0 26v1m0 60v1m0 4v1m0 15v1m0 9v1m0 2v1m0 6v1m0 74v1m0 34v1m0 15v1m0 14v1m0 38v1M58.5 31v1m0 8v1m0 6v1m0 15v1m0 18v1m0 8v1m0 26v1m0 6v1m0 7v1m0 23v1m0 3v1m0 74v1m0 6v1m0 7v1m0 51v1m0 49v1m0 24v1m0 8v1M59.5 33v1m0 2v1m0 72v1m0 72v1m0 5v2m0 40v1m0 41v2m0 28v1m0 38v1m0 10v1m0 11v1M60.5 35v1m0 95v1m0 37v1m0 33v1m0 26v1m0 28v1m0 20v1m0 39v1m0 2v1m0 17v1m0 2v1m0 3v1m0 4v1m0 20v1m0 5v1M61.5 88v2m0 55v1m0 21v1m0 34v1m0 7v1m0 17v1m0 15v1m0 13v1m0 9v1m0 23v1m0 32v1m0 21v1m0 29v1m0 22v1M62.5 65v1m0 24v1m0 28v1m0 72v1m0 3v1m0 41v1m0 68v1m0 41v1M63.5 28v1m0 1v1m0 56v1m0 12v1m0 6v1m0 23v1m0 29v2m0 8v1m0 1v1m0 11v1m0 4v1m0 43v1m0 25v1m0 30v1m0 70v1m0 30v1M64.5 149v1m0 89v1m0 22v1m0 5v1m0 22v1m0 10v2m0 22v1m0 13v1m0 10v1m0 4v1M65.5 46v1m0 13v1m0 61v1m0 18v1m0 16v1m0 35v1m0 30v2m0 130v1m0 14v1m0 5v1M66.5 111v1m0 51v1m0 1v1m0 69v1m0 15v1m0 5v1m0 20v1m0 10v1m0 16v2m0 81v1M67.5 39v1m0 11v1m0 11v1m0 17v1m0 1v1m0 30v1m0 5v1m0 76v1m0 5v1m0 8v1m0 3v1m0 34v1m0 69v1m0 45v1m0 35v1M68.5 41v1m0 56v3m0 8v1m0 78v1m0 11v1m0 18v2m0 19v1m0 48v1m0 35v1m0 2v1m0 22v1m0 8v1m0 6v2m0 15v1m0 1v1m0 2v1m0 4v1m0 1v1M69.5 29v1m0 96v1m0 19v1m0 8v1m0 6v1m0 22v1m0 1v1m0 7v1m0 65v1m0 10v1m0 1v1m0 3v1m0 8v1m0 22v1m0 3v1m0 8v1m0 19v1m0 47v1m0 2v1M70.5 40v1m0 9v2m0 17v1m0 15v1m0 17v1m0 34v1m0 4v1m0 62v1m0 10v1m0 2v1m0 43v1m0 65v1m0 22v1m0 7v1m0 23v1m0 9v1m0 2v1M71.5 17v1m0 88v1m0 38v1m0 1v1m0 18v1m0 1v1m0 27v1m0 7v1m0 52v1m0 38v1m0 59v1m0 47v1M72.5 29v1m0 16v1m0 4v1m0 64v1m0 3v1m0 12v1m0 86v1m0 3v1m0 66v1m0 58v1M73.5 38v1m0 20v1m0 11v1m0 4v1m0 29v1m0 22v1m0 7v1m0 4v3m0 14v1m0 15v1m0 23v1m0 74v1m0 34v1m0 37v1m0 29v1M74.5 34v1m0 22v1m0 14v1m0 35v1m0 35v1m0 8v1m0 4v1m0 47v3m0 23v1m0 33v2m0 6v1m0 8v1m0 1v2m0 64v1M75.5 33v1m0 15v1m0 102v1m0 17v1m0 100v1m0 4v1m0 7v1m0 42v1m0 17v1m0 11v1m0 43v1M76.5 54v1m0 4v1m0 28v1m0 8v1m0 15v1m0 3v1m0 11v2m0 6v1m0 21v1m0 18v1m0 5v1m0 27v1m0 12v1m0 24v1m0 20v1m0 25v1m0 42v1m0 2v1m0 4v1m0 1v1m0 16v1m0 14v1m0 16v1M77.5 55v1m0 9v1m0 58v1m0 10v1m0 9v1m0 5v1m0 22v1m0 2v1m0 28v1m0 35v1m0 17v1m0 15v1M78.5 39v1m0 47v1m0 3v1m0 1v1m0 24v1m0 35v1m0 6v1m0 9v1m0 30v1m0 136v1m0 34v1m0 1v1M79.5 23v1m0 24v1m0 10v1m0 18v1m0 10v1m0 46v1m0 98v1m0 38v1m0 74v2m0 18v1m0 23v1M80.5 23v1m0 16v1m0 12v1m0 30v1m0 28v1m0 25v1m0 2v1m0 1v1m0 57v1m0 44v1m0 83v1m0 27v1M81.5 36v1m0 1v1m0 21v1m0 19v1m0 2v1m0 15v1m0 16v1m0 82v1m0 12v1m0 16v1m0 43v1m0 5v1m0 13v1m0 87v1M82.5 30v1m0 2v1m0 3v1m0 14v2m0 45v1m0 7v1m0 13v1m0 46v1m0 18v1m0 19v2m0 22v1m0 8v1m0 4v1m0 15v1m0 10v1m0 23v1m0 7v1m0 10v1m0 45v1m0 7v1M83.5 63v1m0 76v1m0 68v1m0 10v1m0 19v1m0 61v1m0 5v1m0 31v1m0 30v1m0 23v2M84.5 34v1m0 43v1m0 50v1m0 13v1m0 5v1m0 26v1m0 44v1m0 26v1m0 43v1m0 48v1m0 32v1M85.5 41v1m0 7v1m0 4v1m0 61v1m0 20v1m0 7v1m0 7v1m0 7v1m0 19v1m0 11v1m0 2v1m0 17v1m0 21v1m0 74v1m0 10v1m0 39v1m0 2v1M86.5 33v1m0 56v1m0 19v1m0 26v1m0 65v1m0 14v1m0 2v1m0 16v1m0 18v1m0 47v1m0 48v1m0 10v1M87.5 35v1m0 9v1m0 101v1m0 14v1m0 20v1m0 13v1m0 60v1m0 6v1m0 35v1m0 19v1m0 43v1m0 9v1m0 10v1M88.5 85v1m0 18v1m0 3v1m0 4v1m0 10v1m0 14v1m0 11v1m0 2v1m0 84v1m0 22v1m0 39v1m0 21v1m0 4v1m0 15v1m0 31v1m0 5v2m0 2v1m0 14v1M89.5 34v1m0 39v1m0 20v1m0 12v1m0 10v1m0 7v1m0 9v1m0 1v1m0 15v1m0 41v1m0 33v1m0 2v1m0 1v1m0 20v1m0 25v1m0 3v1m0 46v1M90.5 41v1m0 5v1m0 51v1m0 74v1m0 33v1m0 7v1m0 36v1m0 2v1m0 5v1m0 24v1m0 83v1m0 3v1m0 18v1M91.5 40v1m0 74v1m0 67v1m0 26v1m0 69v1m0 20v1m0 27v1m0 30v1m0 9v1M92.5 36v1m0 141v1m0 52v1m0 5v1m0 3v1m0 32v1m0 1v1m0 3v1m0 46v1m0 35v1m0 3v1M93.5 35v1m0 3v1m0 3v1m0 12v1m0 65v1m0 42v2m0 59v1m0 38v1m0 8v1m0 7v1m0 6v1m0 1v1m0 15v2m0 11v1m0 3v2m0 18v1m0 28v1M94.5 29v1m0 4v1m0 24v1m0 19v1m0 2v1m0 32v1m0 29v1m0 36v1m0 49v1m0 11v1m0 15v1m0 19v1m0 57v1m0 14v1m0 37v1M95.5 66v1m0 21v1m0 54v1m0 1v1m0 5v2m0 30v1m0 26v1m0 14v1m0 41v1m0 41v1m0 43v1m0 11v2M96.5 41v1m0 12v1m0 19v1m0 3v1m0 4v1m0 58v1m0 3v1m0 8v1m0 4v1m0 57v1m0 24v1m0 25v1m0 31v1m0 5v1m0 7v1m0 12v1m0 17v1m0 16v1m0 40v1M97.5 113v1m0 15v1m0 37v1m0 8v1m0 22v1m0 53v1m0 5v1m0 5v1m0 50v2m0 6v1m0 37v1m0 15v1M98.5 54v1m0 38v1m0 8v1m0 1v1m0 3v2m0 103v1m0 8v1m0 24v1m0 29v1m0 16v1m0 26v1m0 40v1M99.5 31v1m0 15v1m0 38v1m0 7v1m0 18v1m0 79v1m0 57v1m0 7v1m0 70v1m0 67v1M100.5 65v1m0 42v2m0 12v1m0 52v1m0 2v1m0 16v1m0 19v1m0 139v1M101.5 30v1m0 1v1m0 100v1m0 59v1m0 23v1m0 59v1m0 5v1m0 10v1m0 5v1m0 19v1m0 19v1m0 2v1m0 21v1m0 15v1M102.5 39v1m0 16v1m0 54v1m0 1v1m0 22v1m0 2v1m0 16v1m0 57v1m0 20v1m0 21v1m0 6v1m0 89v1m0 14v1m0 9v1M103.5 35v1m0 36v1m0 36v1m0 3v1m0 26v1m0 8v1m0 30v1m0 11v1m0 60v1m0 9v1m0 6v1m0 37v4m0 20v1m0 10v1m0 59v1M104.5 82v1m0 6v1m0 12v1m0 35v1m0 11v1m0 49v1m0 8v1m0 19v1m0 28v1m0 104v1m0 21v1M105.5 38v1m0 16v1m0 1v1m0 31v1m0 8v1m0 9v1m0 23v1m0 10v1m0 10v1m0 7v1m0 139v1m0 14v1m0 33v1m0 11v1m0 5v1m0 14v2m0 18v1M106.5 24v1m0 22v1m0 46v1m0 33v1m0 8v1m0 24v1m0 131v1m0 12v1M108.5 28v1m0 28v1m0 23v1m0 3v1m0 29v1m0 9v1m0 1v1m0 54v1m0 5v1m0 5v1m0 28v1m0 23v1m0 32v1m0 21v1m0 90v1m0 1v1M110.5 28v1m0 28v1m0 20v1m0 6v1m0 106v1m0 26v1m0 21v1m0 23v2m0 21v1m0 1v1m0 28v1m0 45v1m0 24v1m0 5v1m0 5v1M112.5 38v1m0 21v1m0 77v1m0 22v1m0 1v1m0 48v1m0 66v1m0 19v1m0 20v1m0 4v1m0 38v1M114.5 28v2m0 46v1m0 5v1m0 37v1m0 58v1m0 5v1m0 78v1m0 51v1m0 11v1m0 35v1M116.5 66v1m0 14v1m0 11v1m0 30v1m0 43v1m0 3v1m0 26v1m0 21v1m0 31v1m0 76v1M118.5 23v1m0 70v1m0 11v1m0 40v1m0 39v1m0 16v1m0 5v1m0 76v1m0 69v1M120.5 24v1m0 46v1m0 9v1m0 29v1m0 3v1m0 2v1m0 23v1m0 1v1m0 2v1m0 18v1m0 20v1m0 25v2m0 56v1m0 4v1m0 46v2m0 58v1M125.5 23v1m0 70v1m0 10v1m0 14v1m0 20v1m0 5v1m0 3v1m0 10v1m0 6v1m0 11v1m0 17v1m0 111v1m0 38v1m0 1v1M130.5 23v1m0 6v1m0 22v1m0 27v1m0 15v1m0 23v1m0 34v1m0 25v1m0 32v1m0 6v1m0 7v1m0 14v1m0 53v1m0 14v1m0 13v1m0 27v2m0 39v1M135.5 24v1m0 3v1m0 2v1m0 1v1m0 52v1m0 8v1m0 8v1m0 15v1m0 54v1m0 12v1m0 4v1m0 44v1m0 1v1m0 30v1m0 9v1m0 7v1m0 21v1m0 11v1m0 14v1M140.5 45v1m0 57v1m0 22v1m0 5v1m0 47v1m0 39v1m0 12v1m0 10v1m0 3v1m0 17v1m0 5v2m0 30v1m0 30v1m0 10v1m0 9v1m0 1v1m0 21v1m0 14v1M145.5 31v1m0 5v1m0 109v1m0 30v1m0 39v1m0 74v1m0 13v1m0 72v1m0 1v1M150.5 22v1m0 5v1m0 2v2m0 1v1m0 52v1m0 12v1m0 7v1m0 15v1m0 46v1m0 23v1m0 15v1m0 27v1m0 7v1m0 7v1m0 12v1m0 92v1m0 28v1"/><path stroke="#482979" d="M0.5 57v1m0 43v1m0 11v1m0 36v1m0 2v1m0 19v1m0 23v1m0 43v2m0 12v1m0 25v1m0 28v1m0 79v1M1.5 80v1m0 115v1m0 61v1m0 35v1m0 17v1m0 4v1m0 55v1M2.5 72v1m0 3v1m0 57v1m0 7v1m0 11v1m0 1v1m0 7v1m0 63v1m0 2v1m0 5v1m0 26v1m0 50v1m0 3v1m0 9v1m0 62v1M3.5 49v1m0 54v1m0 48v2m0 8v1m0 47v1m0 72v1m0 11v1m0 28v1m0 57v1M4.5 75v1m0 50v1m0 85v1m0 50v1m0 21v1m0 8v1m0 47v1m0 2v1m0 34v1M5.5 34v1m0 5v1m0 39v1m0 43v1m0 22v1m0 10v1m0 107v1m0 2v1m0 55v1m0 17v1m0 7v1M6.5 35v1m0 121v1m0 20v1m0 84v1m0 32v1m0 18v1m0 12v1m0 7v1m0 7v1m0 9v1m0 3v1m0 29v1m0 11v1M7.5 43v1m0 62v1m0 24v1m0 11v1m0 141v1m0 7v1m0 47v1m0 5v1m0 42v1m0 6v1m0 1v1M8.5 31v1m0 32v1m0 2v1m0 40v1m0 85v1m0 58v1m0 42v1m0 3v1m0 9v1M9.5 77v1m0 11v1m0 38v1m0 40v1m0 3v1m0 3v1m0 38v1m0 12v1m0 10v1m0 5v1m0 139v1M10.5 43v1m0 10v1m0 28v1m0 7v1m0 57v1m0 41v1m0 26v1m0 49v1m0 66v1m0 33v1m0 19v1M11.5 59v1m0 49v1m0 36v1m0 16v1m0 109v1m0 31v1m0 1v1m0 25v1M12.5 31v1m0 27v1m0 45v2m0 40v1m0 70v1m0 5v1m0 118v1m0 33v1m0 17v1M13.5 92v1m0 35v1m0 15v1m0 63v1m0 12v1m0 94v1m0 2v1m0 21v1m0 48v1M14.5 71v1m0 18v1m0 8v1m0 13v1m0 19v1m0 31v1m0 22v1m0 24v1m0 39v1m0 58v1m0 28v1m0 20v1m0 12v1m0 8v1M15.5 25v1m0 67v1m0 10v2m0 19v1m0 85v1m0 4v1m0 14v1m0 15v1m0 21v1m0 114v1M16.5 56v1m0 4v1m0 39v1m0 53v1m0 14v1m0 6v1m0 15v1m0 22v1m0 66v1m0 54v1m0 38v1m0 4v1M17.5 55v1m0 40v1m0 26v2m0 44v1m0 16v1m0 27v1m0 58v1m0 31v1m0 2v1m0 11v1m0 21v1M18.5 51v1m0 3v1m0 49v1m0 51v1m0 91v1m0 111v1m0 21v1M19.5 48v1m0 8v1m0 13v1m0 5v1m0 67v1m0 36v1m0 22v1m0 63v1m0 56v1m0 34v1m0 4v1m0 27v1M20.5 31v1m0 31v1m0 14v1m0 39v1m0 23v1m0 9v1m0 66v1m0 9v1m0 113v1m0 23v1m0 12v2m0 4v1m0 9v1M21.5 21v1m0 28v1m0 12v1m0 11v1m0 56v1m0 5v1m0 74v1m0 61v1m0 12v1m0 15v1m0 2v1m0 14v1m0 50v1M22.5 40v1m0 34v1m0 57v1m0 8v1m0 1v1m0 9v1m0 4v1m0 38v1m0 19v1m0 55v1m0 65v1m0 4v1M23.5 40v1m0 11v1m0 11v1m0 119v1m0 32v1m0 49v1m0 14v1m0 46v1m0 41v1M24.5 64v1m0 13v1m0 19v1m0 105v1m0 17v1m0 24v1m0 12v1m0 4v1M25.5 40v1m0 48v1m0 18v1m0 27v1m0 26v1m0 11v2m0 29v1m0 64v1m0 21v1m0 12v1m0 18v1m0 4v1M26.5 38v1m0 1v1m0 20v1m0 35v1m0 68v1m0 6v1m0 4v1m0 2v1m0 14v1m0 34v1m0 60v1m0 27v1m0 2v1M27.5 40v1m0 23v1m0 65v1m0 1v1m0 11v1m0 70v1m0 47v1m0 72v1m0 10v1m0 29v1M28.5 32v1m0 24v2m0 18v1m0 66v1m0 14v1m0 44v1m0 33v1m0 18v1m0 32v1m0 4v2m0 63v1m0 37v1M29.5 30v1m0 2v1m0 70v1m0 64v1m0 134v1m0 25v1m0 65v1M30.5 70v1m0 42v1m0 61v1m0 23v1m0 63v1m0 54v1m0 20v1m0 19v1m0 11v1m0 8v1m0 17v1M31.5 33v1m0 7v1m0 140v1m0 204v1m0 4v1m0 6v1M32.5 32v1m0 53v1m0 39v1m0 28v1m0 1v1m0 28v1m0 43v1m0 34v1m0 12v1m0 7v1m0 27v1m0 18v1m0 2v1m0 4v1m0 50v1m0 8v1M33.5 37v1m0 13v1m0 25v1m0 9v1m0 5v1m0 17v1m0 32v1m0 3v1m0 103v1m0 16v1m0 6v1m0 42v1m0 36v1m0 35v1m0 8v1M34.5 91v1m0 2v1m0 20v1m0 7v1m0 27v1m0 45v1m0 22v1m0 54v1m0 2v1m0 9v1m0 32v1m0 5v1m0 5v1m0 14v1m0 19v1m0 7v2m0 23v1M35.5 32v1m0 10v1m0 37v1m0 37v1m0 85v1m0 72v1m0 44v1M36.5 69v1m0 54v1m0 32v1m0 60v1m0 62v1m0 9v1m0 1v1m0 38v1m0 32v1m0 2v1M37.5 84v1m0 27v1m0 66v1m0 149v1m0 3v1M38.5 74v2m0 10v1m0 27v1m0 31v1m0 1v1m0 61v2m0 54v1m0 38v1m0 36v1m0 37v1M39.5 37v1m0 15v2m0 32v1m0 17v1m0 32v1m0 57v1m0 2v1m0 60v1m0 65v1m0 54v1M40.5 69v1m0 18v1m0 20v1m0 1v1m0 72v1m0 15v1m0 65v1m0 44v1m0 1v1m0 35v1M41.5 31v1m0 60v1m0 40v1m0 50v2m0 2v2m0 30v1m0 39v1m0 48v1m0 3v1m0 30v1m0 46v1m0 6v2M42.5 29v1m0 3v1m0 61v1m0 12v1m0 65v1m0 14v1m0 154v1m0 25v1m0 26v1M43.5 51v2m0 15v1m0 28v1m0 21v1m0 34v1m0 58v1m0 46v1m0 19v1m0 44v1M44.5 58v1m0 35v1m0 39v1m0 3v1m0 60v1m0 11v1m0 28v1m0 11v1m0 10v1m0 22v1m0 3v1m0 12v1m0 1v1m0 86v1M45.5 61v1m0 21v1m0 52v1m0 8v1m0 115v1m0 3v1m0 17v1M46.5 33v1m0 72v1m0 13v1m0 2v1m0 105v1m0 9v1m0 4v1m0 41v1m0 8v1m0 4v1m0 55v1m0 9v1M47.5 28v1m0 49v1m0 8v1m0 5v1m0 91v1m0 46v1m0 8v1m0 4v1m0 23v1m0 5v1m0 1v1m0 4v1m0 51v1m0 11v1m0 14v1m0 8v1m0 13v1M48.5 70v1m0 25v1m0 28v1m0 25v1m0 7v1m0 10v1m0 3v1m0 41v1m0 94v1m0 41v2M49.5 86v1m0 8v1m0 78v1m0 114v1m0 39v2m0 35v1m0 17v1m0 15v1M50.5 39v1m0 72v1m0 16v1m0 10v1m0 9v1m0 77v1m0 12v1m0 33v1m0 2v1m0 12v1m0 34v1m0 36v1m0 33v1M51.5 28v1m0 14v1m0 22v1m0 29v1m0 31v2m0 101v1m0 26v1m0 73v1m0 24v1m0 41v1M52.5 139v1m0 8v1m0 8v1m0 50v1m0 34v2m0 1v1m0 15v1m0 5v1m0 107v1M53.5 23v1m0 69v1m0 9v1m0 27v1m0 82v1m0 16v1m0 85v1m0 4v1m0 26v1m0 4v1M54.5 135v1m0 12v1m0 8v1m0 12v2m0 40v1m0 4v2m0 116v1M55.5 114v1m0 7v1m0 11v1m0 10v1m0 49v1m0 4v1m0 1v1m0 25v1m0 10v1m0 46v1m0 65v1m0 29v1M56.5 32v1m0 20v1m0 72v1m0 2v1m0 51v1m0 34v1m0 116v1m0 27v1m0 8v1M57.5 85v1m0 10v1m0 3v1m0 12v2m0 13v1m0 98v1m0 5v1m0 46v1m0 10v1m0 1v1m0 8v1m0 29v1m0 34v1m0 27v1M58.5 115v1m0 8v1m0 18v1m0 12v1m0 16v1m0 48v1m0 6v1m0 2v1m0 2v1m0 43v1m0 70v1m0 8v1m0 4v1m0 29v1M59.5 38v1m0 23v1m0 88v1m0 8v1m0 7v1m0 12v1m0 111v1m0 28v1M60.5 53v2m0 34v1m0 18v1m0 40v1m0 44v2m0 64v1m0 45v1m0 76v1M61.5 48v1m0 1v1m0 86v1m0 54v1m0 55v1m0 1v1m0 21v1m0 12v2m0 49v1m0 51v1m0 13v1M62.5 40v1m0 15v1m0 17v1m0 73v1m0 30v1m0 69v1m0 68v1m0 65v1m0 2v1M63.5 32v1m0 22v1m0 26v1m0 37v1m0 32v1m0 30v1m0 1v1m0 55v1m0 91v1m0 28v1m0 33v1M64.5 32v1m0 9v1m0 58v1m0 29v1m0 13v1m0 29v1m0 61v1m0 32v1m0 7v1m0 33v1m0 77v1M65.5 31v1m0 20v1m0 34v1m0 33v1m0 33v1m0 65v2m0 6v1m0 27v1m0 86v1m0 22v1M66.5 51v1m0 49v1m0 10v1m0 54v1m0 26v1m0 81v1m0 25v1m0 26v1m0 3v1m0 25v1m0 33v1M67.5 40v1m0 47v2m0 9v1m0 3v1m0 86v1m0 5v1m0 72v1m0 20v1m0 7v1m0 3v1m0 76v1m0 8v1M68.5 55v1m0 11v1m0 29v1m0 17v1m0 15v1m0 22v1m0 42v1m0 10v1m0 28v1m0 14v1m0 129v1m0 2v1M69.5 47v1m0 32v1m0 23v1m0 18v1m0 49v1m0 4v1m0 10v1m0 76v1m0 25v1m0 38v1m0 34v1m0 15v1m0 1v1M70.5 35v1m0 34v1m0 27v1m0 65v2m0 27v1m0 25v1m0 40v1m0 62v1m0 22v1m0 49v1M71.5 30v1m0 3v1m0 48v1m0 67v1m0 31v1m0 13v1m0 84v1m0 6v1m0 23v1M72.5 33v1m0 18v1m0 102v1m0 6v1m0 86v1m0 16v1m0 22v1m0 15v1m0 34v1m0 55v1M73.5 39v1m0 8v1m0 38v1m0 15v1m0 8v1m0 3v1m0 37v1m0 18v2m0 67v1m0 41v1m0 43v1m0 45v1m0 10v1M74.5 30v1m0 23v1m0 40v1m0 24v1m0 13v1m0 51v2m0 12v1m0 22v1m0 12v1m0 35v1m0 42v1m0 7v1m0 35v1m0 12v1M75.5 34v1m0 1v1m0 23v2m0 35v1m0 52v1m0 2v1m0 68v1m0 10v1m0 22v1m0 12v1m0 48v1m0 28v1m0 31v1M76.5 52v1m0 11v1m0 66v1m0 17v1m0 47v1m0 12v1m0 29v1m0 67v1m0 33v1m0 13v1m0 12v1m0 19v1M77.5 105v1m0 7v1m0 117v2m0 20v1m0 63v1m0 40v1m0 5v1m0 34v1M78.5 38v1m0 10v1m0 14v1m0 66v1m0 7v1m0 40v2m0 18v1m0 118v1m0 81v1M79.5 25v1m0 43v1m0 115v1m0 4v1m0 32v1m0 29v1m0 18v1m0 22v1m0 33v1m0 3v1m0 13v1m0 24v1m0 29v2M80.5 64v1m0 12v1m0 22v1m0 20v1m0 45v1m0 2v1m0 128v1m0 69v1m0 18v1m0 11v1M81.5 56v1m0 8v1m0 34v1m0 32v1m0 47v1m0 14v1m0 83v1m0 22v1m0 23v1m0 21v1M82.5 31v1m0 23v1m0 15v1m0 10v1m0 25v1m0 31v1m0 9v1m0 26v1m0 1v1m0 15v1m0 74v1m0 18v1m0 22v1m0 79v1M83.5 32v1m0 2v1m0 42v1m0 8v1m0 26v1m0 71v1m0 112v1m0 9v1m0 10v1m0 24v2m0 37v1M84.5 91v1m0 15v1m0 108v1m0 17v1m0 86v1m0 20v1m0 26v1m0 27v1M85.5 68v1m0 36v1m0 1v1m0 49v1m0 82v1m0 29v1m0 80v1m0 11v1m0 22v1M86.5 95v1m0 7v1m0 50v1m0 38v1m0 102v1m0 24v3m0 1v1m0 9v1m0 3v1m0 58v1M87.5 151v1m0 5v1m0 56v1m0 51v1m0 55v1m0 22v1m0 15v1M88.5 31v1m0 24v1m0 37v1m0 8v1m0 13v1m0 122v1m0 3v1m0 46v1m0 41v1M89.5 55v1m0 87v1m0 20v1m0 54v2m0 9v1m0 4v1m0 22v1m0 2v1m0 13v1m0 13v1m0 89v2M90.5 17v1m0 5v1m0 46v1m0 31v1m0 16v1m0 4v1m0 12v1m0 2v1m0 1v1m0 16v1m0 82v1m0 2v1m0 25v1m0 8v2m0 3v1m0 46v1m0 2v1m0 23v1m0 30v1M91.5 49v1m0 24v1m0 3v2m0 4v1m0 22v2m0 5v1m0 18v1m0 38v1m0 13v1m0 67v1m0 10v1m0 5v1m0 1v2m0 8v1m0 6v1m0 34v1m0 4v1m0 8v1M92.5 34v1m0 27v1m0 5v1m0 3v1m0 25v1m0 20v1m0 36v1m0 19v1m0 2v1m0 41v1m0 33v1m0 19v1m0 24v1m0 14v1m0 39v1m0 38v1m0 3v1m0 2v1M93.5 95v1m0 4v1m0 48v1m0 11v1m0 2v1m0 3v1m0 4v1m0 25v1m0 37v1m0 21v1m0 11v1m0 65v1m0 4v1m0 14v1m0 38v1M94.5 121v1m0 10v1m0 57v1m0 9v1m0 114v1m0 59v1m0 18v1M95.5 56v1m0 43v1m0 13v1m0 10v1m0 34v1m0 40v1m0 19v1m0 21v1m0 49v1m0 13v1m0 74v1M96.5 46v1m0 70v1m0 7v1m0 49v1m0 21v1m0 79v1m0 12v1m0 82v1m0 28v1M97.5 38v1m0 25v1m0 52v1m0 10v1m0 71v1m0 6v1m0 33v1m0 3v1m0 41v1m0 19v1m0 83v1M98.5 47v1m0 27v1m0 48v1m0 30v1m0 2v1m0 57v1m0 57v1m0 6v1m0 31v1m0 65v1M99.5 40v1m0 3v1m0 11v1m0 62v1m0 39v1m0 8v1m0 42v1m0 5v1m0 43v1m0 26v1m0 24v1m0 21v1m0 33v1m0 20v1M100.5 67v1m0 62v1m0 50v1m0 8v1m0 10v1m0 7v1m0 33v1m0 5v1m0 56v1m0 19v1m0 1v2m0 5v1M101.5 26v1m0 2v1m0 64v1m0 18v1m0 106v1m0 53v1m0 29v1m0 46v1m0 19v1m0 15v1m0 1v1M102.5 57v1m0 34v1m0 13v1m0 22v1m0 36v1m0 21v1m0 4v2m0 14v1m0 19v1M103.5 59v1m0 2v1m0 13v1m0 7v1m0 3v1m0 28v1m0 30v1m0 44v1m0 37v1m0 55v1m0 97v1m0 7v1M104.5 84v1m0 34v1m0 2v1m0 78v1m0 26v1m0 11v1m0 3v1m0 22v1m0 25v1m0 50v1m0 10v1m0 26v1M105.5 30v1m0 11v1m0 3v1m0 19v1m0 49v1m0 13v2m0 63v1M106.5 21v1m0 120v1m0 76v1m0 2v1m0 83v1m0 34v1m0 25v1m0 10v1M108.5 29v1m0 7v1m0 103v1m0 7v1m0 45v1m0 58v1m0 31v1m0 72v1m0 4v1m0 12v1m0 5v1M110.5 51v1m0 10v1m0 23v1m0 29v1m0 11v1m0 29v1m0 35v1m0 69v1m0 63v1m0 10v1m0 29v1M112.5 31v1m0 11v1m0 53v1m0 28v1m0 4v1m0 12v1m0 7v1m0 7v1m0 37v1m0 104v1m0 8v2m0 17v1m0 42v1m0 8v1M114.5 77v1m0 13v1m0 11v2m0 55v1m0 5v1m0 78v1m0 41v1m0 7v1m0 10v1m0 35v1m0 20v1m0 11v1m0 6v1M116.5 229v1m0 6v1m0 13v1m0 9v1m0 9v1m0 36v1m0 44v1m0 2v1m0 11v1m0 5v1M118.5 30v1m0 1v1m0 39v1m0 22v1m0 7v1m0 17v1m0 10v1m0 33v1m0 6v1m0 17v1m0 15v1m0 76v1m0 34v1m0 10v1m0 29v1M120.5 49v1m0 11v1m0 14v1m0 45v1m0 56v1m0 2v1m0 7v1m0 67v1m0 30v1m0 66v1m0 1v1m0 25v1m0 2v1m0 12v2M125.5 112v1m0 45v1m0 46v1m0 28v1m0 67v1m0 84v1M130.5 67v1m0 63v1m0 19v1m0 17v1m0 28v1m0 12v1m0 23v2m0 104v1M135.5 27v1m0 1v1m0 38v1m0 3v1m0 36v1m0 6v1m0 8v1m0 92v1m0 96v1M140.5 35v1m0 26v1m0 32v1m0 43v1m0 7v1m0 27v1m0 26v1m0 33v1m0 75v1m0 1v1m0 21v1M145.5 28v2m0 35v1m0 135v1m0 116v2m0 32v1m0 1v1m0 9v1m0 16v1M150.5 27v1m0 94v1m0 12v1m0 9v1m0 9v1m0 34v1m0 21v1m0 12v1m0 17v1m0 9v1m0 34v1m0 25v1m0 4v1m0 9v1m0 39v1"/><path stroke="#472f7d" d="M0.5 29v1m0 43v1m0 36v1m0 44v1m0 9v1m0 22v1m0 48v1m0 19v1m0 35v1m0 73v1M1.5 42v1m0 36v1m0 4v1m0 30v2m0 8v1m0 87v1m0 6v2m0 10v1m0 17v1m0 8v1m0 3v1m0 13v1m0 6v1m0 21v1m0 41v1m0 14v1m0 8v1m0 26v1M2.5 36v1m0 8v1m0 29v1m0 71v1m0 18v1m0 11v1m0 84v1m0 33v1m0 22v1m0 21v1M3.5 84v1m0 20v1m0 49v1m0 93v1m0 16v1m0 47v1m0 6v1m0 2v1m0 35v1m0 13v1M4.5 215v1m0 148v1m0 18v1M5.5 136v1m0 8v1m0 65v1m0 16v1m0 20v1m0 9v1m0 78v1m0 5v1m0 43v1M6.5 76v1m0 26v1m0 12v1m0 35v1m0 40v1m0 17v1m0 172v1M7.5 153v1m0 3v1m0 39v1m0 71v1m0 51v1m0 24v1m0 3v1M8.5 35v1m0 1v1m0 30v1m0 35v1m0 38v1m0 22v1m0 3v1m0 7v1m0 7v1m0 18v1m0 93v1M9.5 40v1m0 10v1m0 11v1m0 24v1m0 12v1m0 17v1m0 33v1m0 24v1m0 62v1m0 48v1M10.5 55v1m0 53v1m0 56v1m0 4v1m0 54v1m0 36v1m0 1v1m0 20v1m0 38v1m0 61v1M11.5 120v2m0 57v1m0 6v1m0 48v1m0 110v1m0 43v1M12.5 57v1m0 32v1m0 128v1m0 46v1m0 15v1M13.5 36v1m0 187v1m0 41v1m0 19v1m0 3v1M14.5 254v1m0 12v1m0 36v1m0 16v1m0 26v1m0 11v1m0 7v1m0 31v1M15.5 27v1m0 41v1m0 2v1m0 68v1m0 24v1m0 5v1m0 79v1m0 58v1m0 27v1m0 9v1m0 3v1M16.5 31v1m0 53v1m0 10v1m0 2v1m0 31v1m0 34v1m0 28v1m0 108v1m0 12v1m0 39v1m0 17v1m0 5v1M17.5 46v1m0 26v1m0 117v1m0 38v1m0 43v1M18.5 29v1m0 103v1m0 45v1m0 7v1m0 89v1m0 120v1M19.5 63v1m0 31v1m0 15v1m0 37v1m0 17v1m0 6v1m0 15v1m0 108v1m0 7v1m0 9v1m0 58v1M20.5 92v1m0 41v1m0 34v1m0 5v1m0 18v1m0 72v1m0 6v1m0 6v1m0 13v1m0 101v1M21.5 19v1m0 81v1m0 18v1m0 20v1m0 155v1m0 54v1M22.5 47v1m0 33v1m0 4v1m0 26v1m0 9v1m0 84v1m0 46v1m0 50v1m0 5v1m0 49v1M23.5 105v1m0 64v1m0 26v1m0 4v1m0 11v1m0 68v1M24.5 37v1m0 220v1m0 7v1m0 123v1m0 1v1M25.5 35v1m0 45v1m0 178v1m0 9v1m0 21v1m0 4v2m0 80v1M26.5 68v1m0 94v1m0 73v1m0 1v1m0 88v1m0 43v1m0 30v1M27.5 25v1m0 44v1m0 252v1m0 1v2m0 35v1M28.5 52v1m0 64v1m0 15v1m0 43v1m0 135v1M29.5 81v1m0 7v1m0 13v1m0 104v1m0 5v1m0 138v1m0 27v1M30.5 38v1m0 8v1m0 35v1m0 11v1m0 16v1m0 10v1m0 39v1m0 4v1m0 63v1m0 105v1m0 16v1m0 25v1M31.5 81v2m0 31v1m0 15v1m0 144v1m0 32v1m0 93v1M32.5 33v1m0 17v1m0 13v1m0 59v1m0 50v1m0 3v1m0 8v1m0 7v1m0 7v1m0 22v1m0 50v1m0 1v1m0 1v1m0 64v1m0 4v1m0 19v1m0 12v1M33.5 33v1m0 5v1m0 9v1m0 60v1m0 90v1m0 12v1m0 33v1m0 25v1m0 16v1m0 30v1M34.5 30v1m0 6v1m0 75v1m0 29v1m0 15v1m0 48v1m0 30v1m0 68v1M35.5 50v1m0 16v1m0 1v1m0 41v1m0 38v1m0 20v1m0 76v1m0 1v1m0 70v1m0 12v1m0 67v1M36.5 25v1m0 15v1m0 10v1m0 13v1m0 101v2m0 43v1m0 46v1m0 54v1m0 59v1M37.5 113v1m0 10v1m0 11v1m0 54v1m0 118v1m0 24v1m0 14v1M38.5 96v1m0 7v1m0 2v1m0 241v1m0 1v1m0 26v1M39.5 99v1m0 53v1m0 5v1m0 37v1m0 64v1m0 88v1m0 31v1m0 9v1M40.5 54v1m0 205v1m0 21v1m0 11v1m0 41v1M41.5 151v1m0 5v1m0 53v1m0 112v1m0 18v1m0 26v1m0 1v1m0 9v1M42.5 37v1m0 10v2m0 29v1m0 150v1m0 112v1M43.5 30v1m0 127v1m0 138v1m0 69v1m0 21v1M44.5 63v1m0 22v1m0 6v1m0 168v1m0 4v1m0 71v1m0 53v1M45.5 30v1m0 12v1m0 34v1m0 23v1m0 23v1m0 176v1m0 38v1m0 28v1M46.5 37v1m0 109v1m0 89v1m0 32v1m0 16v1m0 10v1m0 25v1m0 17v1m0 21v1m0 13v1m0 4v1m0 10v1M47.5 44v1m0 4v1m0 11v1m0 113v1m0 19v1m0 31v1m0 7v1m0 51v1m0 3v1m0 61v1m0 18v1M48.5 53v1m0 2v1m0 8v2m0 63v1m0 26v1m0 65v1m0 67v1m0 26v1m0 5v1m0 11v1m0 2v1m0 16v1m0 19v1m0 25v1M49.5 58v1m0 29v1m0 5v1m0 41v1m0 28v1m0 29v1m0 4v1m0 10v1m0 4v1m0 8v1m0 10v1m0 14v2m0 15v1m0 36v1m0 48v1m0 17v1M50.5 32v1m0 17v1m0 19v1m0 29v1m0 41v1m0 118v1m0 47v1m0 48v1M51.5 31v1m0 23v1m0 32v1m0 13v1m0 24v1m0 110v1m0 76v1m0 35v1m0 41v1m0 10v1M52.5 29v1m0 42v1m0 104v1m0 13v1m0 29v1m0 16v1m0 25v1m0 43v1m0 23v1m0 71v1M53.5 25v1m0 5v1m0 34v1m0 13v1m0 49v1m0 18v1m0 156v1m0 9v1M54.5 95v1m0 27v1m0 21v1m0 15v1m0 20v1m0 14v1m0 53v1m0 11v1m0 1v1m0 75v1m0 17v1m0 7v1m0 34v1M55.5 35v1m0 6v1m0 15v1m0 68v1m0 28v1m0 10v1m0 110v1m0 80v1m0 9v1m0 3v1m0 13v1M56.5 30v1m0 17v1m0 52v1m0 10v1m0 19v1m0 47v1m0 66v1m0 34v1m0 3v1m0 16v1m0 32v1M57.5 52v1m0 8v1m0 56v1m0 15v1m0 64v1m0 14v1m0 56v1m0 23v1m0 13v1m0 78v1M58.5 92v1m0 141v1m0 63v1m0 5v2m0 31v1m0 9v1m0 22v1M59.5 30v1m0 3v1m0 4v1m0 38v1m0 11v1m0 38v1m0 46v1m0 2v1m0 24v1m0 75v1m0 6v1m0 44v1m0 34v2m0 22v1M60.5 51v1m0 20v1m0 9v1m0 24v1m0 55v1m0 22v1m0 22v1m0 14v1m0 137v1M61.5 29v1m0 40v1m0 111v1m0 29v1m0 56v1m0 88v1M62.5 110v1m0 38v1m0 16v1m0 90v1m0 50v1m0 39v1M63.5 19v1m0 7v1m0 17v1m0 11v1m0 150v1m0 1v1m0 53v1m0 52v1m0 11v1m0 26v1m0 22v1m0 3v1M64.5 60v1m0 10v1m0 4v1m0 56v1m0 72v1m0 65v1M65.5 34v1m0 101v1m0 16v1m0 15v1m0 98v1m0 8v1m0 13v1m0 1v1m0 55v1m0 4v1m0 5v1m0 30v1M66.5 34v1m0 10v1m0 78v1m0 78v1m0 37v1m0 67v1m0 13v1M67.5 93v1m0 12v1m0 8v1m0 62v1m0 80v1m0 70v1m0 56v1M68.5 63v1m0 157v1m0 19v1m0 8v1m0 72v1m0 7v1m0 3v1m0 2v1m0 1v1m0 37v1M69.5 31v1m0 36v1m0 149v1m0 41v1m0 103v1m0 8v1M70.5 42v1m0 2v1m0 50v1m0 35v1m0 9v1m0 40v1M71.5 31v1m0 7v1m0 33v1m0 57v1m0 6v1m0 17v1m0 6v1m0 113v1m0 69v1m0 17v1m0 37v1M72.5 69v1m0 84v1m0 21v1m0 58v2m0 55v1m0 109v1M73.5 37v1m0 25v1m0 3v1m0 70v1m0 108v1m0 21v1m0 70v1m0 15v1M74.5 83v1m0 23v1m0 25v1m0 11v1m0 143v1m0 45v1m0 40v1M75.5 29v1m0 47v1m0 6v1m0 6v1m0 15v1m0 35v1m0 5v1m0 31v1m0 21v1m0 142v1m0 21v1m0 13v1m0 3v1M76.5 108v1m0 85v1m0 34v1m0 16v1m0 2v1m0 33v1m0 23v1m0 14v1m0 47v1m0 23v1M77.5 30v1m0 33v1m0 144v1m0 10v1m0 1v1m0 54v1m0 20v1m0 103v1M78.5 37v1m0 3v1m0 18v1m0 152v1m0 49v1m0 9v2m0 11v1m0 34v1m0 22v1m0 20v1M79.5 21v1m0 20v2m0 35v1m0 59v1m0 20v1m0 65v1m0 72v1m0 34v1m0 25v1m0 29v1M80.5 111v1m0 12v1m0 39v1m0 102v1m0 19v1m0 8v1m0 19v1m0 19v1M81.5 46v1m0 20v1m0 16v1m0 19v1m0 4v1m0 34v1m0 14v2m0 84v1m0 39v1m0 29v1m0 38v1m0 4v1M82.5 29v1m0 26v1m0 41v1m0 3v1m0 25v1m0 12v1m0 12v1m0 91v1m0 40v1m0 35v1m0 5v1M83.5 34v1m0 30v2m0 69v1m0 48v1m0 40v1m0 54v1m0 80v1m0 20v1m0 10v1M84.5 150v1m0 5v1m0 60v1m0 47v1m0 3v1m0 25v1m0 2v1m0 8v1M85.5 43v1m0 32v1m0 38v1m0 104v1m0 122v1m0 6v1m0 25v1m0 13v1m0 11v1M86.5 59v1m0 11v1m0 4v2m0 2v1m0 62v1m0 4v1m0 57v1m0 18v1m0 161v1M87.5 62v1m0 49v1m0 136v2m0 39v1m0 76v1m0 6v1M88.5 52v1m0 21v1m0 20v1m0 69v1m0 11v1m0 6v1m0 24v1m0 16v1m0 32v1m0 24v1m0 52v1m0 29v1M89.5 48v1m0 20v1m0 93v1m0 8v1m0 108v1m0 29v1m0 40v1m0 32v1m0 5v1M90.5 27v1m0 38v1m0 25v1m0 79v1m0 85v1m0 31v1m0 20v1m0 21v1m0 27v1m0 42v1M91.5 31v1m0 16v1m0 6v1m0 4v1m0 16v1m0 9v1m0 8v1m0 7v1m0 32v1m0 3v1m0 100v1m0 32v1M92.5 78v1m0 16v1m0 66v1m0 157v1m0 33v1M93.5 38v1m0 77v1m0 18v1m0 89v1m0 3v1m0 134v1M94.5 54v3m0 19v1m0 112v1m0 11v1m0 155v1m0 9v1M95.5 105v1m0 21v1m0 83v1m0 101v1m0 17v1m0 72v1M96.5 26v1m0 11v1m0 20v1m0 24v1m0 26v1m0 23v1m0 1v1m0 199v1M97.5 31v1m0 18v1m0 5v1m0 3v1m0 7v1m0 50v1m0 7v1m0 24v1m0 64v1m0 72v1m0 50v1m0 48v1M98.5 70v1m0 42v1m0 34v2m0 21v1m0 100v1m0 16v1m0 61v1M99.5 36v1m0 11v1m0 4v1m0 6v1m0 166v1m0 6v1m0 56v1m0 67v1M100.5 158v1m0 53v1m0 39v1m0 12v1m0 10v1m0 11v1m0 38v1m0 11v1m0 1v1M101.5 123v1m0 5v1m0 65v1m0 92v1m0 37v1m0 77v1M102.5 29v2m0 18v1m0 60v1m0 73v1m0 27v1m0 21v1m0 91v1m0 2v1M103.5 107v1m0 59v1m0 26v1m0 76v1m0 7v1m0 43v1m0 37v1M104.5 31v1m0 8v1m0 32v1m0 106v1m0 35v1m0 14v1m0 47v1M105.5 78v1m0 131v1m0 30v1m0 14v1m0 44v1M106.5 116v1m0 24v1m0 64v1m0 5v1m0 52v1m0 12v1m0 21v1m0 36v2m0 6v1M108.5 48v1m0 26v1m0 8v1m0 14v1m0 4v1m0 33v1m0 50v1m0 23v1m0 7v1m0 31v1m0 2v1m0 11v1m0 27v1m0 94v1m0 2v1M110.5 43v1m0 16v1m0 202v1m0 47v1m0 26v1m0 19v1m0 2v1m0 11v1m0 3v1m0 4v1M112.5 77v1m0 130v1m0 65v1m0 15v1m0 101v1M114.5 75v1m0 53v1m0 5v1m0 42v1m0 11v1m0 82v1m0 56v1m0 9v1m0 40v1M116.5 82v1m0 235v1m0 27v1M118.5 24v1m0 63v1m0 42v1m0 25v2m0 77v1m0 31v1m0 23v1m0 16v1m0 15v1m0 2v1m0 32v1m0 13v1m0 19v1m0 6v2M120.5 20v1m0 1v1m0 3v1m0 24v1m0 65v1m0 1v1m0 21v1m0 65v1m0 3v1m0 61v1m0 102v1m0 8v1M125.5 45v1m0 69v1m0 3v1m0 23v1m0 40v1m0 4v3m0 19v1m0 47v1m0 4v1m0 10v1m0 49v1m0 57v1M130.5 71v1m0 10v1m0 57v1m0 76v1m0 11v1m0 2v1m0 67v1m0 16v1m0 31v1m0 41v1M135.5 64v1m0 1v1m0 35v2m0 26v1m0 18v1m0 81v1m0 94v1m0 34v1m0 9v2m0 20v1M140.5 33v1m0 32v1m0 9v1m0 162v1m0 9v1m0 76v1M145.5 81v1m0 14v2m0 4v1m0 3v1m0 68v1m0 14v1m0 30v1m0 6v1m0 99v1m0 17v1M150.5 73v2m0 38v1m0 116v1m0 51v1m0 6v1m0 30v1m0 18v1m0 30v1"/><path stroke="#463480" d="M0.5 48v1m0 44v1m0 34v1m0 70v1m0 17v1m0 80v1m0 3v1M1.5 108v1m0 106v1m0 46v1M2.5 140v1m0 91v1m0 165v1M3.5 80v1m0 53v1m0 16v1m0 85v1m0 99v1M4.5 198v1m0 24v1m0 112v1m0 23v1m0 23v1M5.5 167v1m0 164v1m0 31v1m0 2v1M6.5 48v2m0 10v1m0 95v1m0 23v1m0 109v1M7.5 25v1m0 348v1m0 6v1m0 13v1m0 2v1M8.5 175v1m0 25v1m0 60v1m0 39v1M9.5 39v1m0 35v1m0 21v1m0 130v1m0 51v1m0 13v1m0 61v1m0 27v1m0 18v1M10.5 251v1m0 29v1m0 15v1M11.5 30v1m0 1v1m0 31v1m0 1v1m0 29v1m0 114v2m0 153v1M12.5 70v1m0 13v1m0 93v1m0 7v1m0 10v1m0 77v1M13.5 32v1m0 36v1m0 42v1m0 42v1m0 12v1m0 48v1m0 35v1m0 76v2m0 68v1M14.5 142v1m0 59v1m0 27v1m0 38v1m0 7v1m0 2v1m0 2v1m0 66v1M15.5 29v1m0 121v1m0 61v1m0 132v1m0 10v1m0 13v1M16.5 22v1m0 32v1m0 66v1m0 88v1m0 184v1M17.5 44v1m0 130v1m0 70v1m0 11v1M18.5 31v1m0 61v1m0 5v1m0 8v1m0 61v1m0 47v1m0 65v1m0 11v1m0 33v1m0 50v1m0 20v1M19.5 30v1m0 106v1m0 6v1m0 61v1m0 48v1m0 132v1M20.5 77v1m0 32v1m0 92v1m0 34v1m0 44v2m0 17v1M21.5 22v1m0 8v1m0 257v1m0 6v1m0 21v1m0 16v1m0 32v1M22.5 51v1m0 3v1m0 21v1m0 4v1m0 36v1m0 70v1m0 26v1m0 35v1m0 31v1m0 51v1m0 32v1M23.5 28v1m0 14v1m0 74v1m0 66v1m0 43v1m0 2v1m0 68v1M24.5 68v1m0 6v1m0 181v1m0 40v1m0 36v1M25.5 77v1m0 1v1m0 14v1m0 25v1m0 8v1m0 21v1m0 101v1m0 45v1m0 8v1m0 2v1m0 39v1M26.5 77v1m0 71v1m0 5v1m0 37v1m0 131v1m0 13v1M27.5 28v1m0 184v1m0 28v2m0 42v1m0 46v1M28.5 315v1m0 62v1M29.5 206v1m0 105v1M30.5 72v1m0 164v1m0 20v1m0 34v1m0 38v1m0 4v1m0 18v1m0 20v1m0 8v1M31.5 55v1m0 49v1m0 49v1m0 83v1m0 61v1m0 47v1M32.5 37v1M33.5 22v1m0 5v1m0 70v1m0 110v1m0 9v1m0 7v1m0 56v1m0 35v1m0 32v1M34.5 28v1m0 53v1m0 28v1m0 4v1m0 19v1m0 21v1m0 10v1m0 29v1m0 120v1m0 5v1m0 65v1M35.5 90v1m0 63v1m0 58v1m0 15v1m0 42v1m0 109v2M36.5 26v1m0 87v1m0 262v1M37.5 34v1m0 42v1m0 25v1m0 27v1m0 16v1m0 23v1m0 99v1m0 16v1m0 22v1M38.5 32v1m0 254v1m0 2v1m0 41v1M39.5 71v1m0 2v1m0 41v1m0 50v1m0 6v1m0 174v1M40.5 215v2m0 42v1m0 1v1m0 85v1M41.5 76v1m0 61v1m0 89v2m0 8v1m0 76v1M42.5 64v1m0 36v1m0 60v1m0 14v1m0 62v1m0 73v1M43.5 169v1m0 171v1m0 29v1M44.5 29v1m0 75v1m0 102v1m0 6v1M45.5 110v1m0 63v1m0 30v1M46.5 28v1m0 2v1m0 65v1m0 53v1m0 41v1m0 12v1m0 40v1m0 117v1m0 27v1M47.5 48v1m0 60v1m0 38v1m0 3v1m0 27v1m0 15v1m0 170v1M48.5 52v1m0 107v1m0 20v1M49.5 24v1m0 35v1m0 94v1m0 27v1m0 1v1m0 34v1m0 14v1m0 160v1M50.5 24v1m0 15v1m0 25v1m0 64v1m0 48v1m0 84v1m0 22v1m0 39v1M51.5 41v1m0 48v1m0 73v1m0 44v1m0 11v1m0 138v1M52.5 81v1m0 131v1m0 11v2m0 36v1m0 45v1m0 70v1m0 8v1m0 3v1m0 8v2M53.5 15v1m0 10v1m0 170v1m0 5v1m0 8v1m0 64v1M54.5 219v1m0 40v1m0 27v1M55.5 27v1m0 23v1m0 126v1m0 18v1m0 18v1m0 75v1m0 68v1m0 22v1M56.5 34v1m0 65v1m0 46v1m0 8v1m0 109v1m0 40v1m0 47v1m0 13v1M57.5 135v1M58.5 30v1m0 6v1m0 24v1m0 30v1m0 80v1m0 8v1m0 19v1m0 41v1m0 114v1M59.5 70v1m0 29v1m0 151v1m0 116v1M60.5 32v1m0 36v2m0 8v1m0 73v1m0 144v1m0 3v1M61.5 32v1m0 79v1m0 59v1m0 4v1m0 35v1m0 87v1m0 63v1m0 2v1M62.5 67v1m0 5v1m0 37v1m0 178v1m0 73v1m0 32v1m0 2v1m0 3v1M63.5 23v1m0 29v1m0 6v1m0 67v1m0 166v1m0 10v1m0 2v1m0 75v1m0 4v1M64.5 50v1m0 27v1m0 1v1m0 2v1m0 213v1M65.5 36v1m0 128v1m0 34v1m0 35v1M66.5 59v1m0 7v1m0 105v1m0 28v1m0 26v1m0 94v1m0 44v1M67.5 30v1m0 23v2m0 36v1m0 83v1m0 10v1m0 60v1m0 5v1m0 30v1m0 7v1m0 78v1m0 5v1m0 3v1m0 17v1M68.5 23v1m0 84v1m0 81v1m0 39v1m0 41v1m0 15v1m0 41v1m0 46v1m0 24v1M69.5 79v1m0 13v1m0 58v1m0 97v1m0 8v1m0 2v1m0 113v1M70.5 254v1m0 35v1m0 66v1M71.5 95v1m0 36v1m0 1v1m0 52v1m0 141v1m0 3v1M72.5 35v1m0 5v2m0 2v1m0 36v2m0 213v1m0 48v1m0 9v1m0 1v1M73.5 81v1m0 141v1M74.5 29v1m0 16v1m0 107v1m0 23v1m0 61v1m0 66v1m0 39v1m0 39v1M75.5 94v1m0 10v2m0 80v1m0 6v1m0 66v1M76.5 34v1m0 111v1m0 18v1m0 9v2m0 43v1m0 69v1m0 67v1m0 38v1M77.5 31v1m0 96v1m0 3v1m0 123v1m0 6v1m0 22v1m0 33v1M78.5 26v1m0 27v1m0 121v1m0 138v1m0 57v1m0 5v1m0 1v1M79.5 33v1m0 15v1m0 96v1m0 73v1m0 26v1M80.5 22v1m0 16v1m0 26v1m0 60v1m0 51v1m0 1v1m0 7v1m0 21v1m0 108v1M81.5 103v1m0 26v1m0 96v1m0 74v1m0 9v1M82.5 186v1m0 18v1m0 37v1m0 38v1M83.5 41v1m0 12v1m0 7v1m0 27v1m0 88v1m0 4v1m0 64v1m0 13v1m0 137v1M84.5 31v1m0 27v1m0 40v1m0 71v1m0 11v1m0 35v1m0 179v1M85.5 42v1m0 36v1m0 141v1m0 116v1M86.5 30v1m0 11v1m0 3v1m0 167v1M87.5 31v1m0 245v1m0 1v1M88.5 93v1m0 186v1m0 27v1m0 35v1m0 34v1M89.5 40v1m0 32v1m0 288v1M90.5 103v1m0 4v1m0 16v1m0 12v1m0 16v1m0 163v1m0 14v1M91.5 98v1m0 47v1m0 5v1m0 223v1M92.5 175v1m0 20v1m0 70v1m0 10v1m0 121v1M93.5 30v1m0 6v1m0 15v1m0 174v1m0 74v1m0 14v1m0 55v1m0 20v1M94.5 31v1m0 146v1m0 123v1m0 51v2M95.5 47v1m0 35v1m0 20v1m0 67v1m0 93v1m0 109v1M96.5 21v1m0 2v1m0 37v1m0 203v1m0 11v1m0 65v1m0 39v1M97.5 33v1m0 3v1m0 29v1m0 2v1m0 12v1m0 11v1m0 40v1m0 18v2m0 3v1m0 34v1m0 41v2m0 79v1M98.5 35v1m0 32v1m0 19v1m0 272v1M99.5 28v1m0 78v1m0 22v1m0 17v1m0 50v1m0 71v1m0 31v1m0 1v1M100.5 38v1m0 35v1m0 16v1m0 91v1m0 4v1m0 204v1M101.5 48v1m0 16v1m0 20v1m0 152v1m0 63v1M102.5 34v1m0 32v1m0 4v1m0 159v1m0 59v1m0 22v1m0 27v1M103.5 29v1m0 93v1m0 73v1m0 31v2m0 4v1m0 57v1m0 8v1m0 61v1M104.5 58v2m0 33v1m0 5v1m0 15v1m0 32v1m0 33v1m0 156v1M105.5 95v1m0 130v1m0 16v1m0 11v1m0 71v1M106.5 111v1m0 59v1m0 69v1m0 24v1m0 48v1m0 63v1M108.5 93v1m0 30v1m0 94v1m0 105v1m0 40v1M110.5 76v1m0 57v1m0 113v1m0 77v1m0 2v1m0 24v1M112.5 52v2m0 65v1m0 61v1M114.5 156v1m0 23v1m0 20v1m0 10v1m0 59v1m0 19v1m0 4v1m0 43v1m0 57v1M116.5 71v1m0 87v1m0 120v1m0 48v1m0 60v1M118.5 39v1m0 38v1m0 89v1m0 19v1m0 37v2m0 72v1m0 3v1m0 15v1M120.5 27v1m0 75v1m0 36v1m0 77v1m0 7v1m0 8v1m0 9v1m0 10v1m0 118v1M125.5 19v1m0 59v1m0 7v1m0 8v1m0 48v1m0 36v1m0 2v1M130.5 96v1m0 49v1m0 18v1m0 25v1m0 48v1m0 52v1m0 48v1m0 7v1m0 47v1M135.5 83v1m0 133v1m0 98v1m0 50v1m0 26v1M140.5 49v1m0 58v1m0 8v1m0 63v1m0 24v1m0 33v1m0 62v1M145.5 94v1m0 127v1m0 66v1M150.5 24v1m0 78v1m0 8v1m0 10v1m0 48v1m0 222v1"/><path stroke="#443983" d="M0.5 31v1m0 1v1m0 63v1m0 68v1m0 71v1m0 19v1m0 36v1m0 44v1M1.5 278v1m0 37v1M2.5 130v1m0 48v1m0 24v1m0 51v1m0 33v1M3.5 121v1m0 92v1m0 16v1m0 21v1m0 24v1m0 47v1m0 36v1M4.5 29v1m0 1v1m0 31v1m0 72v1m0 10v1M5.5 49v1m0 131v1m0 22v1m0 66v1m0 59v1m0 8v1M6.5 34v1m0 15v1m0 343v1M7.5 24v1m0 82v1m0 2v2m0 25v1m0 54v1M8.5 36v1m0 4v1m0 274v1M9.5 76v1m0 22v1m0 220v1M10.5 192v1m0 34v1m0 7v1m0 60v1M11.5 35v1m0 161v1m0 1v1M12.5 34v1m0 32v1m0 121v1m0 3v1m0 45v1m0 45v2m0 2v1m0 49v1m0 39v1M13.5 340v1m0 62v1M14.5 164v1m0 67v1m0 128v1m0 28v1M15.5 221v1m0 132v1m0 3v1m0 18v1M16.5 23v1m0 182v1m0 101v1m0 23v1M17.5 136v1m0 122v1m0 2v1m0 8v1m0 57v1m0 44v1M18.5 30v1m0 313v1m0 51v1M19.5 32v1m0 140v1m0 19v1m0 202v1M20.5 65v1m0 99v1m0 23v1m0 76v1M21.5 23v1m0 1v1m0 93v1m0 78v1m0 13v1m0 69v1m0 46v1M22.5 24v1m0 35v1m0 26v1m0 227v1m0 13v1M23.5 117v1m0 23v1m0 64v1m0 23v1m0 79v1m0 76v1M24.5 25v1m0 119v1m0 30v1m0 52v1m0 29v1m0 37v1M25.5 154v1m0 73v1m0 19v2m0 18v1m0 11v1m0 28v1m0 9v1m0 40v1M26.5 20v1M27.5 107v1m0 38v1m0 45v1M28.5 237v1m0 27v1m0 45v1m0 2v1M29.5 59v1m0 308v1m0 28v1M30.5 31v1m0 71v1m0 94v1m0 69v1M31.5 240v1m0 12v1M32.5 67v1m0 13v1m0 26v1m0 229v1M33.5 24v1m0 108v1m0 225v1m0 16v1M34.5 26v1m0 192v1M35.5 30v1m0 79v1m0 138v1m0 154v1M36.5 214v1m0 25v1M37.5 45v1m0 11v1m0 3v1m0 47v1m0 19v1m0 272v1M38.5 31v1m0 2v1m0 58v1m0 182v1m0 11v1m0 19v1m0 1v1m0 15v1M39.5 29v1m0 231v1m0 51v1M40.5 189v1m0 204v1m0 5v1M41.5 30v1m0 108v1m0 142v1m0 6v1m0 8v1M42.5 105v1m0 3v1m0 210v1M43.5 29v1m0 307v1M44.5 349v1M45.5 229v1m0 34v1m0 1v1M46.5 27v1m0 26v1m0 136v1m0 70v1M47.5 186v1m0 82v1m0 30v1M48.5 30v1m0 123v1m0 59v1m0 5v1m0 170v1M49.5 275v1M50.5 83v1m0 217v1m0 47v1m0 37v1M51.5 78v1m0 120v1m0 97v1M52.5 201v1m0 192v1M53.5 216v1m0 67v1M54.5 17v1m0 42v1m0 3v1m0 43v1m0 105v1m0 80v1m0 9v1m0 43v1M55.5 34v1m0 64v1m0 134v1m0 91v1M56.5 86v1m0 19v1m0 13v1m0 25v1m0 62v1m0 11v1m0 43v1m0 14v1m0 87v1m0 3v1M57.5 31v1m0 15v1m0 128v1m0 45v1M58.5 48v1m0 137v1m0 135v1M59.5 87v1m0 55v1m0 15v1m0 33v1m0 106v1M60.5 333v1m0 21v1M61.5 68v1m0 55v1M62.5 42v1m0 16v1m0 55v1m0 28v1m0 244v1m0 13v1M63.5 77v1m0 2v1m0 54v1m0 112v1m0 53v1M64.5 34v1m0 38v1m0 30v1m0 8v1m0 117v1m0 6v1m0 152v2M65.5 176v1m0 32v1m0 7v1m0 9v1m0 21v1m0 26v1m0 38v1m0 76v1M66.5 52v1m0 22v1m0 134v1m0 25v1M67.5 192v1m0 111v1M68.5 40v1m0 160v1m0 127v1M69.5 32v1m0 141v1m0 64v1M70.5 133v1m0 80v1m0 40v1m0 52v1m0 12v1m0 25v1M71.5 29v1m0 79v1m0 36v1m0 138v1m0 64v1M72.5 174v1m0 44v1M73.5 25v1m0 87v1m0 147v1m0 32v1m0 28v1M74.5 106v1m0 132v1m0 65v1m0 28v1m0 13v1m0 12v1m0 7v1m0 29v1M75.5 55v1m0 80v1m0 53v1M76.5 29v1m0 344v1M77.5 68v1m0 303v1M78.5 86v1m0 64v1m0 103v1m0 13v1M79.5 93v1m0 20v1m0 94v1m0 163v1M80.5 21v1m0 110v1m0 145v1m0 18v1m0 98v1M81.5 37v1m0 59v1m0 48v1m0 92v1m0 57v1m0 16v1m0 18v1m0 26v1M82.5 311v1m0 89v1M83.5 72v1m0 15v1m0 52v1m0 24v1m0 11v1m0 162v1m0 36v1M84.5 25v1m0 91v1m0 5v1m0 144v1m0 37v1M85.5 78v1m0 312v1m0 7v1M86.5 58v1m0 185v1m0 43v1M87.5 29v1m0 113v1m0 227v1M88.5 82v1m0 121v1m0 14v1m0 61v1m0 3v1M89.5 190v1m0 187v1M90.5 20v3m0 1v1m0 132v1m0 10v1m0 85v2m0 11v1m0 44v1m0 41v1M91.5 80v3m0 12v1m0 4v3m0 2v1m0 36v1m0 68v1M92.5 316v1m0 86v1M93.5 55v1m0 144v1m0 20v1m0 130v1m0 37v1M94.5 92v1m0 180v1M95.5 136v1m0 2v1M96.5 92v1m0 19v1m0 28v1m0 34v1m0 54v1m0 5v1m0 110v1M97.5 80v1m0 216v1M98.5 159v1m0 45v1m0 168v1M99.5 106v1m0 11v1m0 36v1m0 19v1m0 12v2m0 30v1m0 168v1M100.5 31v1m0 22v1m0 41v1m0 126v1m0 139v1M101.5 119v1m0 79v1m0 7v1m0 2v1m0 10v1m0 148v1M102.5 143v1M103.5 255v1m0 100v1m0 37v1m0 5v1M104.5 96v1m0 105v1m0 131v1m0 22v1M105.5 28v1m0 48v1m0 60v1m0 46v1m0 168v1m0 48v1M106.5 77v1m0 81v1m0 12v1m0 77v1m0 1v1m0 74v1M108.5 148v1m0 118v1M110.5 90v1m0 65v1m0 82v1m0 134v1M112.5 21v1m0 29v1m0 46v1m0 236v1M114.5 65v1m0 33v1m0 18v1m0 81v1m0 22v1m0 141v1M116.5 57v1m0 79v1m0 9v1m0 27v1m0 196v1M118.5 75v1m0 53v1m0 167v1m0 28v1m0 22v1m0 8v1M120.5 21v1m0 30v1m0 51v1m0 122v1m0 42v1m0 7v1M125.5 363v1M130.5 127v1m0 31v1m0 15v1M135.5 69v1m0 59v1m0 114v1m0 79v1m0 65v1M140.5 29v1m0 31v1m0 120v1m0 16v1M145.5 92v1m0 27v1m0 124v1M150.5 321v1m0 6v1"/><path stroke="#433e85" d="M0.5 61v1m0 30v1m0 48v1m0 12v1m0 142v1M1.5 217v1m0 97v1M2.5 70v1m0 52v1m0 45v1m0 168v1M4.5 28v1m0 317v1M5.5 33v1m0 14v1M6.5 324v1M7.5 365v1M8.5 111v1m0 87v1m0 4v1m0 61v1M9.5 33v1m0 18v1m0 156v1m0 83v1m0 80v1M10.5 115v1m0 161v1m0 64v1M12.5 40v1M14.5 33v1m0 146v1m0 83v1M15.5 318v1M17.5 227v1M19.5 360v1m0 7v1M20.5 125v2M21.5 26v3m0 121v1M22.5 203v1m0 21v1M23.5 89v1m0 49v1m0 61v1M24.5 62v1m0 41v1m0 17v1m0 80v1m0 100v1m0 73v1M25.5 29v1m0 102v1m0 14v1m0 104v1m0 4v1m0 9v1m0 37v1M26.5 167v1m0 24v1m0 37v1m0 132v1m0 7v1M27.5 22v1m0 97v1m0 108v1m0 151v1m0 19v1M28.5 27v1m0 342v1m0 6v1m0 4v1M29.5 255v1M30.5 376v1M31.5 32v1m0 276v1M32.5 385v1M33.5 23v1m0 7v1m0 25v1m0 6v1m0 20v1m0 39v1M34.5 134v1m0 116v1m0 92v1m0 46v1M35.5 49v1m0 102v1m0 17v1m0 147v1m0 55v1M37.5 108v1m0 189v1m0 25v1M38.5 40v1m0 5v1m0 237v1m0 15v1m0 49v1M39.5 97v1m0 64v1m0 35v1m0 44v1M40.5 23v1m0 26v1m0 267v1m0 66v1m0 5v1m0 7v1M41.5 70v1m0 144v1m0 75v1M42.5 34v1m0 103v1m0 11v1m0 12v1M43.5 34v1m0 85v1m0 35v1m0 128v1m0 2v1M44.5 87v1M45.5 32v1m0 120v1M46.5 216v1m0 116v1m0 37v1m0 5v1M47.5 125v1m0 3v1m0 15v1M48.5 375v1M49.5 96v1m0 140v1m0 163v1M50.5 25v1m0 210v1m0 96v1m0 41v1M51.5 148v1m0 210v1m0 2v1m0 12v1M52.5 202v1m0 33v1m0 13v1m0 10v1m0 32v1M53.5 27v1m0 33v1m0 27v1M54.5 18v1m0 290v1m0 67v1M55.5 204v1m0 167v1M57.5 274v1m0 112v1M58.5 204v1m0 192v1M59.5 29v1m0 51v1m0 68v1m0 242v1M60.5 382v1M61.5 38v1m0 190v1m0 102v1M62.5 128v1m0 162v1M63.5 22v1m0 1v1m0 175v1M64.5 48v1m0 26v1m0 8v1m0 5v1m0 11v1m0 27v1m0 72v1M65.5 103v1m0 114v1m0 67v1m0 54v1m0 11v1M66.5 211v1M67.5 53v1m0 12v1m0 50v1m0 3v1m0 201v1m0 33v1M68.5 155v1m0 93v1m0 12v1M69.5 167v1m0 20v1M72.5 262v1M73.5 93v1m0 249v1M74.5 152v1m0 38v1m0 211v1M75.5 230v1M77.5 307v1m0 90v1M78.5 85v1m0 134v1M79.5 128v1M80.5 28v1m0 269v1m0 6v1M81.5 66v1m0 138v1m0 13v1M82.5 32v1m0 206v1m0 84v1M83.5 58v1m0 56v1m0 139v1m0 47v1m0 10v1m0 6v1M84.5 152v1M85.5 321v1m0 38v1M86.5 34v1m0 121v1M87.5 119v1M88.5 30v1m0 107v1m0 131v1m0 15v1m0 28v1m0 58v1M90.5 158v1m0 163v2M91.5 73v1m0 11v2m0 1v1m0 49v1M92.5 197v1m0 170v1M94.5 333v1M95.5 32v1m0 9v1m0 14v1m0 149v1m0 78v1m0 82v1M96.5 392v1M97.5 29v1m0 60v1m0 145v1M99.5 59v1m0 48v1m0 67v1M102.5 349v1M103.5 296v1M104.5 29v1m0 62v1m0 93v1M105.5 115v1m0 149v1m0 63v1M106.5 389v1M108.5 100v1m0 13v1m0 62v2M110.5 24v1m0 44v2m0 4v1m0 48v1m0 109v1m0 92v1M112.5 329v1M114.5 52v1m0 33v1m0 18v1m0 11v1m0 109v1M116.5 70v1m0 15v1m0 66v1m0 2v2m0 16v1m0 36v1m0 116v1m0 3v1M118.5 25v1M120.5 23v1m0 29v1M125.5 224v1m0 22v1m0 52v1M130.5 147v1m0 186v1M135.5 245v1m0 71v1M140.5 19v1m0 14v1m0 243v1M150.5 84v1m0 259v1"/><path stroke="#414487" d="M0.5 309v1M2.5 180v1m0 22v1m0 147v1M3.5 50v1m0 335v1M5.5 30v1m0 76v1M6.5 284v1m0 72v1M7.5 65v1m0 226v1M8.5 27v1m0 75v1m0 147v1m0 17v1m0 65v1M9.5 110v1m0 3v1m0 104v1m0 159v1m0 24v1M10.5 190v1m0 152v1M11.5 126v1m0 18v1m0 43v1m0 173v1M12.5 29v1m0 78v1m0 191v1M13.5 129v1m0 261v1M18.5 308v1M19.5 29v1m0 4v1m0 286v1M20.5 373v1M23.5 25v1m0 212v1M24.5 91v1m0 150v1M25.5 274v1m0 26v1M26.5 241v1M27.5 29v1M28.5 288v1m0 50v1M29.5 62v1M30.5 30v1m0 366v1M31.5 162v1m0 118v1M32.5 136v1m0 23v1m0 194v1m0 31v1M33.5 30v1m0 19v1m0 22v1m0 241v1M34.5 76v1M35.5 28v1m0 179v1M36.5 101v1m0 141v1m0 36v1m0 33v1m0 88v1M37.5 336v1M38.5 137v1M39.5 66v1m0 222v1m0 57v1m0 44v1M41.5 262v1m0 53v1m0 76v1M42.5 275v1m0 5v1m0 48v1m0 4v1M44.5 140v1m0 123v1M45.5 101v1m0 22v1M46.5 140v1m0 107v1M47.5 127v1m0 23v1M48.5 107v1m0 120v1M50.5 336v1M51.5 374v1M53.5 18v1m0 201v1m0 76v1M54.5 19v1M56.5 71v1m0 321v1M57.5 34v1M58.5 78v1m0 187v1M59.5 132v1m0 190v1M60.5 356v1M61.5 67v1m0 33v1M62.5 28v1m0 124v1m0 11v1M63.5 26v1m0 83v1m0 136v1M65.5 248v1m0 54v1M66.5 29v1M68.5 324v1M69.5 130v1m0 237v1M70.5 274v1m0 34v1m0 29v1M72.5 68v1m0 106v1M75.5 41v1m0 310v1M76.5 136v1M77.5 108v1M78.5 206v1m0 14v1m0 50v1M79.5 77v1M80.5 37v1m0 52v1m0 103v1m0 159v1M81.5 226v1m0 17v1M82.5 34v1m0 1v1m0 63v1m0 41v1m0 227v1M83.5 29v1M84.5 197v1M85.5 57v1m0 193v1M87.5 132v1M88.5 29v1m0 200v1M89.5 29v1M90.5 32v1M91.5 30v1m0 63v1m0 8v1M92.5 142v1m0 104v1M93.5 96v1M94.5 208v1m0 147v1M95.5 273v1M96.5 161v1m0 174v1m0 52v1M97.5 392v1M98.5 112v1m0 82v1m0 77v1M99.5 55v1m0 41v1M100.5 39v1m0 147v1m0 154v1m0 15v1M102.5 302v1m0 13v1M104.5 97v1m0 100v1m0 167v1M105.5 29v1M106.5 161v1m0 167v1M108.5 23v1m0 77v1M112.5 20v1m0 87v1M114.5 21v1m0 287v1M116.5 387v1M118.5 329v1m0 32v1M120.5 112v2m0 15v1m0 70v1m0 78v1m0 122v1M125.5 246v1M130.5 158v1M140.5 21v1m0 183v1m0 23v1m0 140v1M145.5 69v1M150.5 188v1"/><path stroke="#3f4889" d="M1.5 283v1m0 104v1M2.5 34v1m0 106v1M3.5 35v1M5.5 31v1M7.5 120v1M8.5 160v1M9.5 166v1M11.5 29v1m0 276v1M12.5 41v1m0 260v1M13.5 130v1M14.5 183v1M17.5 185v1M19.5 106v1M20.5 26v1M21.5 134v1m0 201v1M22.5 129v1M23.5 239v1m0 51v1M24.5 180v1M25.5 78v1M27.5 21v1m0 166v1M28.5 41v1M29.5 17v1M30.5 99v1M31.5 206v1M32.5 402v1M34.5 25v1m0 226v1M36.5 299v1M39.5 27v1M40.5 249v1M41.5 290v1m0 32v1M42.5 31v1M43.5 296v1M45.5 77v1M46.5 81v1M47.5 82v1M48.5 197v1M49.5 345v1M50.5 86v1M51.5 29v1m0 360v1M52.5 58v1m0 294v1M54.5 24v1m0 19v1M55.5 151v1M60.5 30v1M62.5 24v2m0 94v1M63.5 211v1M64.5 58v1M65.5 35v1M67.5 97v1M69.5 169v1M70.5 34v1m0 305v2m0 41v1M72.5 296v1m0 58v1M73.5 230v1M75.5 35v1m0 4v1M77.5 29v1M79.5 27v1M80.5 364v1M81.5 129v1M85.5 77v1m0 112v1m0 173v1M86.5 31v1m0 255v1m0 88v1M88.5 260v1M89.5 30v1M91.5 106v1m0 3v1M97.5 32v1m0 168v1M98.5 320v1M99.5 167v1M100.5 338v1M101.5 64v1M102.5 116v1m0 18v1M103.5 261v1M104.5 100v1m0 67v1M106.5 112v1M108.5 26v1m0 29v1M114.5 207v1M116.5 22v1M118.5 89v1M120.5 31v1m0 126v1M135.5 124v1m0 253v1M145.5 181v1"/><path stroke="#3d4d8a" d="M2.5 113v2M3.5 39v1M4.5 33v1m0 182v1M5.5 29v1m0 322v1M7.5 162v1M8.5 22v1m0 244v1M13.5 98v1m0 274v1M15.5 398v1M16.5 191v1M18.5 168v1M22.5 27v1M23.5 142v1M24.5 23v1M25.5 244v1m0 2v1m0 7v1m0 22v1m0 31v1M31.5 83v1M40.5 395v1M41.5 29v1m0 267v1M42.5 133v1M44.5 30v1M45.5 29v1M48.5 34v1M51.5 103v1M54.5 20v1M55.5 107v1m0 268v1M57.5 26v1M62.5 109v1m0 7v1m0 40v1M64.5 77v1m0 9v1M66.5 232v1M67.5 34v1m0 354v1M68.5 29v1m0 339v1M70.5 25v1m0 273v1M73.5 23v1M74.5 193v1m0 184v1M76.5 305v1M81.5 311v1m0 39v1M84.5 29v1M85.5 29v1m0 28v1M91.5 295v1M92.5 333v1M96.5 23v1M99.5 156v1M106.5 20v1m0 1v1M108.5 159v1M110.5 240v1m0 84v1M116.5 210v1M125.5 258v1m0 92v1M135.5 16v1m0 312v1"/><path stroke="#3b528b" d="M1.5 36v1M2.5 29v1m0 262v1M6.5 30v1M10.5 290v1M12.5 328v1M16.5 24v1M22.5 376v1M25.5 263v1M26.5 254v1M36.5 23v1M39.5 86v1M40.5 293v1M43.5 28v1M48.5 29v1M51.5 358v1M52.5 224v1M53.5 348v1M54.5 303v1M57.5 25v1M58.5 331v1M60.5 33v1M62.5 156v1M64.5 30v1m0 54v1M67.5 29v1M72.5 31v1M74.5 26v1M75.5 26v1M76.5 17v1M78.5 21v1M79.5 20v1M80.5 19v1m0 4v1M83.5 53v1M88.5 34v1M89.5 251v1M95.5 308v1M99.5 29v1M103.5 32v1M106.5 26v1M114.5 22v1M135.5 18v1m0 60v1"/><path stroke="#39568c" d="M3.5 32v1M10.5 30v1M14.5 28v1M16.5 21v1M17.5 19v1M21.5 14v1M27.5 20v1M28.5 25v1M31.5 29v1M36.5 22v1M41.5 261v1M49.5 20v1M52.5 20v2M58.5 27v1M60.5 28v2M62.5 116v1M64.5 29v1m0 44v1M66.5 24v1m0 3v1M68.5 169v1M69.5 385v1M72.5 24v1m0 5v1m0 308v1M78.5 27v1M88.5 17v1M91.5 91v1M97.5 30v1M98.5 30v1M100.5 29v1M104.5 30v1M130.5 348v1M135.5 17v1M150.5 20v1"/><path stroke="#375b8d" d="M1.5 35v1M6.5 28v1M13.5 28v1M25.5 31v1m0 219v1m0 17v1m0 2v1m0 2v1M29.5 28v1M30.5 25v1M32.5 28v1M42.5 26v1M57.5 23v1M59.5 26v1M63.5 10v1m0 4v1M64.5 24v1m0 57v1m0 3v1M68.5 22v1M74.5 25v1M81.5 29v1M85.5 189v1M86.5 28v1M92.5 29v1M101.5 24v1M140.5 17v1M150.5 21v1"/><path stroke="#355f8d" d="M9.5 28v1M14.5 30v1M15.5 22v2m0 4v1M22.5 25v1M25.5 246v1M33.5 13v2M46.5 30v1M49.5 21v1M50.5 22v1M54.5 23v1M62.5 157v1M64.5 88v1M69.5 28v1M70.5 28v1M72.5 17v1M73.5 24v1M81.5 31v1M95.5 24v1M102.5 27v1M116.5 21v1M118.5 19v1M125.5 16v1"/><path stroke="#32648e" d="M0.5 28v1M3.5 34v1M4.5 30v1M13.5 29v1M23.5 24v1M25.5 26v1m0 223v1M30.5 29v1M42.5 27v1M45.5 25v1M58.5 28v1M85.5 22v1M86.5 29v1M95.5 29v1M101.5 21v1M118.5 20v1M145.5 20v1"/><path stroke="#31688e" d="M7.5 22v1M17.5 21v1M30.5 27v1M31.5 27v1M36.5 19v1M37.5 29v1M62.5 23v1m0 130v1M63.5 11v1M67.5 27v1M70.5 26v1M77.5 28v1M80.5 20v1M81.5 27v1M92.5 32v1M101.5 23v1M104.5 33v1M114.5 20v1"/><path stroke="#2f6c8e" d="M25.5 277v1M31.5 31v1M37.5 28v1M39.5 28v1M41.5 28v1M43.5 24v2M47.5 20v1M53.5 12v1M59.5 28v1M60.5 22v1M63.5 13v1M67.5 22v1M77.5 17v1M80.5 17v1M85.5 28v1M96.5 20v1M102.5 28v1M105.5 27v1"/><path stroke="#2d708e" d="M6.5 29v1M9.5 30v1M14.5 29v1M24.5 24v1M25.5 279v1M33.5 11v1M43.5 17v1M44.5 27v1M53.5 9v1M55.5 25v1M58.5 29v1M62.5 118v1M67.5 28v1M72.5 26v1M76.5 28v1M81.5 28v1M82.5 25v1M84.5 24v1M91.5 29v1M93.5 24v1M94.5 24v2M110.5 23v1M116.5 20v1M135.5 14v1M140.5 16v1"/><path stroke="#2b748e" d="M8.5 23v1M12.5 26v1M21.5 15v2M26.5 13v1M29.5 25v1M37.5 27v1M40.5 22v1M45.5 28v1M47.5 26v1M48.5 28v1M50.5 23v1M61.5 28v1M75.5 27v1M78.5 20v1M84.5 28v1M86.5 25v1m0 9v1M87.5 28v1M93.5 29v1M94.5 28v1M97.5 25v1M100.5 28v1M101.5 22v1M120.5 18v1M145.5 21v1"/><path stroke="#2a788e" d="M4.5 25v1M8.5 21v1M11.5 28v1M13.5 26v1M15.5 16v1M21.5 0v1m0 12v1M25.5 256v1M27.5 17v1M34.5 23v1M35.5 17v1M38.5 17v1M47.5 25v1M50.5 18v1M54.5 16v1M62.5 159v1M65.5 28v2M69.5 27v1M70.5 29v1M78.5 15v1M84.5 26v1M87.5 24v1M88.5 28v1M95.5 27v1M103.5 27v1M104.5 17v1m0 6v2m0 2v1M118.5 17v1"/><path stroke="#287c8e" d="M7.5 19v1M8.5 19v1M18.5 26v1m0 1v1M20.5 24v1M22.5 23v1M25.5 264v1M27.5 18v1M28.5 26v1M33.5 10v1m0 1v1M38.5 27v2M42.5 17v1m0 10v1M43.5 27v1M46.5 25v2M50.5 20v1M63.5 9v1M71.5 28v1M77.5 25v1M90.5 4v1M91.5 28v1M93.5 26v1M95.5 17v1M97.5 26v1m0 1v1M102.5 23v1m0 1v1M104.5 26v1M118.5 16v1M125.5 9v2M150.5 17v1"/><path stroke="#27808e" d="M0.5 27v1M1.5 32v1M5.5 22v1M15.5 21v1M17.5 16v1M19.5 27v1M33.5 15v1M40.5 20v1M46.5 23v2M51.5 27v1M56.5 25v1M63.5 16v1M65.5 27v1M68.5 21v1M74.5 28v1M82.5 26v1M83.5 28v1M88.5 27v1M89.5 28v1M95.5 25v1M103.5 24v1M130.5 13v1M150.5 16v1"/><path stroke="#25848e" d="M5.5 26v1M7.5 17v1M10.5 25v1M13.5 27v1M19.5 23v1M26.5 19v1M27.5 19v1M34.5 19v1M49.5 14v2m0 3v1M51.5 17v1M55.5 24v1M63.5 12v1M71.5 22v1M73.5 19v2M83.5 22v1m0 1v1M86.5 24v1M88.5 23v1M92.5 28v1M99.5 25v1M106.5 19v1"/><path stroke="#23888e" d="M1.5 34v1M3.5 30v1M4.5 26v1M5.5 27v1M15.5 18v1M17.5 18v1M27.5 16v1M31.5 28v1M38.5 26v1M41.5 26v1M44.5 25v1M53.5 11v1M54.5 14v1M60.5 26v2M65.5 26v1M66.5 26v1M67.5 24v1M68.5 20v1M70.5 24v1M73.5 21v2M74.5 24v1M81.5 26v1M82.5 22v1M83.5 25v1M84.5 17v1M86.5 17v1m0 8v1M89.5 24v1M90.5 0v1m0 14v1M95.5 22v1M98.5 25v1M99.5 22v1M100.5 26v2M112.5 15v1M114.5 19v1M118.5 18v1M120.5 15v1M125.5 14v1M130.5 11v1M140.5 13v1"/><path stroke="#228c8d" d="M12.5 23v1m0 1v1M14.5 24v1M19.5 28v1M24.5 19v1M25.5 24v1M27.5 13v1M30.5 22v1M32.5 26v1M33.5 3v1m0 5v1M34.5 24v1M36.5 15v1M37.5 24v1M39.5 26v1M41.5 25v1M42.5 22v1M45.5 26v1M48.5 24v1M49.5 18v1M52.5 15v1m0 2v1M53.5 13v1M62.5 22v1M63.5 6v1m0 1v1M66.5 25v1m0 1v1M73.5 18v1M74.5 17v1M81.5 17v1M89.5 27v1M90.5 14v1M92.5 22v1m0 2v2M94.5 22v1M96.5 18v1M98.5 22v1M101.5 20v1M103.5 23v1M120.5 19v1M130.5 15v1M135.5 11v1"/><path stroke="#21918c" d="M14.5 27v1M21.5 6v1M23.5 20v1M24.5 21v1M25.5 28v1M32.5 27v1M41.5 27v1M45.5 17v1M56.5 24v1M62.5 20v1M63.5 18v1M71.5 26v1M79.5 18v1M80.5 13v1m0 1v1M82.5 28v1M83.5 17v1m0 2v1M90.5 12v1M96.5 19v1M99.5 24v1M108.5 22v1M112.5 16v1M116.5 19v1M120.5 13v1M135.5 15v1"/><path stroke="#1f948c" d="M0.5 23v2M1.5 33v1M16.5 18v1M20.5 21v1M23.5 23v1M26.5 15v1M29.5 24v1M30.5 26v1M37.5 17v1M44.5 17v1m0 10v1M46.5 20v2M53.5 7v1M58.5 22v1M61.5 26v2M64.5 28v1M65.5 24v1M69.5 24v2M73.5 16v1M78.5 19v1M79.5 16v1M82.5 17v1M85.5 25v1M95.5 28v1M96.5 17v1M98.5 27v1M99.5 27v1M103.5 28v1M104.5 27v1M106.5 14v1M108.5 19v1M110.5 22v1M114.5 15v1M130.5 9v1m0 4v1M150.5 14v1"/><path stroke="#1f988b" d="M0.5 26v1M5.5 23v1m0 4v1M7.5 21v1M8.5 20v1M12.5 27v1M22.5 18v1M31.5 17v1M35.5 25v1m0 1v1M39.5 23v1M48.5 26v1M51.5 24v1M52.5 19v1M53.5 8v1M61.5 22v1M63.5 17v1M64.5 17v1M68.5 18v1M73.5 17v1M75.5 17v1M76.5 26v1M78.5 16v1M79.5 19v1M84.5 27v1M85.5 26v1M89.5 25v1M93.5 25v1m0 2v1M95.5 20v1m0 5v1M97.5 22v1M100.5 25v1M112.5 19v1M114.5 14v1M116.5 14v1M135.5 12v2M140.5 10v1m0 1v1"/><path stroke="#1e9c89" d="M2.5 25v1m0 1v1M3.5 28v1M6.5 26v1M7.5 18v1M8.5 16v2M10.5 23v1M14.5 23v1M21.5 7v1M22.5 17v1M23.5 18v1M28.5 23v1M29.5 27v1M30.5 24v1m0 3v1M39.5 17v1M41.5 24v1M42.5 23v1M44.5 22v1M45.5 24v1M53.5 10v1M56.5 20v1M59.5 23v1M67.5 25v1M68.5 15v1M70.5 17v1m0 4v1M76.5 27v1M77.5 26v1M78.5 13v1m0 4v1M87.5 26v1M88.5 24v2M90.5 9v1m0 6v1M94.5 27v1M99.5 26v1M103.5 25v1M105.5 22v1M118.5 15v1M125.5 13v1"/><path stroke="#1fa188" d="M1.5 30v1M2.5 28v1M4.5 27v1M8.5 18v1M13.5 22v1M14.5 26v1M18.5 25v1M24.5 20v1M26.5 18v1M31.5 24v1M39.5 20v1M40.5 21v1M45.5 27v1M46.5 22v1M47.5 24v1M49.5 17v1M50.5 15v1m0 5v1M56.5 26v1M57.5 19v1M58.5 17v1M60.5 17v1M61.5 24v1M62.5 19v1M63.5 14v1M65.5 25v1M67.5 17v1m0 8v1M68.5 19v1M72.5 28v1M83.5 27v1M87.5 25v1M91.5 17v1m0 8v1M98.5 23v2M103.5 17v1M105.5 25v2M135.5 9v1M140.5 15v1"/><path stroke="#20a486" d="M6.5 27v1M9.5 22v1M12.5 28v1M13.5 24v1M15.5 19v1M16.5 17v1m0 2v1M17.5 14v2M19.5 22v1M20.5 23v1M24.5 17v1M25.5 22v1M32.5 24v1M35.5 26v1M36.5 20v1M38.5 24v1M39.5 24v1M42.5 24v1M50.5 16v2M52.5 16v1M54.5 13v1M55.5 22v1M56.5 19v1M61.5 25v1M79.5 17v1M85.5 27v1M86.5 20v1M87.5 17v1M91.5 22v1m0 4v1M104.5 20v1M108.5 21v1M116.5 18v1M120.5 14v1M125.5 15v1M135.5 10v1M140.5 11v1M145.5 17v1"/><path stroke="#22a884" d="M3.5 31v1M8.5 15v1M10.5 27v1M11.5 24v1M12.5 22v1M13.5 23v1M15.5 20v1M19.5 26v1M21.5 5v1M27.5 14v1M28.5 20v1m0 3v1M32.5 25v1M33.5 1v1m0 6v1M36.5 18v1M37.5 26v1M40.5 16v1M43.5 22v1M44.5 26v1M46.5 19v1M47.5 21v1m0 1v1M57.5 22v1m0 1v1M59.5 17v1M64.5 26v1M69.5 20v1M70.5 27v1M72.5 25v1m0 1v1M73.5 15v1M74.5 23v1M76.5 22v1M77.5 22v1M79.5 15v1M81.5 25v1M91.5 24v1M98.5 26v1m0 1v1M103.5 22v1M106.5 18v1M108.5 24v1M110.5 21v1M116.5 15v1"/><path stroke="#25ac82" d="M4.5 22v1m0 1v1M6.5 23v1M7.5 15v1M10.5 28v1M17.5 20v1M18.5 9v1m0 17v1M20.5 22v1M22.5 22v1M23.5 22v1M24.5 22v1M26.5 14v1m0 1v2M28.5 19v1M31.5 25v1M34.5 22v1M39.5 25v1M57.5 21v1M59.5 25v1M64.5 27v1M71.5 24v1M72.5 22v1M80.5 16v1m0 1v1M82.5 24v1M85.5 23v1M87.5 27v1M88.5 26v1M102.5 26v1M105.5 24v1M108.5 17v1M114.5 17v1M116.5 17v1M120.5 16v2M140.5 9v1M145.5 18v1"/><path stroke="#2ab07f" d="M2.5 26v1M7.5 16v1M11.5 22v2M14.5 25v1M15.5 17v1M35.5 20v1m0 3v1M37.5 22v1M52.5 17v1M55.5 5v1m0 14v1M59.5 22v1M61.5 20v1M62.5 21v1M65.5 17v1M71.5 27v1M75.5 20v1M76.5 24v1M79.5 14v1M84.5 20v1M92.5 27v1M106.5 16v1M110.5 19v1M114.5 16v1M125.5 12v1"/><path stroke="#2fb47c" d="M2.5 22v1M9.5 25v1M11.5 25v1m0 1v1M16.5 15v1M30.5 20v1M35.5 22v1M36.5 16v1m0 4v1M37.5 25v1M38.5 25v1M48.5 20v1m0 1v1M54.5 15v1M59.5 27v1M60.5 25v1M69.5 17v1M77.5 20v1m0 3v1M78.5 17v1M81.5 23v1M82.5 23v1M89.5 26v1M90.5 1v1M92.5 24v1M101.5 19v1M102.5 24v1M106.5 17v1M118.5 13v1"/><path stroke="#35b779" d="M0.5 25v1M3.5 33v1M9.5 26v1M25.5 27v1M32.5 23v1M43.5 26v1M44.5 20v1m0 3v1M48.5 23v1m0 3v1M50.5 19v1M55.5 19v1M57.5 20v1M58.5 23v2m0 1v1M59.5 24v1M66.5 22v1M67.5 20v1M68.5 17v1M93.5 22v1m0 4v1M96.5 15v2M98.5 17v1M99.5 20v1M100.5 22v1M101.5 16v3M125.5 11v1M130.5 12v1M140.5 14v1M145.5 15v1M150.5 15v1"/><path stroke="#3bbb75" d="M5.5 25v1M7.5 20v1M9.5 23v1M10.5 26v1M13.5 25v1M15.5 15v1M27.5 15v1M33.5 7v1M52.5 14v1M65.5 7v1M71.5 25v1M75.5 24v1M84.5 7v1M94.5 26v1M95.5 23v1M100.5 17v1M103.5 26v1M112.5 17v1M145.5 14v1M150.5 18v2"/><path stroke="#44bf70" d="M5.5 24v1M10.5 24v1M19.5 24v1M22.5 21v1M32.5 21v1M38.5 22v1M41.5 22v1M42.5 20v1m0 4v1M56.5 22v2M58.5 20v1M62.5 17v1M64.5 25v1M65.5 20v1m0 2v1M69.5 23v1M80.5 14v1M86.5 27v1M91.5 25v1M96.5 14v1M97.5 27v1M108.5 18v1M112.5 18v1M116.5 11v1M118.5 8v1"/><path stroke="#4cc26c" d="M20.5 25v1M23.5 19v1M28.5 21v1M29.5 20v1M31.5 26v1M32.5 22v1M40.5 19v1M45.5 22v1M54.5 11v1M55.5 23v1M59.5 11v1M60.5 20v1M65.5 22v1M72.5 20v1M78.5 14v1M81.5 24v1M82.5 27v1M83.5 26v1M93.5 20v1M100.5 24v1M101.5 15v1M102.5 2v1m0 19v1M106.5 15v1M114.5 18v1M116.5 16v1M150.5 13v1"/><path stroke="#54c568" d="M0.5 22v1M2.5 23v1M4.5 23v1M10.5 22v1M17.5 13v1M29.5 22v1M51.5 26v1M58.5 25v1M62.5 18v1M69.5 5v1M77.5 27v1M84.5 22v1M87.5 20v1M92.5 16v1M93.5 17v1M110.5 18v1M145.5 19v1"/><path stroke="#5ec962" d="M1.5 31v1M4.5 3v1M9.5 27v1M12.5 24v1M14.5 22v1M17.5 17v1M20.5 19v1M22.5 19v1M23.5 21v1M24.5 18v1M38.5 20v1M56.5 21v1M64.5 23v1M68.5 16v1M75.5 23v1M76.5 25v1M104.5 22v1M112.5 14v1"/><path stroke="#67cc5c" d="M2.5 5v1M6.5 25v1M28.5 22v1M29.5 26v1M34.5 21v1M36.5 17v1M50.5 14v1M87.5 22v1M89.5 22v1M92.5 5v1M98.5 20v1M110.5 17v1M130.5 10v1"/><path stroke="#70cf57" d="M3.5 29v1M6.5 24v1M11.5 26v1M18.5 24v1M19.5 25v1M22.5 6v1M25.5 23v1M35.5 0v1M39.5 22v1M40.5 17v1M49.5 16v1M51.5 22v1M66.5 20v1M74.5 22v1m0 4v1M75.5 22v1m0 2v1M86.5 22v1M88.5 22v1M89.5 20v1M110.5 20v1M118.5 14v1M130.5 8v1"/><path stroke="#7ad151" d="M16.5 16v1M20.5 20v1M43.5 12v1M46.5 2v1M103.5 20v1"/><path stroke="#86d549" d="M1.5 29v1M2.5 24v1M3.5 21v1M13.5 5v1M18.5 22v2M48.5 25v1M51.5 25v1M91.5 20v1"/><path stroke="#90d743" d="M16.5 19v1M25.5 25v1M31.5 22v1M34.5 20v1M47.5 22v1M60.5 24v1M64.5 22v1M69.5 26v1M81.5 22v1M85.5 24v1M92.5 20v1"/><path stroke="#9bd93c" d="M9.5 24v1M14.5 4v1M22.5 20v1M23.5 17v1M40.5 18v1M47.5 19v1M55.5 21v1M61.5 23v1M76.5 20v1M97.5 24v1M102.5 20v1M105.5 13v1m0 6v1M145.5 1v1"/><path stroke="#a5db36" d="M6.5 22v1M31.5 20v1M69.5 22v1M100.5 20v1"/><path stroke="#b2dd2d" d="M4.5 12v1M11.5 3v1M60.5 10v1M81.5 20v1M88.5 20v1M145.5 16v1"/><path stroke="#bddf26" d="M18.5 21v1M70.5 20v1M93.5 0v1M99.5 9v1"/><path stroke="#c8e020" d="M40.5 9v1M43.5 20v1M48.5 7v1"/><path stroke="#d2e21b" d="M11.5 4v1M51.5 20v1"/><path stroke="#eae51a" d="M108.5 20v1"/><path stroke="#f4e61e" d="M54.5 12v1"/><path stroke="#fde725" d="M0.5 0v22M1.5 0v29M2.5 0v5m0 1v16M3.5 0v21m0 1v6M4.5 0v3m0 1v8m0 1v9M5.5 0v22M6.5 0v22M7.5 0v15M8.5 0v15M9.5 0v22M10.5 0v22M11.5 0v3m0 2v17M12.5 0v22M13.5 0v5m0 1v16M14.5 0v4m0 1v17M15.5 0v15M16.5 0v15M17.5 0v13M18.5 0v9m0 1v11M19.5 0v22M20.5 0v19M21.5 1v4m0 3v5M22.5 0v6m0 1v10M23.5 0v17M24.5 0v17M25.5 0v22M26.5 0v13M27.5 0v13M28.5 0v19M29.5 0v17m0 1v2m0 1v1m0 1v1M30.5 0v20m0 1v1m0 1v1M31.5 0v17m0 1v2m0 1v1m0 1v1M32.5 0v21M33.5 0v1m0 1v1m0 1v3M34.5 0v19M35.5 1v16m0 1v2m0 1v1m0 1v1M36.5 0v15M37.5 0v17m0 1v4m0 1v1M38.5 0v17m0 1v2m0 1v1m0 1v1M39.5 0v17m0 1v2m0 1v1M40.5 0v9m0 1v6M41.5 0v22m0 1v1M42.5 0v17m0 1v2m0 1v1M43.5 0v12m0 1v4m0 1v2m0 1v1m0 1v1M44.5 0v17m0 1v2m0 1v1m0 1v1M45.5 0v17m0 1v4m0 1v1M46.5 0v2m0 1v16M47.5 0v19M48.5 0v7m0 1v12m0 1v1M49.5 0v14M50.5 0v14M51.5 0v17m0 1v2m0 1v1m0 1v1M52.5 0v14M53.5 0v7M54.5 0v11M55.5 0v5m0 1v13M56.5 0v19M57.5 0v19M58.5 0v17m0 1v2m0 1v1M59.5 0v11m0 1v5m0 1v4M60.5 0v10m0 1v6m0 1v2m0 1v1m0 1v1M61.5 0v20m0 1v1M62.5 0v17M63.5 0v6m0 1v1M64.5 0v17m0 1v4M65.5 0v7m0 1v9m0 1v2m0 1v1M66.5 0v20m0 1v1m0 1v1M67.5 0v17m0 1v2m0 1v1m0 1v1M68.5 0v15M69.5 0v5m0 1v11m0 1v2m0 1v1M70.5 0v17m0 1v2m0 1v1m0 1v1M71.5 0v17m0 1v4m0 1v1M72.5 0v17m0 1v2m0 1v1m0 1v1M73.5 0v15M74.5 0v17m0 1v4M75.5 0v17m0 1v2m0 1v1M76.5 0v17m0 1v2m0 1v1m0 1v1M77.5 0v17m0 1v2m0 1v1m0 1v1M78.5 0v13M79.5 0v14M80.5 0v13M81.5 0v17m0 1v2m0 1v1M82.5 0v17m0 1v4M83.5 0v17m0 1v2m0 1v1m0 1v1M84.5 0v7m0 1v9m0 1v2m0 1v1m0 1v1M85.5 0v22M86.5 0v17m0 1v2m0 1v1m0 1v1M87.5 0v17m0 1v2m0 1v1m0 1v1M88.5 0v17m0 1v2m0 1v1M89.5 0v20m0 1v1m0 1v1M90.5 2v2m0 1v4m0 1v2m0 1v1M91.5 0v17m0 1v2m0 1v1m0 1v1M92.5 0v5m0 1v10m0 1v3m0 1v1m0 1v1M93.5 1v16m0 1v2m0 1v1m0 1v1M94.5 0v22m0 1v1M95.5 0v17m0 1v2m0 1v1M96.5 0v14M97.5 0v22m0 1v1M98.5 0v17m0 1v2m0 1v1M99.5 0v9m0 1v10m0 1v1m0 1v1M100.5 0v17m0 1v2m0 1v1m0 1v1M101.5 0v15M102.5 0v2m0 1v17m0 1v1M103.5 0v17m0 1v2m0 1v1M104.5 0v17m0 1v2m0 1v1m0 1v1M105.5 0v13m0 1v6m0 1v1m0 1v1M106.5 0v14M108.5 0v17M110.5 0v17M112.5 0v14M114.5 0v14M116.5 0v11m0 1v2M118.5 0v8m0 1v4M120.5 0v13M125.5 0v9M130.5 0v8M135.5 0v9M140.5 0v9M145.5 0v1m0 1v12M150.5 0v13"/></g><g shape-rendering="crispEdges"><rect x="98" y="84" width="865" height="1" fill="#f1f1f1"/><rect x="98" y="823" width="865" height="1" fill="#f1f1f1"/><rect x="97" y="85" width="1" height="738" fill="#f1f1f1"/><rect x="963" y="85" width="1" height="738" fill="#f1f1f1"/><rect x="99" y="821" width="863" height="1" fill="#f1f1f1"/><rect x="961" y="86" width="1" height="736" fill="#f1f1f1"/><rect x="98" y="85" width="865" height="1" fill="#000"/><rect x="98" y="822" width="865" height="1" fill="#000"/><rect x="98" y="85" width="1" height="738" fill="#000"/><rect x="962" y="85" width="1" height="738" fill="#000"/><rect x="93" y="85" width="5" height="1" fill="#000"/><rect x="92" y="85" width="1" height="1" fill="#7f7f7f"/><rect x="93" y="206" width="5" height="1" fill="#000"/><rect x="92" y="206" width="1" height="1" fill="#7f7f7f"/><rect x="93" y="327" width="5" height="1" fill="#000"/><rect x="92" y="327" width="1" height="1" fill="#7f7f7f"/><rect x="93" y="448" width="5" height="1" fill="#000"/><rect x="92" y="448" width="1" height="1" fill="#7f7f7f"/><rect x="93" y="568" width="5" height="1" fill="#000"/><rect x="92" y="568" width="1" height="1" fill="#7f7f7f"/><rect x="93" y="689" width="5" height="1" fill="#000"/><rect x="92" y="689" width="1" height="1" fill="#7f7f7f"/><rect x="93" y="810" width="5" height="1" fill="#000"/><rect x="92" y="810" width="1" height="1" fill="#7f7f7f"/><rect x="179" y="823" width="1" height="4" fill="#000"/><rect x="179" y="827" width="1" height="1" fill="#7f7f7f"/><rect x="287" y="823" width="1" height="4" fill="#000"/><rect x="287" y="827" width="1" height="1" fill="#7f7f7f"/><rect x="395" y="823" width="1" height="4" fill="#000"/><rect x="395" y="827" width="1" height="1" fill="#7f7f7f"/><rect x="503" y="823" width="1" height="4" fill="#000"/><rect x="503" y="827" width="1" height="1" fill="#7f7f7f"/><rect x="611" y="823" width="1" height="4" fill="#000"/><rect x="611" y="827" width="1" height="1" fill="#7f7f7f"/><rect x="719" y="823" width="1" height="4" fill="#000"/><rect x="719" y="827" width="1" height="1" fill="#7f7f7f"/><rect x="827" y="823" width="1" height="4" fill="#000"/><rect x="827" y="827" width="1" height="1" fill="#7f7f7f"/><rect x="935" y="823" width="1" height="4" fill="#000"/><rect x="935" y="827" width="1" height="1" fill="#7f7f7f"/><rect x="1017" y="86" width="35" height="736" fill="url(#vir)"/><rect x="1016" y="84" width="37" height="1" fill="#f1f1f1"/><rect x="1016" y="823" width="37" height="1" fill="#f1f1f1"/><rect x="1015" y="85" width="1" height="738" fill="#f1f1f1"/><rect x="1053" y="85" width="1" height="738" fill="#f1f1f1"/><rect x="1016" y="85" width="37" height="1" fill="#000"/><rect x="1016" y="822" width="37" height="1" fill="#000"/><rect x="1016" y="85" width="1" height="738" fill="#000"/><rect x="1052" y="85" width="1" height="738" fill="#000"/><rect x="1053" y="822" width="4" height="1" fill="#000"/><rect x="1057" y="822" width="1" height="1" fill="#7f7f7f"/><rect x="1053" y="699" width="4" height="1" fill="#000"/><rect x="1057" y="699" width="1" height="1" fill="#7f7f7f"/><rect x="1053" y="576" width="4" height="1" fill="#000"/><rect x="1057" y="576" width="1" height="1" fill="#7f7f7f"/><rect x="1053" y="454" width="4" height="1" fill="#000"/><rect x="1057" y="454" width="1" height="1" fill="#7f7f7f"/><rect x="1053" y="331" width="4" height="1" fill="#000"/><rect x="1057" y="331" width="1" height="1" fill="#7f7f7f"/><rect x="1053" y="208" width="4" height="1" fill="#000"/><rect x="1057" y="208" width="1" height="1" fill="#7f7f7f"/><rect x="1053" y="85" width="4" height="1" fill="#000"/><rect x="1057" y="85" width="1" height="1" fill="#7f7f7f"/></g><text x="159.37 167.09 185.81 203.19 211.65 230.59 239.08 249.8 267.55 283.77 301.82 310.37 318.94 336.17 353.44 370.07 384.82 402.05 419.46 437.04 453.94 462.4 480.75 489.49 507.27 524.84 542.19 551.03 569.02 586.4 604.28 621.48 631.87 649.49 666.73 677.27 694.96 712.32 721.52 739.27 756.96 766.24 783.96 801.59 811.02 828.77 846.19 855.07 863.16 883.37" y="43.86" font-size="29.40" xml:space="preserve">IRF Kiruna Ionosonde KI167 2025-11-07 00:17:00  UT</text><text x="224.57 241.83 258.99 266.21 281.05 296.46 312.66 321.85 329.33 346.21 364.1 377.31 397.75 408.13 425.54 443.53 460.95 470.05 487.68 505.08 513.41 524.85 541.68 562.4 572.21 581.57 598.8 614.66 633.28 648.71 656.41 674.65 695.1 717.94 738.76 756.53 773.92 791.57 800.78 818.45" y="76.18" font-size="29.40" xml:space="preserve">noise_floor=-120.55 (dB) peak SNR=102.09</text><text x="48 61.38 74.63" y="93.21" font-size="22.10" xml:space="preserve">600</text><text x="48.41 61.74 74.99" y="213.98" font-size="22.10" xml:space="preserve">500</text><text x="48.28 61.53 74.78" y="334.81" font-size="22.10" xml:space="preserve">400</text><text x="48.53 61.75 75" y="455.91" font-size="22.10" xml:space="preserve">300</text><text x="48.25 61.78 75.03" y="576.09" font-size="22.10" xml:space="preserve">200</text><text x="47.53 60.9 74.15" y="696.62" font-size="22.10" xml:space="preserve">100</text><text x="75.35" y="817.99" font-size="22.10" xml:space="preserve">0</text><text x="171.85" y="847.38" font-size="22.10" xml:space="preserve">2</text><text x="280.42" y="847.45" font-size="22.10" xml:space="preserve">4</text><text x="388.28" y="847.72" font-size="22.10" xml:space="preserve">6</text><text x="497.35" y="847.97" font-size="22.10" xml:space="preserve">8</text><text x="597.66 611.02" y="847.43" font-size="22.10" xml:space="preserve">10</text><text x="706.01 719.1" y="847.62" font-size="22.10" xml:space="preserve">12</text><text x="814.05 827.41" y="847.07" font-size="22.10" xml:space="preserve">14</text><text x="921.62 934.99" y="847.83" font-size="22.10" xml:space="preserve">16</text><text x="441.07 453.37 460.8 473.71 487.03 500.05 513.12 525.7 537.88 549.86 556.07 564.16 582.09 597.92 609.69" y="872.16" font-size="22.10" xml:space="preserve">Frequency (MHz)</text><text transform="translate(37.08 456.52) rotate(-90)" x="-93.67 -79.22 -72.79 -64.21 -56.63 -44.47 -30.73 -25.05 -17.67 -10.59 3.21 16.18 29.39 42.2 48.41 57.37 69.71 89.9" y="0" font-size="22.10" xml:space="preserve">Virtual range (km)</text><text x="1062.35" y="829.99" font-size="22.10" xml:space="preserve">0</text><text x="1061.88" y="706.98" font-size="22.10" xml:space="preserve">5</text><text x="1061.66 1075.02" y="583.43" font-size="22.10" xml:space="preserve">10</text><text x="1061.88 1075.16" y="461.47" font-size="22.10" xml:space="preserve">15</text><text x="1061.38 1074.9" y="339.15" font-size="22.10" xml:space="preserve">20</text><text x="1061.6 1075.04" y="216.17" font-size="22.10" xml:space="preserve">25</text><text x="1061.65 1074.87" y="92.87" font-size="22.10" xml:space="preserve">30</text><text transform="translate(1108.82 456.08) rotate(-90)" x="-45.61 -31.9 -16.63 -1.6 4.61 13.26 25.9 41.36" y="0" font-size="22.10" xml:space="preserve">SNR (dB)</text></svg></body></html>
